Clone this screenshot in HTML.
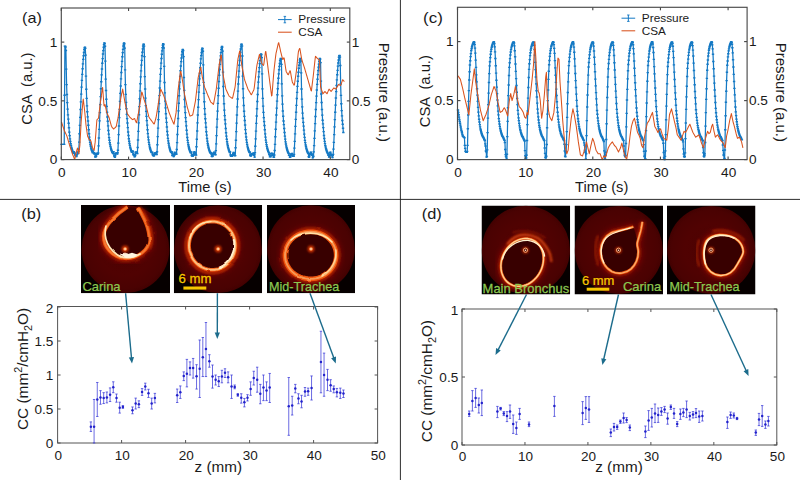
<!DOCTYPE html>
<html><head><meta charset="utf-8"><title>Figure</title>
<style>html,body{margin:0;padding:0;background:#fff;}body{width:800px;height:480px;overflow:hidden;font-family:"Liberation Sans",sans-serif;}svg{display:block;font-family:"Liberation Sans",sans-serif;}</style>
</head><body>
<svg width="800" height="480" viewBox="0 0 800 480">
<defs>
<radialGradient id="disc" cx="50%" cy="50%" r="50%"><stop offset="0" stop-color="#4c0101"/><stop offset="0.6" stop-color="#500202"/><stop offset="0.9" stop-color="#4a0202"/><stop offset="1" stop-color="#420101"/></radialGradient>
<filter id="b3" x="-40%" y="-40%" width="180%" height="180%"><feGaussianBlur stdDeviation="2.6"/></filter>
<filter id="b2" x="-30%" y="-30%" width="160%" height="160%"><feGaussianBlur stdDeviation="1.7"/></filter>
<filter id="b1" x="-30%" y="-30%" width="160%" height="160%"><feGaussianBlur stdDeviation="0.9"/></filter>
<filter id="rough" x="-10%" y="-10%" width="120%" height="120%"><feTurbulence type="fractalNoise" baseFrequency="0.07" numOctaves="2" seed="4" result="n"/><feDisplacementMap in="SourceGraphic" in2="n" scale="2.4" xChannelSelector="R" yChannelSelector="G" result="d"/><feGaussianBlur in="d" stdDeviation="0.55"/></filter>
<filter id="rough2" x="-10%" y="-10%" width="120%" height="120%"><feTurbulence type="fractalNoise" baseFrequency="0.06" numOctaves="2" seed="9" result="n"/><feDisplacementMap in="SourceGraphic" in2="n" scale="1.8" xChannelSelector="R" yChannelSelector="G" result="d"/><feGaussianBlur in="d" stdDeviation="0.35"/></filter>
<filter id="b07" x="-30%" y="-30%" width="160%" height="160%"><feGaussianBlur stdDeviation="0.65"/></filter>
<filter id="b05" x="-30%" y="-30%" width="160%" height="160%"><feGaussianBlur stdDeviation="0.35"/></filter>
<clipPath id="clipb1"><rect x="81" y="205" width="89" height="88.3"/></clipPath>
<clipPath id="clipb2"><rect x="173.8" y="205" width="88.3" height="88.3"/></clipPath>
<clipPath id="clipb3"><rect x="267" y="205" width="88" height="88.3"/></clipPath>
<clipPath id="clipd1"><rect x="481.5" y="205.5" width="88.7" height="89"/></clipPath>
<clipPath id="clipd2"><rect x="574.5" y="205.5" width="88.5" height="89"/></clipPath>
<clipPath id="clipd3"><rect x="667" y="205.5" width="88.5" height="89"/></clipPath>
</defs>
<rect x="0" y="0" width="800" height="480" fill="#ffffff"/>
<line x1="0.00" y1="199.40" x2="800.00" y2="199.40" stroke="#222" stroke-width="0.95" />
<line x1="400.40" y1="0.00" x2="400.40" y2="480.00" stroke="#222" stroke-width="0.95" />
<path d="M61.50 144.32 L61.84 144.32 L62.18 144.32 L62.52 144.32 L62.86 144.32 L63.20 144.32 L63.54 144.32 L63.88 144.32 L64.22 144.32 L64.56 95.21 L64.90 46.09 L65.24 46.19 L65.58 47.00 L65.92 50.49 L66.26 69.08 L66.60 84.61 L66.94 94.50 L67.28 102.60 L67.62 109.19 L67.96 114.87 L68.30 119.09 L68.64 123.25 L68.98 127.79 L69.32 132.19 L69.66 135.60 L70.00 138.89 L70.34 141.33 L70.68 143.69 L71.02 145.44 L71.36 147.20 L71.70 148.47 L72.04 149.70 L72.38 150.74 L72.72 151.62 L73.06 152.49 L73.40 153.20 L73.74 151.65 L74.08 152.51 L74.42 153.20 L74.76 153.24 L75.10 154.64 L75.44 155.93 L75.78 155.13 L76.12 155.57 L76.46 156.54 L76.80 154.90 L77.14 154.15 L77.48 152.35 L77.82 152.28 L78.16 153.49 L78.50 151.66 L78.84 149.09 L79.18 142.08 L79.52 133.73 L79.86 125.37 L80.20 117.43 L80.54 109.54 L80.88 101.83 L81.22 94.14 L81.56 87.10 L81.90 80.33 L82.24 74.37 L82.58 68.73 L82.92 63.89 L83.26 59.38 L83.60 55.76 L83.94 52.51 L84.28 49.42 L84.62 47.66 L84.96 47.21 L85.30 48.43 L85.64 55.12 L85.98 76.19 L86.32 89.21 L86.66 98.40 L87.00 105.92 L87.34 111.73 L87.68 116.88 L88.02 120.95 L88.36 125.25 L88.70 129.76 L89.04 133.70 L89.38 137.08 L89.72 139.97 L90.06 142.40 L90.40 144.47 L90.74 146.22 L91.08 147.80 L91.42 149.02 L91.76 150.24 L92.10 151.14 L92.44 152.01 L92.78 152.76 L93.12 150.94 L93.46 152.72 L93.80 152.79 L94.14 153.70 L94.48 153.25 L94.82 154.01 L95.16 156.93 L95.50 157.08 L95.84 156.66 L96.18 155.99 L96.52 154.40 L96.86 153.28 L97.20 153.66 L97.54 154.30 L97.88 153.53 L98.22 152.90 L98.56 145.92 L98.90 138.03 L99.24 129.37 L99.58 120.85 L99.92 112.67 L100.26 104.55 L100.60 96.58 L100.94 88.71 L101.28 81.70 L101.62 74.80 L101.96 68.96 L102.30 63.24 L102.64 58.56 L102.98 54.02 L103.32 50.65 L103.66 47.28 L104.00 44.69 L104.34 42.86 L104.68 43.44 L105.02 46.22 L105.36 61.10 L105.70 79.14 L106.04 90.48 L106.38 99.24 L106.72 106.44 L107.06 112.28 L107.40 116.98 L107.74 121.21 L108.08 125.84 L108.42 130.52 L108.76 134.13 L109.10 137.64 L109.44 140.25 L109.78 142.76 L110.12 144.64 L110.46 146.44 L110.80 147.87 L111.14 149.13 L111.48 150.29 L111.82 151.19 L112.16 152.09 L112.50 152.71 L112.84 152.55 L113.18 153.51 L113.52 151.63 L113.86 153.84 L114.20 156.00 L114.54 155.58 L114.88 157.32 L115.22 155.70 L115.56 153.80 L115.90 153.26 L116.24 152.88 L116.58 153.52 L116.92 153.08 L117.26 153.98 L117.60 152.78 L117.94 150.21 L118.28 143.12 L118.62 134.62 L118.96 125.96 L119.30 117.63 L119.64 109.44 L119.98 101.41 L120.32 93.44 L120.66 85.95 L121.00 78.93 L121.34 72.50 L121.68 66.65 L122.02 61.39 L122.36 56.72 L122.70 52.69 L123.04 49.32 L123.38 45.95 L123.72 43.97 L124.06 42.94 L124.40 43.77 L124.74 48.07 L125.08 69.93 L125.42 84.58 L125.76 94.32 L126.10 102.31 L126.44 108.74 L126.78 114.43 L127.12 118.65 L127.46 123.01 L127.80 127.68 L128.14 132.01 L128.48 135.52 L128.82 138.73 L129.16 141.24 L129.50 143.54 L129.84 145.35 L130.18 147.10 L130.52 148.37 L130.86 149.63 L131.20 150.64 L131.54 151.54 L131.88 152.40 L132.22 151.79 L132.56 150.98 L132.90 151.37 L133.24 153.99 L133.58 155.06 L133.92 154.38 L134.26 155.34 L134.60 156.76 L134.94 156.29 L135.28 155.37 L135.62 152.38 L135.96 152.03 L136.30 153.69 L136.64 152.06 L136.98 152.31 L137.32 153.64 L137.66 147.51 L138.00 140.02 L138.34 131.43 L138.68 122.88 L139.02 114.77 L139.36 106.67 L139.70 98.76 L140.04 90.85 L140.38 83.79 L140.72 76.84 L141.06 70.92 L141.40 65.12 L141.74 60.35 L142.08 55.72 L142.42 52.23 L142.76 48.89 L143.10 45.99 L143.44 44.18 L143.78 44.20 L144.12 46.15 L144.46 56.67 L144.80 76.59 L145.14 88.99 L145.48 98.09 L145.82 105.64 L146.16 111.44 L146.50 116.44 L146.84 120.63 L147.18 125.13 L147.52 129.77 L147.86 133.60 L148.20 137.08 L148.54 139.88 L148.88 142.37 L149.22 144.38 L149.56 146.17 L149.90 147.70 L150.24 148.95 L150.58 150.17 L150.92 151.07 L151.26 151.96 L151.60 152.66 L151.94 152.66 L152.28 152.29 L152.62 154.23 L152.96 155.24 L153.30 154.78 L153.64 155.98 L153.98 155.74 L154.32 154.64 L154.66 153.38 L155.00 153.82 L155.34 152.68 L155.68 152.72 L156.02 152.93 L156.36 153.07 L156.70 154.55 L157.04 151.77 L157.38 144.74 L157.72 136.64 L158.06 128.05 L158.40 119.68 L158.74 111.57 L159.08 103.55 L159.42 95.64 L159.76 88.01 L160.10 81.05 L160.44 74.43 L160.78 68.63 L161.12 63.17 L161.46 58.53 L161.80 54.26 L162.14 50.92 L162.48 47.57 L162.82 45.28 L163.16 43.70 L163.50 44.53 L163.84 47.98 L164.18 66.39 L164.52 82.53 L164.86 92.80 L165.20 101.14 L165.54 107.92 L165.88 113.72 L166.22 118.09 L166.56 122.32 L166.90 126.96 L167.24 131.49 L167.58 134.97 L167.92 138.37 L168.26 140.86 L168.60 143.29 L168.94 145.08 L169.28 146.87 L169.62 148.19 L169.96 149.45 L170.30 150.53 L170.64 151.42 L170.98 152.31 L171.32 151.70 L171.66 151.74 L172.00 153.27 L172.34 155.61 L172.68 153.99 L173.02 155.17 L173.36 154.62 L173.70 156.57 L174.04 155.31 L174.38 155.06 L174.72 152.27 L175.06 153.39 L175.40 153.96 L175.74 153.74 L176.08 153.21 L176.42 154.25 L176.76 149.51 L177.10 142.69 L177.44 134.51 L177.78 126.32 L178.12 118.54 L178.46 110.81 L178.80 103.25 L179.14 95.72 L179.48 88.81 L179.82 82.18 L180.16 76.31 L180.50 70.79 L180.84 66.02 L181.18 61.60 L181.52 58.02 L181.86 54.83 L182.20 51.77 L182.54 50.04 L182.88 49.53 L183.22 50.62 L183.56 56.61 L183.90 77.50 L184.24 90.41 L184.58 99.46 L184.92 106.82 L185.26 112.56 L185.60 117.65 L185.94 121.64 L186.28 125.83 L186.62 130.25 L186.96 134.14 L187.30 137.45 L187.64 140.31 L187.98 142.69 L188.32 144.74 L188.66 146.45 L189.00 148.01 L189.34 149.21 L189.68 150.40 L190.02 151.29 L190.36 152.14 L190.70 152.89 L191.04 152.11 L191.38 151.99 L191.72 155.54 L192.06 154.53 L192.40 156.29 L192.74 156.24 L193.08 154.84 L193.42 155.30 L193.76 154.09 L194.10 152.84 L194.44 151.64 L194.78 153.56 L195.12 152.74 L195.46 153.93 L195.80 155.01 L196.14 155.18 L196.48 146.73 L196.82 139.25 L197.16 130.98 L197.50 122.84 L197.84 115.02 L198.18 107.26 L198.52 99.65 L198.86 92.11 L199.20 85.42 L199.54 78.80 L199.88 73.22 L200.22 67.73 L200.56 63.26 L200.90 58.89 L201.24 55.67 L201.58 52.45 L201.92 49.93 L202.26 48.19 L202.60 48.67 L202.94 51.22 L203.28 64.86 L203.62 82.35 L203.96 93.34 L204.30 101.75 L204.64 108.68 L204.98 114.26 L205.32 118.79 L205.66 122.82 L206.00 127.24 L206.34 131.70 L206.68 135.19 L207.02 138.54 L207.36 141.05 L207.70 143.45 L208.04 145.26 L208.38 146.99 L208.72 148.36 L209.06 149.57 L209.40 150.68 L209.74 151.54 L210.08 152.40 L210.42 153.00 L210.76 152.32 L211.10 153.51 L211.44 154.10 L211.78 156.21 L212.12 156.66 L212.46 154.44 L212.80 156.04 L213.14 153.53 L213.48 152.99 L213.82 154.26 L214.16 152.08 L214.50 152.43 L214.84 154.00 L215.18 154.58 L215.52 154.77 L215.86 150.69 L216.20 143.81 L216.54 135.59 L216.88 127.18 L217.22 119.09 L217.56 111.14 L217.90 103.33 L218.24 95.59 L218.58 88.29 L218.92 81.48 L219.26 75.21 L219.60 69.53 L219.94 64.39 L220.28 59.85 L220.62 55.90 L220.96 52.63 L221.30 49.36 L221.64 47.39 L221.98 46.31 L222.32 47.13 L222.66 51.18 L223.00 72.11 L223.34 86.49 L223.68 95.95 L224.02 103.76 L224.36 110.06 L224.70 115.62 L225.04 119.72 L225.38 123.94 L225.72 128.48 L226.06 132.71 L226.40 136.12 L226.74 139.26 L227.08 141.70 L227.42 143.96 L227.76 145.71 L228.10 147.43 L228.44 148.66 L228.78 149.89 L229.12 150.88 L229.46 151.75 L229.80 152.60 L230.14 151.87 L230.48 154.81 L230.82 155.87 L231.16 156.35 L231.50 155.30 L231.84 156.34 L232.18 154.88 L232.52 155.56 L232.86 154.62 L233.20 153.56 L233.54 152.42 L233.88 152.83 L234.22 153.67 L234.56 155.64 L234.90 155.73 L235.24 155.63 L235.58 147.72 L235.92 140.28 L236.26 131.69 L236.60 123.12 L236.94 115.01 L237.28 106.90 L237.62 98.99 L237.96 91.09 L238.30 84.00 L238.64 77.04 L238.98 71.09 L239.32 65.29 L239.66 60.49 L240.00 55.85 L240.34 52.33 L240.68 48.99 L241.02 46.05 L241.36 44.24 L241.70 44.18 L242.04 46.02 L242.38 55.95 L242.72 76.15 L243.06 88.71 L243.40 97.86 L243.74 105.47 L244.08 111.27 L244.42 116.32 L244.76 120.50 L245.10 124.99 L245.44 129.63 L245.78 133.50 L246.12 136.98 L246.46 139.80 L246.80 142.30 L247.14 144.32 L247.48 146.12 L247.82 147.66 L248.16 148.92 L248.50 150.15 L248.84 151.04 L249.18 151.93 L249.52 152.64 L249.86 151.95 L250.20 155.04 L250.54 155.73 L250.88 156.07 L251.22 154.27 L251.56 154.81 L251.90 154.57 L252.24 153.56 L252.58 153.47 L252.92 154.04 L253.26 154.30 L253.60 153.00 L253.94 155.44 L254.28 154.37 L254.62 157.13 L254.96 152.65 L255.30 146.24 L255.64 138.89 L255.98 131.06 L256.32 123.42 L256.66 116.02 L257.00 108.70 L257.34 101.49 L257.68 94.51 L258.02 88.16 L258.36 82.09 L258.70 76.80 L259.04 71.79 L259.38 67.56 L259.72 63.64 L260.06 60.58 L260.40 57.53 L260.74 55.41 L261.08 53.89 L261.42 54.65 L261.76 57.69 L262.10 73.94 L262.44 88.92 L262.78 98.43 L263.12 106.08 L263.46 112.32 L263.80 117.61 L264.14 121.64 L264.48 125.48 L264.82 129.71 L265.16 133.88 L265.50 137.05 L265.84 140.17 L266.18 142.44 L266.52 144.68 L266.86 146.31 L267.20 147.95 L267.54 149.16 L267.88 150.31 L268.22 151.30 L268.56 152.12 L268.90 152.93 L269.24 154.42 L269.58 155.05 L269.92 156.86 L270.26 156.88 L270.60 156.78 L270.94 155.42 L271.28 153.65 L271.62 153.20 L271.96 153.58 L272.30 153.45 L272.64 153.50 L272.98 154.65 L273.32 155.65 L273.66 157.22 L274.00 157.06 L274.34 155.00 L274.68 150.52 L275.02 144.30 L275.36 136.78 L275.70 129.27 L276.04 122.11 L276.38 115.01 L276.72 108.07 L277.06 101.16 L277.40 94.79 L277.74 88.70 L278.08 83.28 L278.42 78.21 L278.76 73.80 L279.10 69.75 L279.44 66.43 L279.78 63.50 L280.12 60.65 L280.46 59.06 L280.80 58.53 L281.14 59.43 L281.48 64.41 L281.82 83.84 L282.16 95.83 L282.50 104.19 L282.84 110.95 L283.18 116.27 L283.52 120.98 L283.86 124.64 L284.20 128.48 L284.54 132.54 L284.88 136.13 L285.22 139.18 L285.56 141.83 L285.90 144.01 L286.24 145.91 L286.58 147.48 L286.92 148.93 L287.26 150.02 L287.60 151.12 L287.94 151.95 L288.28 152.73 L288.62 153.42 L288.96 155.17 L289.30 155.23 L289.64 155.69 L289.98 157.34 L290.32 157.03 L290.66 154.98 L291.00 153.95 L291.34 153.89 L291.68 154.18 L292.02 153.41 L292.36 155.78 L292.70 155.84 L293.04 156.21 L293.38 155.30 L293.72 156.23 L294.06 154.33 L294.40 148.09 L294.74 141.34 L295.08 133.82 L295.42 126.41 L295.76 119.31 L296.10 112.26 L296.44 105.35 L296.78 98.47 L297.12 92.39 L297.46 86.35 L297.80 81.28 L298.14 76.26 L298.48 72.20 L298.82 68.20 L299.16 65.28 L299.50 62.35 L299.84 60.02 L300.18 58.44 L300.52 58.81 L300.86 61.02 L301.20 72.90 L301.54 89.04 L301.88 99.16 L302.22 106.85 L302.56 113.19 L302.90 118.26 L303.24 122.42 L303.58 126.08 L303.92 130.08 L304.26 134.14 L304.60 137.33 L304.94 140.38 L305.28 142.69 L305.62 144.87 L305.96 146.53 L306.30 148.10 L306.64 149.36 L306.98 150.46 L307.32 151.48 L307.66 152.26 L308.00 153.04 L308.34 153.59 L308.68 156.55 L309.02 157.33 L309.36 156.49 L309.70 154.68 L310.04 154.05 L310.38 153.63 L310.72 152.23 L311.06 152.17 L311.40 154.12 L311.74 155.19 L312.08 153.95 L312.42 155.32 L312.76 157.88 L313.10 156.20 L313.44 156.47 L313.78 151.82 L314.12 145.67 L314.46 138.37 L314.80 130.86 L315.14 123.61 L315.48 116.52 L315.82 109.54 L316.16 102.62 L316.50 96.07 L316.84 89.99 L317.18 84.35 L317.52 79.28 L317.86 74.66 L318.20 70.60 L318.54 67.05 L318.88 64.12 L319.22 61.20 L319.56 59.40 L319.90 58.37 L320.24 59.10 L320.58 62.62 L320.92 81.05 L321.26 94.04 L321.60 102.49 L321.94 109.52 L322.28 115.19 L322.62 120.20 L322.96 123.87 L323.30 127.62 L323.64 131.68 L323.98 135.49 L324.32 138.53 L324.66 141.37 L325.00 143.55 L325.34 145.58 L325.68 147.15 L326.02 148.69 L326.36 149.79 L326.70 150.89 L327.04 151.79 L327.38 152.57 L327.72 153.33 L328.06 153.77 L328.40 155.43 L328.74 154.88 L329.08 157.13 L329.42 155.89 L329.76 154.45 L330.10 152.40 L330.44 152.11 L330.78 153.91 L331.12 154.91 L331.46 155.27 L331.80 155.94 L332.14 155.31 L332.48 157.57 L332.82 155.50 L333.16 154.41 L333.50 149.08 L333.84 142.40 L334.18 134.66 L334.52 126.92 L334.86 119.60 L335.20 112.29 L335.54 105.16 L335.88 98.03 L336.22 91.61 L336.56 85.34 L336.90 79.94 L337.24 74.71 L337.58 70.35 L337.92 66.17 L338.26 62.96 L338.60 59.95 L338.94 57.25 L339.28 55.62 L339.62 55.50 L339.96 57.05 L340.30 65.48 L340.64 83.95 L340.98 95.42 L341.32 103.72 L341.66 110.63 L342.00 115.86 L342.34 120.46 L342.68 124.24 L343.02 128.27 L343.36 132.45" fill="none" stroke="#1479c4" stroke-width="1.25" stroke-linejoin="round"/>
<path d="M60.30 144.32h2.4M60.64 144.32h2.4M60.98 144.32h2.4M61.32 144.32h2.4M61.66 144.32h2.4M62.00 144.32h2.4M62.34 144.32h2.4M62.68 144.32h2.4M63.02 144.32h2.4M63.36 95.21h2.4M63.70 46.09h2.4M64.04 46.19h2.4M64.38 47.00h2.4M64.72 50.49h2.4M65.06 69.08h2.4M65.40 84.61h2.4M65.74 94.50h2.4M66.08 102.60h2.4M66.42 109.19h2.4M66.76 114.87h2.4M67.10 119.09h2.4M67.44 123.25h2.4M67.78 127.79h2.4M68.12 132.19h2.4M68.46 135.60h2.4M68.80 138.89h2.4M69.14 141.33h2.4M69.48 143.69h2.4M69.82 145.44h2.4M70.16 147.20h2.4M70.50 148.47h2.4M70.84 149.70h2.4M71.18 150.74h2.4M71.52 151.62h2.4M71.86 152.49h2.4M72.20 153.20h2.4M72.54 151.65h2.4M72.88 152.51h2.4M73.22 153.20h2.4M73.56 153.24h2.4M73.90 154.64h2.4M74.24 155.93h2.4M74.58 155.13h2.4M74.92 155.57h2.4M75.26 156.54h2.4M75.60 154.90h2.4M75.94 154.15h2.4M76.28 152.35h2.4M76.62 152.28h2.4M76.96 153.49h2.4M77.30 151.66h2.4M77.64 149.09h2.4M77.98 142.08h2.4M78.32 133.73h2.4M78.66 125.37h2.4M79.00 117.43h2.4M79.34 109.54h2.4M79.68 101.83h2.4M80.02 94.14h2.4M80.36 87.10h2.4M80.70 80.33h2.4M81.04 74.37h2.4M81.38 68.73h2.4M81.72 63.89h2.4M82.06 59.38h2.4M82.40 55.76h2.4M82.74 52.51h2.4M83.08 49.42h2.4M83.42 47.66h2.4M83.76 47.21h2.4M84.10 48.43h2.4M84.44 55.12h2.4M84.78 76.19h2.4M85.12 89.21h2.4M85.46 98.40h2.4M85.80 105.92h2.4M86.14 111.73h2.4M86.48 116.88h2.4M86.82 120.95h2.4M87.16 125.25h2.4M87.50 129.76h2.4M87.84 133.70h2.4M88.18 137.08h2.4M88.52 139.97h2.4M88.86 142.40h2.4M89.20 144.47h2.4M89.54 146.22h2.4M89.88 147.80h2.4M90.22 149.02h2.4M90.56 150.24h2.4M90.90 151.14h2.4M91.24 152.01h2.4M91.58 152.76h2.4M91.92 150.94h2.4M92.26 152.72h2.4M92.60 152.79h2.4M92.94 153.70h2.4M93.28 153.25h2.4M93.62 154.01h2.4M93.96 156.93h2.4M94.30 157.08h2.4M94.64 156.66h2.4M94.98 155.99h2.4M95.32 154.40h2.4M95.66 153.28h2.4M96.00 153.66h2.4M96.34 154.30h2.4M96.68 153.53h2.4M97.02 152.90h2.4M97.36 145.92h2.4M97.70 138.03h2.4M98.04 129.37h2.4M98.38 120.85h2.4M98.72 112.67h2.4M99.06 104.55h2.4M99.40 96.58h2.4M99.74 88.71h2.4M100.08 81.70h2.4M100.42 74.80h2.4M100.76 68.96h2.4M101.10 63.24h2.4M101.44 58.56h2.4M101.78 54.02h2.4M102.12 50.65h2.4M102.46 47.28h2.4M102.80 44.69h2.4M103.14 42.86h2.4M103.48 43.44h2.4M103.82 46.22h2.4M104.16 61.10h2.4M104.50 79.14h2.4M104.84 90.48h2.4M105.18 99.24h2.4M105.52 106.44h2.4M105.86 112.28h2.4M106.20 116.98h2.4M106.54 121.21h2.4M106.88 125.84h2.4M107.22 130.52h2.4M107.56 134.13h2.4M107.90 137.64h2.4M108.24 140.25h2.4M108.58 142.76h2.4M108.92 144.64h2.4M109.26 146.44h2.4M109.60 147.87h2.4M109.94 149.13h2.4M110.28 150.29h2.4M110.62 151.19h2.4M110.96 152.09h2.4M111.30 152.71h2.4M111.64 152.55h2.4M111.98 153.51h2.4M112.32 151.63h2.4M112.66 153.84h2.4M113.00 156.00h2.4M113.34 155.58h2.4M113.68 157.32h2.4M114.02 155.70h2.4M114.36 153.80h2.4M114.70 153.26h2.4M115.04 152.88h2.4M115.38 153.52h2.4M115.72 153.08h2.4M116.06 153.98h2.4M116.40 152.78h2.4M116.74 150.21h2.4M117.08 143.12h2.4M117.42 134.62h2.4M117.76 125.96h2.4M118.10 117.63h2.4M118.44 109.44h2.4M118.78 101.41h2.4M119.12 93.44h2.4M119.46 85.95h2.4M119.80 78.93h2.4M120.14 72.50h2.4M120.48 66.65h2.4M120.82 61.39h2.4M121.16 56.72h2.4M121.50 52.69h2.4M121.84 49.32h2.4M122.18 45.95h2.4M122.52 43.97h2.4M122.86 42.94h2.4M123.20 43.77h2.4M123.54 48.07h2.4M123.88 69.93h2.4M124.22 84.58h2.4M124.56 94.32h2.4M124.90 102.31h2.4M125.24 108.74h2.4M125.58 114.43h2.4M125.92 118.65h2.4M126.26 123.01h2.4M126.60 127.68h2.4M126.94 132.01h2.4M127.28 135.52h2.4M127.62 138.73h2.4M127.96 141.24h2.4M128.30 143.54h2.4M128.64 145.35h2.4M128.98 147.10h2.4M129.32 148.37h2.4M129.66 149.63h2.4M130.00 150.64h2.4M130.34 151.54h2.4M130.68 152.40h2.4M131.02 151.79h2.4M131.36 150.98h2.4M131.70 151.37h2.4M132.04 153.99h2.4M132.38 155.06h2.4M132.72 154.38h2.4M133.06 155.34h2.4M133.40 156.76h2.4M133.74 156.29h2.4M134.08 155.37h2.4M134.42 152.38h2.4M134.76 152.03h2.4M135.10 153.69h2.4M135.44 152.06h2.4M135.78 152.31h2.4M136.12 153.64h2.4M136.46 147.51h2.4M136.80 140.02h2.4M137.14 131.43h2.4M137.48 122.88h2.4M137.82 114.77h2.4M138.16 106.67h2.4M138.50 98.76h2.4M138.84 90.85h2.4M139.18 83.79h2.4M139.52 76.84h2.4M139.86 70.92h2.4M140.20 65.12h2.4M140.54 60.35h2.4M140.88 55.72h2.4M141.22 52.23h2.4M141.56 48.89h2.4M141.90 45.99h2.4M142.24 44.18h2.4M142.58 44.20h2.4M142.92 46.15h2.4M143.26 56.67h2.4M143.60 76.59h2.4M143.94 88.99h2.4M144.28 98.09h2.4M144.62 105.64h2.4M144.96 111.44h2.4M145.30 116.44h2.4M145.64 120.63h2.4M145.98 125.13h2.4M146.32 129.77h2.4M146.66 133.60h2.4M147.00 137.08h2.4M147.34 139.88h2.4M147.68 142.37h2.4M148.02 144.38h2.4M148.36 146.17h2.4M148.70 147.70h2.4M149.04 148.95h2.4M149.38 150.17h2.4M149.72 151.07h2.4M150.06 151.96h2.4M150.40 152.66h2.4M150.74 152.66h2.4M151.08 152.29h2.4M151.42 154.23h2.4M151.76 155.24h2.4M152.10 154.78h2.4M152.44 155.98h2.4M152.78 155.74h2.4M153.12 154.64h2.4M153.46 153.38h2.4M153.80 153.82h2.4M154.14 152.68h2.4M154.48 152.72h2.4M154.82 152.93h2.4M155.16 153.07h2.4M155.50 154.55h2.4M155.84 151.77h2.4M156.18 144.74h2.4M156.52 136.64h2.4M156.86 128.05h2.4M157.20 119.68h2.4M157.54 111.57h2.4M157.88 103.55h2.4M158.22 95.64h2.4M158.56 88.01h2.4M158.90 81.05h2.4M159.24 74.43h2.4M159.58 68.63h2.4M159.92 63.17h2.4M160.26 58.53h2.4M160.60 54.26h2.4M160.94 50.92h2.4M161.28 47.57h2.4M161.62 45.28h2.4M161.96 43.70h2.4M162.30 44.53h2.4M162.64 47.98h2.4M162.98 66.39h2.4M163.32 82.53h2.4M163.66 92.80h2.4M164.00 101.14h2.4M164.34 107.92h2.4M164.68 113.72h2.4M165.02 118.09h2.4M165.36 122.32h2.4M165.70 126.96h2.4M166.04 131.49h2.4M166.38 134.97h2.4M166.72 138.37h2.4M167.06 140.86h2.4M167.40 143.29h2.4M167.74 145.08h2.4M168.08 146.87h2.4M168.42 148.19h2.4M168.76 149.45h2.4M169.10 150.53h2.4M169.44 151.42h2.4M169.78 152.31h2.4M170.12 151.70h2.4M170.46 151.74h2.4M170.80 153.27h2.4M171.14 155.61h2.4M171.48 153.99h2.4M171.82 155.17h2.4M172.16 154.62h2.4M172.50 156.57h2.4M172.84 155.31h2.4M173.18 155.06h2.4M173.52 152.27h2.4M173.86 153.39h2.4M174.20 153.96h2.4M174.54 153.74h2.4M174.88 153.21h2.4M175.22 154.25h2.4M175.56 149.51h2.4M175.90 142.69h2.4M176.24 134.51h2.4M176.58 126.32h2.4M176.92 118.54h2.4M177.26 110.81h2.4M177.60 103.25h2.4M177.94 95.72h2.4M178.28 88.81h2.4M178.62 82.18h2.4M178.96 76.31h2.4M179.30 70.79h2.4M179.64 66.02h2.4M179.98 61.60h2.4M180.32 58.02h2.4M180.66 54.83h2.4M181.00 51.77h2.4M181.34 50.04h2.4M181.68 49.53h2.4M182.02 50.62h2.4M182.36 56.61h2.4M182.70 77.50h2.4M183.04 90.41h2.4M183.38 99.46h2.4M183.72 106.82h2.4M184.06 112.56h2.4M184.40 117.65h2.4M184.74 121.64h2.4M185.08 125.83h2.4M185.42 130.25h2.4M185.76 134.14h2.4M186.10 137.45h2.4M186.44 140.31h2.4M186.78 142.69h2.4M187.12 144.74h2.4M187.46 146.45h2.4M187.80 148.01h2.4M188.14 149.21h2.4M188.48 150.40h2.4M188.82 151.29h2.4M189.16 152.14h2.4M189.50 152.89h2.4M189.84 152.11h2.4M190.18 151.99h2.4M190.52 155.54h2.4M190.86 154.53h2.4M191.20 156.29h2.4M191.54 156.24h2.4M191.88 154.84h2.4M192.22 155.30h2.4M192.56 154.09h2.4M192.90 152.84h2.4M193.24 151.64h2.4M193.58 153.56h2.4M193.92 152.74h2.4M194.26 153.93h2.4M194.60 155.01h2.4M194.94 155.18h2.4M195.28 146.73h2.4M195.62 139.25h2.4M195.96 130.98h2.4M196.30 122.84h2.4M196.64 115.02h2.4M196.98 107.26h2.4M197.32 99.65h2.4M197.66 92.11h2.4M198.00 85.42h2.4M198.34 78.80h2.4M198.68 73.22h2.4M199.02 67.73h2.4M199.36 63.26h2.4M199.70 58.89h2.4M200.04 55.67h2.4M200.38 52.45h2.4M200.72 49.93h2.4M201.06 48.19h2.4M201.40 48.67h2.4M201.74 51.22h2.4M202.08 64.86h2.4M202.42 82.35h2.4M202.76 93.34h2.4M203.10 101.75h2.4M203.44 108.68h2.4M203.78 114.26h2.4M204.12 118.79h2.4M204.46 122.82h2.4M204.80 127.24h2.4M205.14 131.70h2.4M205.48 135.19h2.4M205.82 138.54h2.4M206.16 141.05h2.4M206.50 143.45h2.4M206.84 145.26h2.4M207.18 146.99h2.4M207.52 148.36h2.4M207.86 149.57h2.4M208.20 150.68h2.4M208.54 151.54h2.4M208.88 152.40h2.4M209.22 153.00h2.4M209.56 152.32h2.4M209.90 153.51h2.4M210.24 154.10h2.4M210.58 156.21h2.4M210.92 156.66h2.4M211.26 154.44h2.4M211.60 156.04h2.4M211.94 153.53h2.4M212.28 152.99h2.4M212.62 154.26h2.4M212.96 152.08h2.4M213.30 152.43h2.4M213.64 154.00h2.4M213.98 154.58h2.4M214.32 154.77h2.4M214.66 150.69h2.4M215.00 143.81h2.4M215.34 135.59h2.4M215.68 127.18h2.4M216.02 119.09h2.4M216.36 111.14h2.4M216.70 103.33h2.4M217.04 95.59h2.4M217.38 88.29h2.4M217.72 81.48h2.4M218.06 75.21h2.4M218.40 69.53h2.4M218.74 64.39h2.4M219.08 59.85h2.4M219.42 55.90h2.4M219.76 52.63h2.4M220.10 49.36h2.4M220.44 47.39h2.4M220.78 46.31h2.4M221.12 47.13h2.4M221.46 51.18h2.4M221.80 72.11h2.4M222.14 86.49h2.4M222.48 95.95h2.4M222.82 103.76h2.4M223.16 110.06h2.4M223.50 115.62h2.4M223.84 119.72h2.4M224.18 123.94h2.4M224.52 128.48h2.4M224.86 132.71h2.4M225.20 136.12h2.4M225.54 139.26h2.4M225.88 141.70h2.4M226.22 143.96h2.4M226.56 145.71h2.4M226.90 147.43h2.4M227.24 148.66h2.4M227.58 149.89h2.4M227.92 150.88h2.4M228.26 151.75h2.4M228.60 152.60h2.4M228.94 151.87h2.4M229.28 154.81h2.4M229.62 155.87h2.4M229.96 156.35h2.4M230.30 155.30h2.4M230.64 156.34h2.4M230.98 154.88h2.4M231.32 155.56h2.4M231.66 154.62h2.4M232.00 153.56h2.4M232.34 152.42h2.4M232.68 152.83h2.4M233.02 153.67h2.4M233.36 155.64h2.4M233.70 155.73h2.4M234.04 155.63h2.4M234.38 147.72h2.4M234.72 140.28h2.4M235.06 131.69h2.4M235.40 123.12h2.4M235.74 115.01h2.4M236.08 106.90h2.4M236.42 98.99h2.4M236.76 91.09h2.4M237.10 84.00h2.4M237.44 77.04h2.4M237.78 71.09h2.4M238.12 65.29h2.4M238.46 60.49h2.4M238.80 55.85h2.4M239.14 52.33h2.4M239.48 48.99h2.4M239.82 46.05h2.4M240.16 44.24h2.4M240.50 44.18h2.4M240.84 46.02h2.4M241.18 55.95h2.4M241.52 76.15h2.4M241.86 88.71h2.4M242.20 97.86h2.4M242.54 105.47h2.4M242.88 111.27h2.4M243.22 116.32h2.4M243.56 120.50h2.4M243.90 124.99h2.4M244.24 129.63h2.4M244.58 133.50h2.4M244.92 136.98h2.4M245.26 139.80h2.4M245.60 142.30h2.4M245.94 144.32h2.4M246.28 146.12h2.4M246.62 147.66h2.4M246.96 148.92h2.4M247.30 150.15h2.4M247.64 151.04h2.4M247.98 151.93h2.4M248.32 152.64h2.4M248.66 151.95h2.4M249.00 155.04h2.4M249.34 155.73h2.4M249.68 156.07h2.4M250.02 154.27h2.4M250.36 154.81h2.4M250.70 154.57h2.4M251.04 153.56h2.4M251.38 153.47h2.4M251.72 154.04h2.4M252.06 154.30h2.4M252.40 153.00h2.4M252.74 155.44h2.4M253.08 154.37h2.4M253.42 157.13h2.4M253.76 152.65h2.4M254.10 146.24h2.4M254.44 138.89h2.4M254.78 131.06h2.4M255.12 123.42h2.4M255.46 116.02h2.4M255.80 108.70h2.4M256.14 101.49h2.4M256.48 94.51h2.4M256.82 88.16h2.4M257.16 82.09h2.4M257.50 76.80h2.4M257.84 71.79h2.4M258.18 67.56h2.4M258.52 63.64h2.4M258.86 60.58h2.4M259.20 57.53h2.4M259.54 55.41h2.4M259.88 53.89h2.4M260.22 54.65h2.4M260.56 57.69h2.4M260.90 73.94h2.4M261.24 88.92h2.4M261.58 98.43h2.4M261.92 106.08h2.4M262.26 112.32h2.4M262.60 117.61h2.4M262.94 121.64h2.4M263.28 125.48h2.4M263.62 129.71h2.4M263.96 133.88h2.4M264.30 137.05h2.4M264.64 140.17h2.4M264.98 142.44h2.4M265.32 144.68h2.4M265.66 146.31h2.4M266.00 147.95h2.4M266.34 149.16h2.4M266.68 150.31h2.4M267.02 151.30h2.4M267.36 152.12h2.4M267.70 152.93h2.4M268.04 154.42h2.4M268.38 155.05h2.4M268.72 156.86h2.4M269.06 156.88h2.4M269.40 156.78h2.4M269.74 155.42h2.4M270.08 153.65h2.4M270.42 153.20h2.4M270.76 153.58h2.4M271.10 153.45h2.4M271.44 153.50h2.4M271.78 154.65h2.4M272.12 155.65h2.4M272.46 157.22h2.4M272.80 157.06h2.4M273.14 155.00h2.4M273.48 150.52h2.4M273.82 144.30h2.4M274.16 136.78h2.4M274.50 129.27h2.4M274.84 122.11h2.4M275.18 115.01h2.4M275.52 108.07h2.4M275.86 101.16h2.4M276.20 94.79h2.4M276.54 88.70h2.4M276.88 83.28h2.4M277.22 78.21h2.4M277.56 73.80h2.4M277.90 69.75h2.4M278.24 66.43h2.4M278.58 63.50h2.4M278.92 60.65h2.4M279.26 59.06h2.4M279.60 58.53h2.4M279.94 59.43h2.4M280.28 64.41h2.4M280.62 83.84h2.4M280.96 95.83h2.4M281.30 104.19h2.4M281.64 110.95h2.4M281.98 116.27h2.4M282.32 120.98h2.4M282.66 124.64h2.4M283.00 128.48h2.4M283.34 132.54h2.4M283.68 136.13h2.4M284.02 139.18h2.4M284.36 141.83h2.4M284.70 144.01h2.4M285.04 145.91h2.4M285.38 147.48h2.4M285.72 148.93h2.4M286.06 150.02h2.4M286.40 151.12h2.4M286.74 151.95h2.4M287.08 152.73h2.4M287.42 153.42h2.4M287.76 155.17h2.4M288.10 155.23h2.4M288.44 155.69h2.4M288.78 157.34h2.4M289.12 157.03h2.4M289.46 154.98h2.4M289.80 153.95h2.4M290.14 153.89h2.4M290.48 154.18h2.4M290.82 153.41h2.4M291.16 155.78h2.4M291.50 155.84h2.4M291.84 156.21h2.4M292.18 155.30h2.4M292.52 156.23h2.4M292.86 154.33h2.4M293.20 148.09h2.4M293.54 141.34h2.4M293.88 133.82h2.4M294.22 126.41h2.4M294.56 119.31h2.4M294.90 112.26h2.4M295.24 105.35h2.4M295.58 98.47h2.4M295.92 92.39h2.4M296.26 86.35h2.4M296.60 81.28h2.4M296.94 76.26h2.4M297.28 72.20h2.4M297.62 68.20h2.4M297.96 65.28h2.4M298.30 62.35h2.4M298.64 60.02h2.4M298.98 58.44h2.4M299.32 58.81h2.4M299.66 61.02h2.4M300.00 72.90h2.4M300.34 89.04h2.4M300.68 99.16h2.4M301.02 106.85h2.4M301.36 113.19h2.4M301.70 118.26h2.4M302.04 122.42h2.4M302.38 126.08h2.4M302.72 130.08h2.4M303.06 134.14h2.4M303.40 137.33h2.4M303.74 140.38h2.4M304.08 142.69h2.4M304.42 144.87h2.4M304.76 146.53h2.4M305.10 148.10h2.4M305.44 149.36h2.4M305.78 150.46h2.4M306.12 151.48h2.4M306.46 152.26h2.4M306.80 153.04h2.4M307.14 153.59h2.4M307.48 156.55h2.4M307.82 157.33h2.4M308.16 156.49h2.4M308.50 154.68h2.4M308.84 154.05h2.4M309.18 153.63h2.4M309.52 152.23h2.4M309.86 152.17h2.4M310.20 154.12h2.4M310.54 155.19h2.4M310.88 153.95h2.4M311.22 155.32h2.4M311.56 157.88h2.4M311.90 156.20h2.4M312.24 156.47h2.4M312.58 151.82h2.4M312.92 145.67h2.4M313.26 138.37h2.4M313.60 130.86h2.4M313.94 123.61h2.4M314.28 116.52h2.4M314.62 109.54h2.4M314.96 102.62h2.4M315.30 96.07h2.4M315.64 89.99h2.4M315.98 84.35h2.4M316.32 79.28h2.4M316.66 74.66h2.4M317.00 70.60h2.4M317.34 67.05h2.4M317.68 64.12h2.4M318.02 61.20h2.4M318.36 59.40h2.4M318.70 58.37h2.4M319.04 59.10h2.4M319.38 62.62h2.4M319.72 81.05h2.4M320.06 94.04h2.4M320.40 102.49h2.4M320.74 109.52h2.4M321.08 115.19h2.4M321.42 120.20h2.4M321.76 123.87h2.4M322.10 127.62h2.4M322.44 131.68h2.4M322.78 135.49h2.4M323.12 138.53h2.4M323.46 141.37h2.4M323.80 143.55h2.4M324.14 145.58h2.4M324.48 147.15h2.4M324.82 148.69h2.4M325.16 149.79h2.4M325.50 150.89h2.4M325.84 151.79h2.4M326.18 152.57h2.4M326.52 153.33h2.4M326.86 153.77h2.4M327.20 155.43h2.4M327.54 154.88h2.4M327.88 157.13h2.4M328.22 155.89h2.4M328.56 154.45h2.4M328.90 152.40h2.4M329.24 152.11h2.4M329.58 153.91h2.4M329.92 154.91h2.4M330.26 155.27h2.4M330.60 155.94h2.4M330.94 155.31h2.4M331.28 157.57h2.4M331.62 155.50h2.4M331.96 154.41h2.4M332.30 149.08h2.4M332.64 142.40h2.4M332.98 134.66h2.4M333.32 126.92h2.4M333.66 119.60h2.4M334.00 112.29h2.4M334.34 105.16h2.4M334.68 98.03h2.4M335.02 91.61h2.4M335.36 85.34h2.4M335.70 79.94h2.4M336.04 74.71h2.4M336.38 70.35h2.4M336.72 66.17h2.4M337.06 62.96h2.4M337.40 59.95h2.4M337.74 57.25h2.4M338.08 55.62h2.4M338.42 55.50h2.4M338.76 57.05h2.4M339.10 65.48h2.4M339.44 83.95h2.4M339.78 95.42h2.4M340.12 103.72h2.4M340.46 110.63h2.4M340.80 115.86h2.4M341.14 120.46h2.4M341.48 124.24h2.4M341.82 128.27h2.4M342.16 132.45h2.4" fill="none" stroke="#1479c4" stroke-width="1.35"/>
<path d="M61.50 122.00 L61.84 123.03 L62.18 124.06 L62.52 125.08 L62.86 126.11 L63.20 127.14 L63.54 128.17 L63.88 129.20 L64.22 130.22 L64.56 130.96 L64.90 131.69 L65.24 132.43 L65.58 133.16 L65.92 133.90 L66.26 134.63 L66.60 135.37 L66.94 136.10 L67.28 137.28 L67.62 138.45 L67.96 139.62 L68.30 140.80 L68.64 141.97 L68.98 143.15 L69.32 144.32 L69.66 145.50 L70.00 146.53 L70.34 147.56 L70.68 148.58 L71.02 149.61 L71.36 150.64 L71.70 151.67 L72.04 152.70 L72.38 153.72 L72.72 154.59 L73.06 155.45 L73.40 156.32 L73.74 157.18 L74.08 158.04 L74.42 158.91 L74.76 159.26 L75.10 157.59 L75.44 155.91 L75.78 154.23 L76.12 152.55 L76.46 151.43 L76.80 150.31 L77.14 149.19 L77.48 148.07 L77.82 149.09 L78.16 150.63 L78.50 152.18 L78.84 153.72 L79.18 150.98 L79.52 148.24 L79.86 145.50 L80.20 139.33 L80.54 133.16 L80.88 126.99 L81.22 120.83 L81.56 116.98 L81.90 113.13 L82.24 109.28 L82.58 105.43 L82.92 101.58 L83.26 99.07 L83.60 101.90 L83.94 104.74 L84.28 107.57 L84.62 110.45 L84.96 114.07 L85.30 117.70 L85.64 121.32 L85.98 124.75 L86.32 127.17 L86.66 129.58 L87.00 132.00 L87.34 134.42 L87.68 136.32 L88.02 137.04 L88.36 137.77 L88.70 138.49 L89.04 139.22 L89.38 139.73 L89.72 139.97 L90.06 140.21 L90.40 140.46 L90.74 140.70 L91.08 141.64 L91.42 143.09 L91.76 144.54 L92.10 145.99 L92.44 147.44 L92.78 148.21 L93.12 148.71 L93.46 149.22 L93.80 149.72 L94.14 150.07 L94.48 147.43 L94.82 144.78 L95.16 142.14 L95.50 137.83 L95.84 133.42 L96.18 129.00 L96.52 124.59 L96.86 120.17 L97.20 119.43 L97.54 119.18 L97.88 118.92 L98.22 118.67 L98.56 117.83 L98.90 114.81 L99.24 111.79 L99.58 108.77 L99.92 105.93 L100.26 103.49 L100.60 101.04 L100.94 98.60 L101.28 96.15 L101.62 93.71 L101.96 91.26 L102.30 88.81 L102.64 87.45 L102.98 91.95 L103.32 96.46 L103.66 100.96 L104.00 105.46 L104.34 106.14 L104.68 105.32 L105.02 104.51 L105.36 105.81 L105.70 107.53 L106.04 109.24 L106.38 110.95 L106.72 112.63 L107.06 113.33 L107.40 114.03 L107.74 114.73 L108.08 115.43 L108.42 116.12 L108.76 116.82 L109.10 117.69 L109.44 118.92 L109.78 120.14 L110.12 121.36 L110.46 122.59 L110.80 123.81 L111.14 125.04 L111.48 126.26 L111.82 126.96 L112.16 127.37 L112.50 127.78 L112.84 128.19 L113.18 128.59 L113.52 129.00 L113.86 128.78 L114.20 128.47 L114.54 128.17 L114.88 127.86 L115.22 127.56 L115.56 127.25 L115.90 126.94 L116.24 126.37 L116.58 124.74 L116.92 123.11 L117.26 121.48 L117.60 119.85 L117.94 118.21 L118.28 116.22 L118.62 113.78 L118.96 111.33 L119.30 108.88 L119.64 106.43 L119.98 103.98 L120.32 101.54 L120.66 99.09 L121.00 97.26 L121.34 95.63 L121.68 94.00 L122.02 92.36 L122.36 90.73 L122.70 89.10 L123.04 91.12 L123.38 93.14 L123.72 95.16 L124.06 97.18 L124.40 99.21 L124.74 101.16 L125.08 102.83 L125.42 104.50 L125.76 106.16 L126.10 107.83 L126.44 109.50 L126.78 111.16 L127.12 112.83 L127.46 113.97 L127.80 114.43 L128.14 114.88 L128.48 115.34 L128.82 115.79 L129.16 116.25 L129.50 116.70 L129.84 117.16 L130.18 117.51 L130.52 117.81 L130.86 118.11 L131.20 118.42 L131.54 118.72 L131.88 119.02 L132.22 119.33 L132.56 119.63 L132.90 119.46 L133.24 119.26 L133.58 119.06 L133.92 118.86 L134.26 118.65 L134.60 118.57 L134.94 119.38 L135.28 120.19 L135.62 121.00 L135.96 121.80 L136.30 122.61 L136.64 122.62 L136.98 120.80 L137.32 118.99 L137.66 117.17 L138.00 115.35 L138.34 113.53 L138.68 111.61 L139.02 109.59 L139.36 107.57 L139.70 105.55 L140.04 103.53 L140.38 101.51 L140.72 99.21 L141.06 96.79 L141.40 94.36 L141.74 91.94 L142.08 92.43 L142.42 93.66 L142.76 94.88 L143.10 96.11 L143.44 97.33 L143.78 98.55 L144.12 99.62 L144.46 100.70 L144.80 101.77 L145.14 102.84 L145.48 103.91 L145.82 104.99 L146.16 106.06 L146.50 107.25 L146.84 108.63 L147.18 110.01 L147.52 111.38 L147.86 112.76 L148.20 114.14 L148.54 115.52 L148.88 116.90 L149.22 117.63 L149.56 118.09 L149.90 118.55 L150.24 119.01 L150.58 119.47 L150.92 119.92 L151.26 120.38 L151.60 120.84 L151.94 121.30 L152.28 121.76 L152.62 122.22 L152.96 122.68 L153.30 123.14 L153.64 123.60 L153.98 124.06 L154.32 123.89 L154.66 122.67 L155.00 121.44 L155.34 120.22 L155.68 118.99 L156.02 117.76 L156.36 115.97 L156.70 113.82 L157.04 111.68 L157.38 109.53 L157.72 107.39 L158.06 105.24 L158.40 103.10 L158.74 100.95 L159.08 98.91 L159.42 96.86 L159.76 94.82 L160.10 92.78 L160.44 90.73 L160.78 89.24 L161.12 89.96 L161.46 90.67 L161.80 91.39 L162.14 92.10 L162.48 92.81 L162.82 93.53 L163.16 94.24 L163.50 94.96 L163.84 95.95 L164.18 96.95 L164.52 97.95 L164.86 98.95 L165.20 99.95 L165.54 100.95 L165.88 101.95 L166.22 102.95 L166.56 104.06 L166.90 105.20 L167.24 106.34 L167.58 107.49 L167.92 108.63 L168.26 109.77 L168.60 110.92 L168.94 112.06 L169.28 113.05 L169.62 113.91 L169.96 114.77 L170.30 115.62 L170.64 116.48 L170.98 117.34 L171.32 118.19 L171.66 119.05 L172.00 119.88 L172.34 120.64 L172.68 121.40 L173.02 122.17 L173.36 122.93 L173.70 123.69 L174.04 124.10 L174.38 122.19 L174.72 120.29 L175.06 118.38 L175.40 116.48 L175.74 114.57 L176.08 112.67 L176.42 108.92 L176.76 105.11 L177.10 101.30 L177.44 97.49 L177.78 93.69 L178.12 89.88 L178.46 87.02 L178.80 84.41 L179.14 81.79 L179.48 79.18 L179.82 76.57 L180.16 73.96 L180.50 71.34 L180.84 71.41 L181.18 73.27 L181.52 75.12 L181.86 76.98 L182.20 78.83 L182.54 80.93 L182.88 83.25 L183.22 85.57 L183.56 87.89 L183.90 90.20 L184.24 92.52 L184.58 94.51 L184.92 96.11 L185.26 97.70 L185.60 99.30 L185.94 100.89 L186.28 102.48 L186.62 104.08 L186.96 105.67 L187.30 107.12 L187.64 108.28 L187.98 109.43 L188.32 110.59 L188.66 111.75 L189.00 112.91 L189.34 114.07 L189.68 115.23 L190.02 116.09 L190.36 115.95 L190.70 115.80 L191.04 115.66 L191.38 115.51 L191.72 115.37 L192.06 115.22 L192.40 115.08 L192.74 114.75 L193.08 113.01 L193.42 111.27 L193.76 109.53 L194.10 107.79 L194.44 106.05 L194.78 104.32 L195.12 102.58 L195.46 100.83 L195.80 97.93 L196.14 95.03 L196.48 92.14 L196.82 89.24 L197.16 86.34 L197.50 83.44 L197.84 80.55 L198.18 77.65 L198.52 76.01 L198.86 74.52 L199.20 73.03 L199.54 71.54 L199.88 70.05 L200.22 68.56 L200.56 67.07 L200.90 68.43 L201.24 70.49 L201.58 72.56 L201.92 74.63 L202.26 76.69 L202.60 78.39 L202.94 79.92 L203.28 81.45 L203.62 82.98 L203.96 84.51 L204.30 86.04 L204.64 87.21 L204.98 88.07 L205.32 88.94 L205.66 89.80 L206.00 90.66 L206.34 91.52 L206.68 92.38 L207.02 93.24 L207.36 94.08 L207.70 94.88 L208.04 95.69 L208.38 96.49 L208.72 97.29 L209.06 98.10 L209.40 98.90 L209.74 99.70 L210.08 100.51 L210.42 101.31 L210.76 102.06 L211.10 102.34 L211.44 102.63 L211.78 102.92 L212.12 103.20 L212.46 103.49 L212.80 103.78 L213.14 104.07 L213.48 104.35 L213.82 102.66 L214.16 100.79 L214.50 98.93 L214.84 97.06 L215.18 95.19 L215.52 93.33 L215.86 91.46 L216.20 89.60 L216.54 87.00 L216.88 84.13 L217.22 81.26 L217.56 78.39 L217.90 75.52 L218.24 72.65 L218.58 69.78 L218.92 66.91 L219.26 64.56 L219.60 62.65 L219.94 60.74 L220.28 58.82 L220.62 56.91 L220.96 55.00 L221.30 55.29 L221.64 58.89 L221.98 62.50 L222.32 66.10 L222.66 69.70 L223.00 73.30 L223.34 75.95 L223.68 77.75 L224.02 79.55 L224.36 81.36 L224.70 83.16 L225.04 84.96 L225.38 86.76 L225.72 88.56 L226.06 89.60 L226.40 90.32 L226.74 91.05 L227.08 91.77 L227.42 92.49 L227.76 93.21 L228.10 93.93 L228.44 94.65 L228.78 95.37 L229.12 96.09 L229.46 96.37 L229.80 96.61 L230.14 96.85 L230.48 97.09 L230.82 97.33 L231.16 97.57 L231.50 97.81 L231.84 98.05 L232.18 98.29 L232.52 98.31 L232.86 96.81 L233.20 95.31 L233.54 93.80 L233.88 92.30 L234.22 90.80 L234.56 89.30 L234.90 87.80 L235.24 85.71 L235.58 82.26 L235.92 78.81 L236.26 75.36 L236.60 71.91 L236.94 68.45 L237.28 65.00 L237.62 61.55 L237.96 58.97 L238.30 57.37 L238.64 55.77 L238.98 54.17 L239.32 52.57 L239.66 50.97 L240.00 51.85 L240.34 54.39 L240.68 56.93 L241.02 59.47 L241.36 62.02 L241.70 64.56 L242.04 66.64 L242.38 68.40 L242.72 70.16 L243.06 71.92 L243.40 73.67 L243.74 75.43 L244.08 77.19 L244.42 78.95 L244.76 80.24 L245.10 81.18 L245.44 82.12 L245.78 83.06 L246.12 83.99 L246.46 84.93 L246.80 85.87 L247.14 86.81 L247.48 87.75 L247.82 88.69 L248.16 89.43 L248.50 90.01 L248.84 90.60 L249.18 91.19 L249.52 91.77 L249.86 92.36 L250.20 92.95 L250.54 93.53 L250.88 94.12 L251.22 94.71 L251.56 94.58 L251.90 93.85 L252.24 93.11 L252.58 92.38 L252.92 91.65 L253.26 90.91 L253.60 90.18 L253.94 89.45 L254.28 87.56 L254.62 84.62 L254.96 81.69 L255.30 78.76 L255.64 75.83 L255.98 72.89 L256.32 69.96 L256.66 67.03 L257.00 64.85 L257.34 63.38 L257.68 61.92 L258.02 60.45 L258.36 58.98 L258.70 57.52 L259.04 56.05 L259.38 54.59 L259.72 54.63 L260.06 56.19 L260.40 57.76 L260.74 59.32 L261.08 60.88 L261.42 62.45 L261.76 63.44 L262.10 63.83 L262.44 64.22 L262.78 64.61 L263.12 65.00 L263.46 65.40 L263.80 64.39 L264.14 61.85 L264.48 59.30 L264.82 56.76 L265.16 54.22 L265.50 51.68 L265.84 51.51 L266.18 54.05 L266.52 56.59 L266.86 59.14 L267.20 61.68 L267.54 64.22 L267.88 66.85 L268.22 69.59 L268.56 72.32 L268.90 75.06 L269.24 77.80 L269.58 80.53 L269.92 83.18 L270.26 85.72 L270.60 88.27 L270.94 90.81 L271.28 93.35 L271.62 95.89 L271.96 95.45 L272.30 91.15 L272.64 86.85 L272.98 82.55 L273.32 78.25 L273.66 73.95 L274.00 70.23 L274.34 67.30 L274.68 64.37 L275.02 61.43 L275.36 58.50 L275.70 55.57 L276.04 53.24 L276.38 51.78 L276.72 50.31 L277.06 48.84 L277.40 47.38 L277.74 45.91 L278.08 44.45 L278.42 42.98 L278.76 42.73 L279.10 44.29 L279.44 45.85 L279.78 47.42 L280.12 48.98 L280.46 50.54 L280.80 52.03 L281.14 53.40 L281.48 54.77 L281.82 56.13 L282.16 57.50 L282.50 58.87 L282.84 59.50 L283.18 58.92 L283.52 58.33 L283.86 57.75 L284.20 58.24 L284.54 60.58 L284.88 62.93 L285.22 65.27 L285.56 67.62 L285.90 69.96 L286.24 71.68 L286.58 72.27 L286.92 72.86 L287.26 73.44 L287.60 74.03 L287.94 74.61 L288.28 74.73 L288.62 73.95 L288.96 73.17 L289.30 72.39 L289.64 71.61 L289.98 70.82 L290.32 70.95 L290.66 72.90 L291.00 74.85 L291.34 76.81 L291.68 78.76 L292.02 80.72 L292.36 82.24 L292.70 82.82 L293.04 83.41 L293.38 84.00 L293.72 84.58 L294.06 85.17 L294.40 84.86 L294.74 82.51 L295.08 80.17 L295.42 77.82 L295.76 75.48 L296.10 73.13 L296.44 70.50 L296.78 67.18 L297.12 63.85 L297.46 60.53 L297.80 57.21 L298.14 53.89 L298.48 51.25 L298.82 50.37 L299.16 49.49 L299.50 48.61 L299.84 48.51 L300.18 50.46 L300.52 52.42 L300.86 54.37 L301.20 56.33 L301.54 58.28 L301.88 59.99 L302.22 61.02 L302.56 62.05 L302.90 63.07 L303.24 64.10 L303.58 65.12 L303.92 66.15 L304.26 67.18 L304.60 68.24 L304.94 69.41 L305.28 70.58 L305.62 71.75 L305.96 72.93 L306.30 74.10 L306.64 75.27 L306.98 76.45 L307.32 77.62 L307.66 78.79 L308.00 79.96 L308.34 81.14 L308.68 82.31 L309.02 83.48 L309.36 84.65 L309.70 85.83 L310.04 87.00 L310.38 88.17 L310.72 89.34 L311.06 90.52 L311.40 90.89 L311.74 88.16 L312.08 85.42 L312.42 82.68 L312.76 79.95 L313.10 77.21 L313.44 74.40 L313.78 71.27 L314.12 68.15 L314.46 65.02 L314.80 61.89 L315.14 58.77 L315.48 56.27 L315.82 56.66 L316.16 57.05 L316.50 57.44 L316.84 57.83 L317.18 58.22 L317.52 58.58 L317.86 58.78 L318.20 58.97 L318.54 59.17 L318.88 59.36 L319.22 59.56 L319.56 61.12 L319.90 70.11 L320.24 79.10 L320.58 86.90 L320.92 87.90 L321.26 88.91 L321.60 89.92 L321.94 90.92 L322.28 91.93 L322.62 92.93 L322.96 93.75 L323.30 93.36 L323.64 92.97 L323.98 92.57 L324.32 92.18 L324.66 91.79 L325.00 91.50 L325.34 91.89 L325.68 92.28 L326.02 92.67 L326.36 93.06 L326.70 93.45 L327.04 93.71 L327.38 92.93 L327.72 92.15 L328.06 91.37 L328.40 90.59 L328.74 89.81 L329.08 89.14 L329.42 89.53 L329.76 89.92 L330.10 90.31 L330.44 90.70 L330.78 91.09 L331.12 91.41 L331.46 90.97 L331.80 90.53 L332.14 90.09 L332.48 89.65 L332.82 89.21 L333.16 88.77 L333.50 88.33 L333.84 87.94 L334.18 88.13 L334.52 88.33 L334.86 88.52 L335.20 88.72 L335.54 88.92 L335.88 89.07 L336.22 88.48 L336.56 87.89 L336.90 87.31 L337.24 86.72 L337.58 86.13 L337.92 85.55 L338.26 84.96 L338.60 84.41 L338.94 84.60 L339.28 84.80 L339.62 84.99 L339.96 85.19 L340.30 85.39 L340.64 85.55 L340.98 84.57 L341.32 83.59 L341.66 82.62 L342.00 81.64 L342.34 80.66 L342.68 79.71 L343.02 80.10 L343.36 80.49 L343.70 80.88 L344.04 81.27 L344.38 81.66" fill="none" stroke="#d9531e" stroke-width="1.05" stroke-linejoin="round"/>
<rect x="61.3" y="8.0" width="288.5" height="151.6" fill="none" stroke="#4a4a4a" stroke-width="1.15"/>
<line x1="61.30" y1="159.60" x2="61.30" y2="156.60" stroke="#4a4a4a" stroke-width="1.15" />
<line x1="61.30" y1="8.00" x2="61.30" y2="11.00" stroke="#4a4a4a" stroke-width="1.15" />
<line x1="128.55" y1="159.60" x2="128.55" y2="156.60" stroke="#4a4a4a" stroke-width="1.15" />
<line x1="128.55" y1="8.00" x2="128.55" y2="11.00" stroke="#4a4a4a" stroke-width="1.15" />
<line x1="195.80" y1="159.60" x2="195.80" y2="156.60" stroke="#4a4a4a" stroke-width="1.15" />
<line x1="195.80" y1="8.00" x2="195.80" y2="11.00" stroke="#4a4a4a" stroke-width="1.15" />
<line x1="263.05" y1="159.60" x2="263.05" y2="156.60" stroke="#4a4a4a" stroke-width="1.15" />
<line x1="263.05" y1="8.00" x2="263.05" y2="11.00" stroke="#4a4a4a" stroke-width="1.15" />
<line x1="330.30" y1="159.60" x2="330.30" y2="156.60" stroke="#4a4a4a" stroke-width="1.15" />
<line x1="330.30" y1="8.00" x2="330.30" y2="11.00" stroke="#4a4a4a" stroke-width="1.15" />
<line x1="61.30" y1="159.60" x2="64.30" y2="159.60" stroke="#4a4a4a" stroke-width="1.15" />
<line x1="349.80" y1="159.60" x2="346.80" y2="159.60" stroke="#4a4a4a" stroke-width="1.15" />
<line x1="61.30" y1="100.85" x2="64.30" y2="100.85" stroke="#4a4a4a" stroke-width="1.15" />
<line x1="349.80" y1="100.85" x2="346.80" y2="100.85" stroke="#4a4a4a" stroke-width="1.15" />
<line x1="61.30" y1="42.10" x2="64.30" y2="42.10" stroke="#4a4a4a" stroke-width="1.15" />
<line x1="349.80" y1="42.10" x2="346.80" y2="42.10" stroke="#4a4a4a" stroke-width="1.15" />
<text transform="translate(57.30,163.90) scale(1.0500,1)" font-size="13.0" text-anchor="end" fill="#1a1a1a" >0</text>
<text transform="translate(351.70,163.90) scale(1.0500,1)" font-size="13.0" text-anchor="start" fill="#1a1a1a" >0</text>
<text transform="translate(57.30,105.55) scale(1.0500,1)" font-size="13.0" text-anchor="end" fill="#1a1a1a" >0.5</text>
<text transform="translate(351.70,105.55) scale(1.0500,1)" font-size="13.0" text-anchor="start" fill="#1a1a1a" >0.5</text>
<text transform="translate(57.30,46.80) scale(1.0500,1)" font-size="13.0" text-anchor="end" fill="#1a1a1a" >1</text>
<text transform="translate(351.70,46.80) scale(1.0500,1)" font-size="13.0" text-anchor="start" fill="#1a1a1a" >1</text>
<text transform="translate(61.90,176.50) scale(1.0500,1)" font-size="13.0" text-anchor="middle" fill="#1a1a1a" >0</text>
<text transform="translate(129.15,176.50) scale(1.0500,1)" font-size="13.0" text-anchor="middle" fill="#1a1a1a" >10</text>
<text transform="translate(196.40,176.50) scale(1.0500,1)" font-size="13.0" text-anchor="middle" fill="#1a1a1a" >20</text>
<text transform="translate(263.65,176.50) scale(1.0500,1)" font-size="13.0" text-anchor="middle" fill="#1a1a1a" >30</text>
<text transform="translate(330.90,176.50) scale(1.0500,1)" font-size="13.0" text-anchor="middle" fill="#1a1a1a" >40</text>
<text transform="translate(204.95,192.40) scale(1.0324,1)" font-size="14.2" text-anchor="middle" fill="#1a1a1a" >Time (s)</text>
<text transform="translate(32.30,88.60) rotate(-90) scale(1.0400,1)" font-size="14.2" text-anchor="middle" fill="#1a1a1a" >CSA  (a.u.)</text>
<text transform="translate(378.50,92.30) rotate(90) scale(1.0511,1)" font-size="14.3" text-anchor="middle" fill="#1a1a1a" >Pressure (a.u.)</text>
<text transform="translate(22.10,22.90) scale(1.0802,1)" font-size="15.0" text-anchor="start" fill="#1a1a1a" >(a)</text>
<line x1="278.00" y1="19.60" x2="291.70" y2="19.60" stroke="#1479c4" stroke-width="1.0" />
<line x1="284.85" y1="16.40" x2="284.85" y2="22.80" stroke="#1479c4" stroke-width="1.0" />
<line x1="283.60" y1="16.40" x2="286.10" y2="16.40" stroke="#1479c4" stroke-width="0.9" />
<line x1="283.60" y1="22.80" x2="286.10" y2="22.80" stroke="#1479c4" stroke-width="0.9" />
<text transform="translate(298.30,23.10) scale(1.0039,1)" font-size="11.8" text-anchor="start" fill="#1a1a1a" >Pressure</text>
<line x1="278.00" y1="32.20" x2="291.70" y2="32.20" stroke="#d9531e" stroke-width="1.05" />
<text transform="translate(298.30,36.20) scale(0.9974,1)" font-size="11.8" text-anchor="start" fill="#1a1a1a" >CSA</text>
<path d="M458.00 110.04 L458.34 112.40 L458.68 114.76 L459.02 117.12 L459.36 119.48 L459.70 121.37 L460.04 123.26 L460.38 125.14 L460.72 127.03 L461.06 128.92 L461.40 130.34 L461.74 131.75 L462.08 133.17 L462.42 134.58 L462.76 136.00 L463.10 136.35 L463.44 136.71 L463.78 137.06 L464.12 137.42 L464.46 137.77 L464.80 145.44 L465.14 148.39 L465.48 151.34 L465.82 151.67 L466.16 152.00 L466.50 152.32 L466.84 152.23 L467.18 151.39 L467.52 145.44 L467.86 128.72 L468.20 114.97 L468.54 101.40 L468.88 90.60 L469.22 79.98 L469.56 71.72 L469.90 64.95 L470.24 60.77 L470.58 56.60 L470.92 53.57 L471.26 50.62 L471.60 48.78 L471.94 47.01 L472.28 45.80 L472.62 44.62 L472.96 43.72 L473.30 42.83 L473.64 42.22 L473.98 41.63 L474.32 42.39 L474.66 44.38 L475.00 48.05 L475.34 53.10 L475.68 60.19 L476.02 67.42 L476.36 74.80 L476.70 81.89 L477.04 88.75 L477.38 95.17 L477.72 101.43 L478.06 107.33 L478.40 112.07 L478.74 115.83 L479.08 119.23 L479.42 121.95 L479.76 124.68 L480.10 126.84 L480.44 128.80 L480.78 130.22 L481.12 131.59 L481.46 132.97 L481.80 133.98 L482.14 134.96 L482.48 135.94 L482.82 136.46 L483.16 136.95 L483.50 137.62 L483.84 138.43 L484.18 139.24 L484.52 139.95 L484.86 140.48 L485.20 143.91 L485.54 145.99 L485.88 151.04 L486.22 151.94 L486.56 157.15 L486.90 156.31 L487.24 149.81 L487.58 132.66 L487.92 118.16 L488.26 104.59 L488.60 93.10 L488.94 82.48 L489.28 73.63 L489.62 65.94 L489.96 61.76 L490.30 57.58 L490.64 54.27 L490.98 51.32 L491.32 49.20 L491.66 47.43 L492.00 46.08 L492.34 44.90 L492.68 43.93 L493.02 43.04 L493.36 42.36 L493.70 41.77 L494.04 42.19 L494.38 43.68 L494.72 46.86 L495.06 51.91 L495.40 58.49 L495.74 65.70 L496.08 73.06 L496.42 80.28 L496.76 87.14 L497.10 93.68 L497.44 100.01 L497.78 105.94 L498.12 111.19 L498.46 114.94 L498.80 118.59 L499.14 121.31 L499.48 124.03 L499.82 126.37 L500.16 128.34 L500.50 129.89 L500.84 131.27 L501.18 132.65 L501.52 133.74 L501.86 134.73 L502.20 135.71 L502.54 136.35 L502.88 136.84 L503.22 137.43 L503.56 138.24 L503.90 139.05 L504.24 139.83 L504.58 140.36 L504.92 142.52 L505.26 149.52 L505.60 154.57 L505.94 156.51 L506.28 157.16 L506.62 158.87 L506.96 154.26 L507.30 136.59 L507.64 121.35 L507.98 107.78 L508.32 95.60 L508.66 84.98 L509.00 75.54 L509.34 67.43 L509.68 62.74 L510.02 58.56 L510.36 54.96 L510.70 52.01 L511.04 49.62 L511.38 47.85 L511.72 46.35 L512.06 45.17 L512.40 44.13 L512.74 43.25 L513.08 42.50 L513.42 41.91 L513.76 42.00 L514.10 42.99 L514.44 45.94 L514.78 50.72 L515.12 56.79 L515.46 64.00 L515.80 71.33 L516.14 78.66 L516.48 85.52 L516.82 92.20 L517.16 98.52 L517.50 104.56 L517.84 110.31 L518.18 114.06 L518.52 117.81 L518.86 120.67 L519.20 123.39 L519.54 125.91 L519.88 127.88 L520.22 129.57 L520.56 130.94 L520.90 132.32 L521.24 133.51 L521.58 134.50 L521.92 135.48 L522.26 136.23 L522.60 136.72 L522.94 137.24 L523.28 138.05 L523.62 138.86 L523.96 139.67 L524.30 140.23 L524.64 141.14 L524.98 150.58 L525.32 155.74 L525.66 158.72 L526.00 159.37 L526.34 157.88 L526.68 155.16 L527.02 140.52 L527.36 124.55 L527.70 110.98 L528.04 98.10 L528.38 87.48 L528.72 77.45 L529.06 69.34 L529.40 63.73 L529.74 59.55 L530.08 55.66 L530.42 52.71 L530.76 50.03 L531.10 48.26 L531.44 46.63 L531.78 45.45 L532.12 44.34 L532.46 43.46 L532.80 42.64 L533.14 42.05 L533.48 41.80 L533.82 42.64 L534.16 45.24 L534.50 49.53 L534.84 55.10 L535.18 62.31 L535.52 69.59 L535.86 76.97 L536.20 83.91 L536.54 90.71 L536.88 97.03 L537.22 103.17 L537.56 109.07 L537.90 113.18 L538.24 116.93 L538.58 120.03 L538.92 122.75 L539.26 125.45 L539.60 127.42 L539.94 129.24 L540.28 130.62 L540.62 132.00 L540.96 133.28 L541.30 134.26 L541.64 135.25 L541.98 136.12 L542.32 136.61 L542.66 137.10 L543.00 137.86 L543.34 138.67 L543.68 139.48 L544.02 140.11 L544.36 140.63 L544.70 148.01 L545.04 153.37 L545.38 157.39 L545.72 158.03 L546.06 156.90 L546.40 156.06 L546.74 144.46 L547.08 127.74 L547.42 114.17 L547.76 100.60 L548.10 89.98 L548.44 79.36 L548.78 71.25 L549.12 64.71 L549.46 60.53 L549.80 56.35 L550.14 53.40 L550.48 50.45 L550.82 48.68 L551.16 46.91 L551.50 45.73 L551.84 44.55 L552.18 43.67 L552.52 42.78 L552.86 42.19 L553.20 41.60 L553.54 42.44 L553.88 44.55 L554.22 48.34 L554.56 53.40 L554.90 60.61 L555.24 67.85 L555.58 75.23 L555.92 82.30 L556.26 89.16 L556.60 95.54 L556.94 101.78 L557.28 107.68 L557.62 112.29 L557.96 116.05 L558.30 119.39 L558.64 122.11 L558.98 124.84 L559.32 126.95 L559.66 128.92 L560.00 130.30 L560.34 131.67 L560.68 133.05 L561.02 134.03 L561.36 135.02 L561.70 136.00 L562.04 136.49 L562.38 136.98 L562.72 137.67 L563.06 138.48 L563.40 139.29 L563.74 139.99 L564.08 140.51 L564.42 144.26 L564.76 151.00 L565.10 156.06 L565.44 156.70 L565.78 152.38 L566.12 151.54 L566.46 144.57 L566.80 131.67 L567.14 117.36 L567.48 103.79 L567.82 92.48 L568.16 81.86 L568.50 73.16 L568.84 65.69 L569.18 61.51 L569.52 57.33 L569.86 54.09 L570.20 51.14 L570.54 49.10 L570.88 47.33 L571.22 46.01 L571.56 44.83 L571.90 43.87 L572.24 42.99 L572.58 42.33 L572.92 41.74 L573.26 42.24 L573.60 43.86 L573.94 47.15 L574.28 52.21 L574.62 58.91 L574.96 66.13 L575.30 73.49 L575.64 80.68 L575.98 87.54 L576.32 94.06 L576.66 100.38 L577.00 106.29 L577.34 111.41 L577.68 115.16 L578.02 118.75 L578.36 121.47 L578.70 124.19 L579.04 126.49 L579.38 128.46 L579.72 129.97 L580.06 131.35 L580.40 132.73 L580.74 133.80 L581.08 134.79 L581.42 135.77 L581.76 136.38 L582.10 136.87 L582.44 137.48 L582.78 138.29 L583.12 139.10 L583.46 139.86 L583.80 140.39 L584.14 142.87 L584.48 145.09 L584.82 150.15 L585.16 151.83 L585.50 152.47 L585.84 158.82 L586.18 153.73 L586.52 135.61 L586.86 120.56 L587.20 106.99 L587.54 94.98 L587.88 84.36 L588.22 75.07 L588.56 66.95 L588.90 62.50 L589.24 58.32 L589.58 54.79 L589.92 51.84 L590.26 49.51 L590.60 47.74 L590.94 46.29 L591.28 45.11 L591.62 44.08 L591.96 43.20 L592.30 42.47 L592.64 41.88 L592.98 42.05 L593.32 43.16 L593.66 46.11 L594.00 51.02 L594.34 57.22 L594.68 64.43 L595.02 71.76 L595.36 79.07 L595.70 85.93 L596.04 92.57 L596.38 98.89 L596.72 104.90 L597.06 110.53 L597.40 114.28 L597.74 118.03 L598.08 120.83 L598.42 123.55 L598.76 126.03 L599.10 127.99 L599.44 129.65 L599.78 131.03 L600.12 132.40 L600.46 133.57 L600.80 134.55 L601.14 135.54 L601.48 136.26 L601.82 136.75 L602.16 137.28 L602.50 138.10 L602.84 138.91 L603.18 139.72 L603.52 140.26 L603.86 141.48 L604.20 150.92 L604.54 156.04 L604.88 158.76 L605.22 159.40 L605.56 155.47 L605.90 152.28 L606.24 139.54 L606.58 123.75 L606.92 110.18 L607.26 97.48 L607.60 86.86 L607.94 76.97 L608.28 68.86 L608.62 63.48 L608.96 59.30 L609.30 55.48 L609.64 52.53 L609.98 49.93 L610.32 48.16 L610.66 46.56 L611.00 45.38 L611.34 44.29 L611.68 43.40 L612.02 42.61 L612.36 42.02 L612.70 41.85 L613.04 42.69 L613.38 45.42 L613.72 49.83 L614.06 55.52 L614.40 62.73 L614.74 70.02 L615.08 77.40 L615.42 84.31 L615.76 91.08 L616.10 97.40 L616.44 103.52 L616.78 109.42 L617.12 113.40 L617.46 117.15 L617.80 120.19 L618.14 122.91 L618.48 125.57 L618.82 127.53 L619.16 129.32 L619.50 130.70 L619.84 132.08 L620.18 133.34 L620.52 134.32 L620.86 135.31 L621.20 136.14 L621.54 136.64 L621.88 137.13 L622.22 137.91 L622.56 138.72 L622.90 139.53 L623.24 140.14 L623.58 140.66 L623.92 146.00 L624.26 151.31 L624.60 155.07 L624.94 155.71 L625.28 156.85 L625.62 155.54 L625.96 143.47 L626.30 126.94 L626.64 113.37 L626.98 99.98 L627.32 89.36 L627.66 78.88 L628.00 70.77 L628.34 64.46 L628.68 60.28 L629.02 56.18 L629.36 53.23 L629.70 50.35 L630.04 48.58 L630.38 46.84 L630.72 45.66 L631.06 44.50 L631.40 43.61 L631.74 42.75 L632.08 42.16 L632.42 41.65 L632.76 42.49 L633.10 44.72 L633.44 48.64 L633.78 53.82 L634.12 61.04 L634.46 68.29 L634.80 75.66 L635.14 82.70 L635.48 89.56 L635.82 95.91 L636.16 102.13 L636.50 108.03 L636.84 112.51 L637.18 116.27 L637.52 119.55 L637.86 122.27 L638.20 125.00 L638.54 127.07 L638.88 129.00 L639.22 130.38 L639.56 131.75 L639.90 133.11 L640.24 134.09 L640.58 135.07 L640.92 136.03 L641.26 136.52 L641.60 137.01 L641.94 137.71 L642.28 138.53 L642.62 139.34 L642.96 140.02 L643.30 140.54 L643.64 144.61 L643.98 151.30 L644.32 156.10 L644.66 156.74 L645.00 159.41 L645.34 158.57 L645.68 150.95 L646.02 130.69 L646.36 116.56 L646.70 102.99 L647.04 91.85 L647.38 81.23 L647.72 72.68 L648.06 65.45 L648.40 61.27 L648.74 57.09 L649.08 53.92 L649.42 50.97 L649.76 48.99 L650.10 47.22 L650.44 45.94 L650.78 44.76 L651.12 43.82 L651.46 42.94 L651.80 42.29 L652.14 41.70 L652.48 42.29 L652.82 44.03 L653.16 47.45 L653.50 52.51 L653.84 59.34 L654.18 66.55 L654.52 73.93 L654.86 81.09 L655.20 87.95 L655.54 94.43 L655.88 100.74 L656.22 106.64 L656.56 111.63 L656.90 115.38 L657.24 118.91 L657.58 121.63 L657.92 124.35 L658.26 126.61 L658.60 128.57 L658.94 130.05 L659.28 131.43 L659.62 132.81 L659.96 133.86 L660.30 134.84 L660.64 135.83 L660.98 136.40 L661.32 136.90 L661.66 137.52 L662.00 138.33 L662.34 139.15 L662.68 139.89 L663.02 140.42 L663.36 143.22 L663.70 152.47 L664.04 157.53 L664.38 158.95 L664.72 159.59 L665.06 156.41 L665.40 150.85 L665.74 134.62 L666.08 119.76 L666.42 106.19 L666.76 94.35 L667.10 83.73 L667.44 74.59 L667.78 66.48 L668.12 62.25 L668.46 58.07 L668.80 54.61 L669.14 51.66 L669.48 49.41 L669.82 47.64 L670.16 46.22 L670.50 45.04 L670.84 44.03 L671.18 43.14 L671.52 42.43 L671.86 41.84 L672.20 42.10 L672.54 43.34 L672.88 46.29 L673.22 51.32 L673.56 57.64 L673.90 64.85 L674.24 72.19 L674.58 79.47 L674.92 86.33 L675.26 92.94 L675.60 99.26 L675.94 105.25 L676.28 110.75 L676.62 114.50 L676.96 118.26 L677.30 120.99 L677.64 123.71 L677.98 126.14 L678.32 128.11 L678.66 129.73 L679.00 131.11 L679.34 132.48 L679.68 133.63 L680.02 134.61 L680.36 135.60 L680.70 136.29 L681.04 136.78 L681.38 137.33 L681.72 138.14 L682.06 138.96 L682.40 139.77 L682.74 140.29 L683.08 141.83 L683.42 148.91 L683.76 153.98 L684.10 156.44 L684.44 157.08 L684.78 156.61 L685.12 152.94 L685.46 138.56 L685.80 122.95 L686.14 109.38 L686.48 96.85 L686.82 86.23 L687.16 76.50 L687.50 68.38 L687.84 63.23 L688.18 59.05 L688.52 55.31 L688.86 52.36 L689.20 49.83 L689.54 48.06 L689.88 46.49 L690.22 45.31 L690.56 44.24 L690.90 43.35 L691.24 42.57 L691.58 41.98 L691.92 41.90 L692.26 42.74 L692.60 45.59 L692.94 50.13 L693.28 55.95 L693.62 63.16 L693.96 70.46 L694.30 77.83 L694.64 84.72 L694.98 91.45 L695.32 97.77 L695.66 103.86 L696.00 109.76 L696.34 113.62 L696.68 117.37 L697.02 120.35 L697.36 123.07 L697.70 125.68 L698.04 127.65 L698.38 129.41 L698.72 130.78 L699.06 132.16 L699.40 133.40 L699.74 134.38 L700.08 135.36 L700.42 136.17 L700.76 136.67 L701.10 137.16 L701.44 137.95 L701.78 138.76 L702.12 139.58 L702.46 140.17 L702.80 140.70 L703.14 147.52 L703.48 152.79 L703.82 156.29 L704.16 156.93 L704.50 155.62 L704.84 153.84 L705.18 142.49 L705.52 126.14 L705.86 112.57 L706.20 99.35 L706.54 88.73 L706.88 78.41 L707.22 70.29 L707.56 64.22 L707.90 60.04 L708.24 56.00 L708.58 53.05 L708.92 50.24 L709.26 48.47 L709.60 46.77 L709.94 45.59 L710.28 44.45 L710.62 43.56 L710.96 42.71 L711.30 42.12 L711.64 41.70 L711.98 42.54 L712.32 44.90 L712.66 48.94 L713.00 54.25 L713.34 61.46 L713.68 68.72 L714.02 76.10 L714.36 83.10 L714.70 89.96 L715.04 96.29 L715.38 102.47 L715.72 108.37 L716.06 112.73 L716.40 116.49 L716.74 119.71 L717.08 122.43 L717.42 125.16 L717.76 127.18 L718.10 129.08 L718.44 130.46 L718.78 131.84 L719.12 133.17 L719.46 134.15 L719.80 135.13 L720.14 136.06 L720.48 136.55 L720.82 137.04 L721.16 137.76 L721.50 138.57 L721.84 139.38 L722.18 140.05 L722.52 140.57 L722.86 144.95 L723.20 150.42 L723.54 154.96 L723.88 155.60 L724.22 159.36 L724.56 158.52 L724.90 149.96 L725.24 129.71 L725.58 115.77 L725.92 102.20 L726.26 91.23 L726.60 80.61 L726.94 72.20 L727.28 65.20 L727.62 61.02 L727.96 56.84 L728.30 53.75 L728.64 50.80 L728.98 48.89 L729.32 47.12 L729.66 45.87 L730.00 44.69 L730.34 43.77 L730.68 42.88 L731.02 42.26 L731.36 41.67 L731.70 42.34 L732.04 44.20 L732.38 47.75 L732.72 52.81 L733.06 59.76 L733.40 66.99 L733.74 74.36 L734.08 81.49 L734.42 88.35 L734.76 94.80 L735.10 101.09 L735.44 106.99 L735.78 111.85 L736.12 115.61 L736.46 119.07 L736.80 121.79 L737.14 124.52 L737.48 126.72 L737.82 128.69 L738.16 130.13 L738.50 131.51 L738.84 132.89 L739.18 133.92 L739.52 134.90 L739.86 135.88 L740.20 136.43 L740.54 136.93 L740.88 137.57 L741.22 138.38 L741.56 139.19 L741.90 139.92" fill="none" stroke="#1479c4" stroke-width="1.25" stroke-linejoin="round"/>
<path d="M456.80 110.04h2.4M457.14 112.40h2.4M457.48 114.76h2.4M457.82 117.12h2.4M458.16 119.48h2.4M458.50 121.37h2.4M458.84 123.26h2.4M459.18 125.14h2.4M459.52 127.03h2.4M459.86 128.92h2.4M460.20 130.34h2.4M460.54 131.75h2.4M460.88 133.17h2.4M461.22 134.58h2.4M461.56 136.00h2.4M461.90 136.35h2.4M462.24 136.71h2.4M462.58 137.06h2.4M462.92 137.42h2.4M463.26 137.77h2.4M463.60 145.44h2.4M463.94 148.39h2.4M464.28 151.34h2.4M464.62 151.67h2.4M464.96 152.00h2.4M465.30 152.32h2.4M465.64 152.23h2.4M465.98 151.39h2.4M466.32 145.44h2.4M466.66 128.72h2.4M467.00 114.97h2.4M467.34 101.40h2.4M467.68 90.60h2.4M468.02 79.98h2.4M468.36 71.72h2.4M468.70 64.95h2.4M469.04 60.77h2.4M469.38 56.60h2.4M469.72 53.57h2.4M470.06 50.62h2.4M470.40 48.78h2.4M470.74 47.01h2.4M471.08 45.80h2.4M471.42 44.62h2.4M471.76 43.72h2.4M472.10 42.83h2.4M472.44 42.22h2.4M472.78 41.63h2.4M473.12 42.39h2.4M473.46 44.38h2.4M473.80 48.05h2.4M474.14 53.10h2.4M474.48 60.19h2.4M474.82 67.42h2.4M475.16 74.80h2.4M475.50 81.89h2.4M475.84 88.75h2.4M476.18 95.17h2.4M476.52 101.43h2.4M476.86 107.33h2.4M477.20 112.07h2.4M477.54 115.83h2.4M477.88 119.23h2.4M478.22 121.95h2.4M478.56 124.68h2.4M478.90 126.84h2.4M479.24 128.80h2.4M479.58 130.22h2.4M479.92 131.59h2.4M480.26 132.97h2.4M480.60 133.98h2.4M480.94 134.96h2.4M481.28 135.94h2.4M481.62 136.46h2.4M481.96 136.95h2.4M482.30 137.62h2.4M482.64 138.43h2.4M482.98 139.24h2.4M483.32 139.95h2.4M483.66 140.48h2.4M484.00 143.91h2.4M484.34 145.99h2.4M484.68 151.04h2.4M485.02 151.94h2.4M485.36 157.15h2.4M485.70 156.31h2.4M486.04 149.81h2.4M486.38 132.66h2.4M486.72 118.16h2.4M487.06 104.59h2.4M487.40 93.10h2.4M487.74 82.48h2.4M488.08 73.63h2.4M488.42 65.94h2.4M488.76 61.76h2.4M489.10 57.58h2.4M489.44 54.27h2.4M489.78 51.32h2.4M490.12 49.20h2.4M490.46 47.43h2.4M490.80 46.08h2.4M491.14 44.90h2.4M491.48 43.93h2.4M491.82 43.04h2.4M492.16 42.36h2.4M492.50 41.77h2.4M492.84 42.19h2.4M493.18 43.68h2.4M493.52 46.86h2.4M493.86 51.91h2.4M494.20 58.49h2.4M494.54 65.70h2.4M494.88 73.06h2.4M495.22 80.28h2.4M495.56 87.14h2.4M495.90 93.68h2.4M496.24 100.01h2.4M496.58 105.94h2.4M496.92 111.19h2.4M497.26 114.94h2.4M497.60 118.59h2.4M497.94 121.31h2.4M498.28 124.03h2.4M498.62 126.37h2.4M498.96 128.34h2.4M499.30 129.89h2.4M499.64 131.27h2.4M499.98 132.65h2.4M500.32 133.74h2.4M500.66 134.73h2.4M501.00 135.71h2.4M501.34 136.35h2.4M501.68 136.84h2.4M502.02 137.43h2.4M502.36 138.24h2.4M502.70 139.05h2.4M503.04 139.83h2.4M503.38 140.36h2.4M503.72 142.52h2.4M504.06 149.52h2.4M504.40 154.57h2.4M504.74 156.51h2.4M505.08 157.16h2.4M505.42 158.87h2.4M505.76 154.26h2.4M506.10 136.59h2.4M506.44 121.35h2.4M506.78 107.78h2.4M507.12 95.60h2.4M507.46 84.98h2.4M507.80 75.54h2.4M508.14 67.43h2.4M508.48 62.74h2.4M508.82 58.56h2.4M509.16 54.96h2.4M509.50 52.01h2.4M509.84 49.62h2.4M510.18 47.85h2.4M510.52 46.35h2.4M510.86 45.17h2.4M511.20 44.13h2.4M511.54 43.25h2.4M511.88 42.50h2.4M512.22 41.91h2.4M512.56 42.00h2.4M512.90 42.99h2.4M513.24 45.94h2.4M513.58 50.72h2.4M513.92 56.79h2.4M514.26 64.00h2.4M514.60 71.33h2.4M514.94 78.66h2.4M515.28 85.52h2.4M515.62 92.20h2.4M515.96 98.52h2.4M516.30 104.56h2.4M516.64 110.31h2.4M516.98 114.06h2.4M517.32 117.81h2.4M517.66 120.67h2.4M518.00 123.39h2.4M518.34 125.91h2.4M518.68 127.88h2.4M519.02 129.57h2.4M519.36 130.94h2.4M519.70 132.32h2.4M520.04 133.51h2.4M520.38 134.50h2.4M520.72 135.48h2.4M521.06 136.23h2.4M521.40 136.72h2.4M521.74 137.24h2.4M522.08 138.05h2.4M522.42 138.86h2.4M522.76 139.67h2.4M523.10 140.23h2.4M523.44 141.14h2.4M523.78 150.58h2.4M524.12 155.74h2.4M524.46 158.72h2.4M524.80 159.37h2.4M525.14 157.88h2.4M525.48 155.16h2.4M525.82 140.52h2.4M526.16 124.55h2.4M526.50 110.98h2.4M526.84 98.10h2.4M527.18 87.48h2.4M527.52 77.45h2.4M527.86 69.34h2.4M528.20 63.73h2.4M528.54 59.55h2.4M528.88 55.66h2.4M529.22 52.71h2.4M529.56 50.03h2.4M529.90 48.26h2.4M530.24 46.63h2.4M530.58 45.45h2.4M530.92 44.34h2.4M531.26 43.46h2.4M531.60 42.64h2.4M531.94 42.05h2.4M532.28 41.80h2.4M532.62 42.64h2.4M532.96 45.24h2.4M533.30 49.53h2.4M533.64 55.10h2.4M533.98 62.31h2.4M534.32 69.59h2.4M534.66 76.97h2.4M535.00 83.91h2.4M535.34 90.71h2.4M535.68 97.03h2.4M536.02 103.17h2.4M536.36 109.07h2.4M536.70 113.18h2.4M537.04 116.93h2.4M537.38 120.03h2.4M537.72 122.75h2.4M538.06 125.45h2.4M538.40 127.42h2.4M538.74 129.24h2.4M539.08 130.62h2.4M539.42 132.00h2.4M539.76 133.28h2.4M540.10 134.26h2.4M540.44 135.25h2.4M540.78 136.12h2.4M541.12 136.61h2.4M541.46 137.10h2.4M541.80 137.86h2.4M542.14 138.67h2.4M542.48 139.48h2.4M542.82 140.11h2.4M543.16 140.63h2.4M543.50 148.01h2.4M543.84 153.37h2.4M544.18 157.39h2.4M544.52 158.03h2.4M544.86 156.90h2.4M545.20 156.06h2.4M545.54 144.46h2.4M545.88 127.74h2.4M546.22 114.17h2.4M546.56 100.60h2.4M546.90 89.98h2.4M547.24 79.36h2.4M547.58 71.25h2.4M547.92 64.71h2.4M548.26 60.53h2.4M548.60 56.35h2.4M548.94 53.40h2.4M549.28 50.45h2.4M549.62 48.68h2.4M549.96 46.91h2.4M550.30 45.73h2.4M550.64 44.55h2.4M550.98 43.67h2.4M551.32 42.78h2.4M551.66 42.19h2.4M552.00 41.60h2.4M552.34 42.44h2.4M552.68 44.55h2.4M553.02 48.34h2.4M553.36 53.40h2.4M553.70 60.61h2.4M554.04 67.85h2.4M554.38 75.23h2.4M554.72 82.30h2.4M555.06 89.16h2.4M555.40 95.54h2.4M555.74 101.78h2.4M556.08 107.68h2.4M556.42 112.29h2.4M556.76 116.05h2.4M557.10 119.39h2.4M557.44 122.11h2.4M557.78 124.84h2.4M558.12 126.95h2.4M558.46 128.92h2.4M558.80 130.30h2.4M559.14 131.67h2.4M559.48 133.05h2.4M559.82 134.03h2.4M560.16 135.02h2.4M560.50 136.00h2.4M560.84 136.49h2.4M561.18 136.98h2.4M561.52 137.67h2.4M561.86 138.48h2.4M562.20 139.29h2.4M562.54 139.99h2.4M562.88 140.51h2.4M563.22 144.26h2.4M563.56 151.00h2.4M563.90 156.06h2.4M564.24 156.70h2.4M564.58 152.38h2.4M564.92 151.54h2.4M565.26 144.57h2.4M565.60 131.67h2.4M565.94 117.36h2.4M566.28 103.79h2.4M566.62 92.48h2.4M566.96 81.86h2.4M567.30 73.16h2.4M567.64 65.69h2.4M567.98 61.51h2.4M568.32 57.33h2.4M568.66 54.09h2.4M569.00 51.14h2.4M569.34 49.10h2.4M569.68 47.33h2.4M570.02 46.01h2.4M570.36 44.83h2.4M570.70 43.87h2.4M571.04 42.99h2.4M571.38 42.33h2.4M571.72 41.74h2.4M572.06 42.24h2.4M572.40 43.86h2.4M572.74 47.15h2.4M573.08 52.21h2.4M573.42 58.91h2.4M573.76 66.13h2.4M574.10 73.49h2.4M574.44 80.68h2.4M574.78 87.54h2.4M575.12 94.06h2.4M575.46 100.38h2.4M575.80 106.29h2.4M576.14 111.41h2.4M576.48 115.16h2.4M576.82 118.75h2.4M577.16 121.47h2.4M577.50 124.19h2.4M577.84 126.49h2.4M578.18 128.46h2.4M578.52 129.97h2.4M578.86 131.35h2.4M579.20 132.73h2.4M579.54 133.80h2.4M579.88 134.79h2.4M580.22 135.77h2.4M580.56 136.38h2.4M580.90 136.87h2.4M581.24 137.48h2.4M581.58 138.29h2.4M581.92 139.10h2.4M582.26 139.86h2.4M582.60 140.39h2.4M582.94 142.87h2.4M583.28 145.09h2.4M583.62 150.15h2.4M583.96 151.83h2.4M584.30 152.47h2.4M584.64 158.82h2.4M584.98 153.73h2.4M585.32 135.61h2.4M585.66 120.56h2.4M586.00 106.99h2.4M586.34 94.98h2.4M586.68 84.36h2.4M587.02 75.07h2.4M587.36 66.95h2.4M587.70 62.50h2.4M588.04 58.32h2.4M588.38 54.79h2.4M588.72 51.84h2.4M589.06 49.51h2.4M589.40 47.74h2.4M589.74 46.29h2.4M590.08 45.11h2.4M590.42 44.08h2.4M590.76 43.20h2.4M591.10 42.47h2.4M591.44 41.88h2.4M591.78 42.05h2.4M592.12 43.16h2.4M592.46 46.11h2.4M592.80 51.02h2.4M593.14 57.22h2.4M593.48 64.43h2.4M593.82 71.76h2.4M594.16 79.07h2.4M594.50 85.93h2.4M594.84 92.57h2.4M595.18 98.89h2.4M595.52 104.90h2.4M595.86 110.53h2.4M596.20 114.28h2.4M596.54 118.03h2.4M596.88 120.83h2.4M597.22 123.55h2.4M597.56 126.03h2.4M597.90 127.99h2.4M598.24 129.65h2.4M598.58 131.03h2.4M598.92 132.40h2.4M599.26 133.57h2.4M599.60 134.55h2.4M599.94 135.54h2.4M600.28 136.26h2.4M600.62 136.75h2.4M600.96 137.28h2.4M601.30 138.10h2.4M601.64 138.91h2.4M601.98 139.72h2.4M602.32 140.26h2.4M602.66 141.48h2.4M603.00 150.92h2.4M603.34 156.04h2.4M603.68 158.76h2.4M604.02 159.40h2.4M604.36 155.47h2.4M604.70 152.28h2.4M605.04 139.54h2.4M605.38 123.75h2.4M605.72 110.18h2.4M606.06 97.48h2.4M606.40 86.86h2.4M606.74 76.97h2.4M607.08 68.86h2.4M607.42 63.48h2.4M607.76 59.30h2.4M608.10 55.48h2.4M608.44 52.53h2.4M608.78 49.93h2.4M609.12 48.16h2.4M609.46 46.56h2.4M609.80 45.38h2.4M610.14 44.29h2.4M610.48 43.40h2.4M610.82 42.61h2.4M611.16 42.02h2.4M611.50 41.85h2.4M611.84 42.69h2.4M612.18 45.42h2.4M612.52 49.83h2.4M612.86 55.52h2.4M613.20 62.73h2.4M613.54 70.02h2.4M613.88 77.40h2.4M614.22 84.31h2.4M614.56 91.08h2.4M614.90 97.40h2.4M615.24 103.52h2.4M615.58 109.42h2.4M615.92 113.40h2.4M616.26 117.15h2.4M616.60 120.19h2.4M616.94 122.91h2.4M617.28 125.57h2.4M617.62 127.53h2.4M617.96 129.32h2.4M618.30 130.70h2.4M618.64 132.08h2.4M618.98 133.34h2.4M619.32 134.32h2.4M619.66 135.31h2.4M620.00 136.14h2.4M620.34 136.64h2.4M620.68 137.13h2.4M621.02 137.91h2.4M621.36 138.72h2.4M621.70 139.53h2.4M622.04 140.14h2.4M622.38 140.66h2.4M622.72 146.00h2.4M623.06 151.31h2.4M623.40 155.07h2.4M623.74 155.71h2.4M624.08 156.85h2.4M624.42 155.54h2.4M624.76 143.47h2.4M625.10 126.94h2.4M625.44 113.37h2.4M625.78 99.98h2.4M626.12 89.36h2.4M626.46 78.88h2.4M626.80 70.77h2.4M627.14 64.46h2.4M627.48 60.28h2.4M627.82 56.18h2.4M628.16 53.23h2.4M628.50 50.35h2.4M628.84 48.58h2.4M629.18 46.84h2.4M629.52 45.66h2.4M629.86 44.50h2.4M630.20 43.61h2.4M630.54 42.75h2.4M630.88 42.16h2.4M631.22 41.65h2.4M631.56 42.49h2.4M631.90 44.72h2.4M632.24 48.64h2.4M632.58 53.82h2.4M632.92 61.04h2.4M633.26 68.29h2.4M633.60 75.66h2.4M633.94 82.70h2.4M634.28 89.56h2.4M634.62 95.91h2.4M634.96 102.13h2.4M635.30 108.03h2.4M635.64 112.51h2.4M635.98 116.27h2.4M636.32 119.55h2.4M636.66 122.27h2.4M637.00 125.00h2.4M637.34 127.07h2.4M637.68 129.00h2.4M638.02 130.38h2.4M638.36 131.75h2.4M638.70 133.11h2.4M639.04 134.09h2.4M639.38 135.07h2.4M639.72 136.03h2.4M640.06 136.52h2.4M640.40 137.01h2.4M640.74 137.71h2.4M641.08 138.53h2.4M641.42 139.34h2.4M641.76 140.02h2.4M642.10 140.54h2.4M642.44 144.61h2.4M642.78 151.30h2.4M643.12 156.10h2.4M643.46 156.74h2.4M643.80 159.41h2.4M644.14 158.57h2.4M644.48 150.95h2.4M644.82 130.69h2.4M645.16 116.56h2.4M645.50 102.99h2.4M645.84 91.85h2.4M646.18 81.23h2.4M646.52 72.68h2.4M646.86 65.45h2.4M647.20 61.27h2.4M647.54 57.09h2.4M647.88 53.92h2.4M648.22 50.97h2.4M648.56 48.99h2.4M648.90 47.22h2.4M649.24 45.94h2.4M649.58 44.76h2.4M649.92 43.82h2.4M650.26 42.94h2.4M650.60 42.29h2.4M650.94 41.70h2.4M651.28 42.29h2.4M651.62 44.03h2.4M651.96 47.45h2.4M652.30 52.51h2.4M652.64 59.34h2.4M652.98 66.55h2.4M653.32 73.93h2.4M653.66 81.09h2.4M654.00 87.95h2.4M654.34 94.43h2.4M654.68 100.74h2.4M655.02 106.64h2.4M655.36 111.63h2.4M655.70 115.38h2.4M656.04 118.91h2.4M656.38 121.63h2.4M656.72 124.35h2.4M657.06 126.61h2.4M657.40 128.57h2.4M657.74 130.05h2.4M658.08 131.43h2.4M658.42 132.81h2.4M658.76 133.86h2.4M659.10 134.84h2.4M659.44 135.83h2.4M659.78 136.40h2.4M660.12 136.90h2.4M660.46 137.52h2.4M660.80 138.33h2.4M661.14 139.15h2.4M661.48 139.89h2.4M661.82 140.42h2.4M662.16 143.22h2.4M662.50 152.47h2.4M662.84 157.53h2.4M663.18 158.95h2.4M663.52 159.59h2.4M663.86 156.41h2.4M664.20 150.85h2.4M664.54 134.62h2.4M664.88 119.76h2.4M665.22 106.19h2.4M665.56 94.35h2.4M665.90 83.73h2.4M666.24 74.59h2.4M666.58 66.48h2.4M666.92 62.25h2.4M667.26 58.07h2.4M667.60 54.61h2.4M667.94 51.66h2.4M668.28 49.41h2.4M668.62 47.64h2.4M668.96 46.22h2.4M669.30 45.04h2.4M669.64 44.03h2.4M669.98 43.14h2.4M670.32 42.43h2.4M670.66 41.84h2.4M671.00 42.10h2.4M671.34 43.34h2.4M671.68 46.29h2.4M672.02 51.32h2.4M672.36 57.64h2.4M672.70 64.85h2.4M673.04 72.19h2.4M673.38 79.47h2.4M673.72 86.33h2.4M674.06 92.94h2.4M674.40 99.26h2.4M674.74 105.25h2.4M675.08 110.75h2.4M675.42 114.50h2.4M675.76 118.26h2.4M676.10 120.99h2.4M676.44 123.71h2.4M676.78 126.14h2.4M677.12 128.11h2.4M677.46 129.73h2.4M677.80 131.11h2.4M678.14 132.48h2.4M678.48 133.63h2.4M678.82 134.61h2.4M679.16 135.60h2.4M679.50 136.29h2.4M679.84 136.78h2.4M680.18 137.33h2.4M680.52 138.14h2.4M680.86 138.96h2.4M681.20 139.77h2.4M681.54 140.29h2.4M681.88 141.83h2.4M682.22 148.91h2.4M682.56 153.98h2.4M682.90 156.44h2.4M683.24 157.08h2.4M683.58 156.61h2.4M683.92 152.94h2.4M684.26 138.56h2.4M684.60 122.95h2.4M684.94 109.38h2.4M685.28 96.85h2.4M685.62 86.23h2.4M685.96 76.50h2.4M686.30 68.38h2.4M686.64 63.23h2.4M686.98 59.05h2.4M687.32 55.31h2.4M687.66 52.36h2.4M688.00 49.83h2.4M688.34 48.06h2.4M688.68 46.49h2.4M689.02 45.31h2.4M689.36 44.24h2.4M689.70 43.35h2.4M690.04 42.57h2.4M690.38 41.98h2.4M690.72 41.90h2.4M691.06 42.74h2.4M691.40 45.59h2.4M691.74 50.13h2.4M692.08 55.95h2.4M692.42 63.16h2.4M692.76 70.46h2.4M693.10 77.83h2.4M693.44 84.72h2.4M693.78 91.45h2.4M694.12 97.77h2.4M694.46 103.86h2.4M694.80 109.76h2.4M695.14 113.62h2.4M695.48 117.37h2.4M695.82 120.35h2.4M696.16 123.07h2.4M696.50 125.68h2.4M696.84 127.65h2.4M697.18 129.41h2.4M697.52 130.78h2.4M697.86 132.16h2.4M698.20 133.40h2.4M698.54 134.38h2.4M698.88 135.36h2.4M699.22 136.17h2.4M699.56 136.67h2.4M699.90 137.16h2.4M700.24 137.95h2.4M700.58 138.76h2.4M700.92 139.58h2.4M701.26 140.17h2.4M701.60 140.70h2.4M701.94 147.52h2.4M702.28 152.79h2.4M702.62 156.29h2.4M702.96 156.93h2.4M703.30 155.62h2.4M703.64 153.84h2.4M703.98 142.49h2.4M704.32 126.14h2.4M704.66 112.57h2.4M705.00 99.35h2.4M705.34 88.73h2.4M705.68 78.41h2.4M706.02 70.29h2.4M706.36 64.22h2.4M706.70 60.04h2.4M707.04 56.00h2.4M707.38 53.05h2.4M707.72 50.24h2.4M708.06 48.47h2.4M708.40 46.77h2.4M708.74 45.59h2.4M709.08 44.45h2.4M709.42 43.56h2.4M709.76 42.71h2.4M710.10 42.12h2.4M710.44 41.70h2.4M710.78 42.54h2.4M711.12 44.90h2.4M711.46 48.94h2.4M711.80 54.25h2.4M712.14 61.46h2.4M712.48 68.72h2.4M712.82 76.10h2.4M713.16 83.10h2.4M713.50 89.96h2.4M713.84 96.29h2.4M714.18 102.47h2.4M714.52 108.37h2.4M714.86 112.73h2.4M715.20 116.49h2.4M715.54 119.71h2.4M715.88 122.43h2.4M716.22 125.16h2.4M716.56 127.18h2.4M716.90 129.08h2.4M717.24 130.46h2.4M717.58 131.84h2.4M717.92 133.17h2.4M718.26 134.15h2.4M718.60 135.13h2.4M718.94 136.06h2.4M719.28 136.55h2.4M719.62 137.04h2.4M719.96 137.76h2.4M720.30 138.57h2.4M720.64 139.38h2.4M720.98 140.05h2.4M721.32 140.57h2.4M721.66 144.95h2.4M722.00 150.42h2.4M722.34 154.96h2.4M722.68 155.60h2.4M723.02 159.36h2.4M723.36 158.52h2.4M723.70 149.96h2.4M724.04 129.71h2.4M724.38 115.77h2.4M724.72 102.20h2.4M725.06 91.23h2.4M725.40 80.61h2.4M725.74 72.20h2.4M726.08 65.20h2.4M726.42 61.02h2.4M726.76 56.84h2.4M727.10 53.75h2.4M727.44 50.80h2.4M727.78 48.89h2.4M728.12 47.12h2.4M728.46 45.87h2.4M728.80 44.69h2.4M729.14 43.77h2.4M729.48 42.88h2.4M729.82 42.26h2.4M730.16 41.67h2.4M730.50 42.34h2.4M730.84 44.20h2.4M731.18 47.75h2.4M731.52 52.81h2.4M731.86 59.76h2.4M732.20 66.99h2.4M732.54 74.36h2.4M732.88 81.49h2.4M733.22 88.35h2.4M733.56 94.80h2.4M733.90 101.09h2.4M734.24 106.99h2.4M734.58 111.85h2.4M734.92 115.61h2.4M735.26 119.07h2.4M735.60 121.79h2.4M735.94 124.52h2.4M736.28 126.72h2.4M736.62 128.69h2.4M736.96 130.13h2.4M737.30 131.51h2.4M737.64 132.89h2.4M737.98 133.92h2.4M738.32 134.90h2.4M738.66 135.88h2.4M739.00 136.43h2.4M739.34 136.93h2.4M739.68 137.57h2.4M740.02 138.38h2.4M740.36 139.19h2.4M740.70 139.92h2.4" fill="none" stroke="#1479c4" stroke-width="1.35"/>
<path d="M458.00 75.82 L458.34 76.33 L458.68 76.83 L459.02 77.34 L459.36 77.84 L459.70 78.35 L460.04 78.85 L460.38 79.36 L460.72 80.71 L461.06 82.06 L461.40 83.41 L461.74 84.75 L462.08 86.10 L462.42 87.45 L462.76 88.80 L463.10 90.37 L463.44 91.95 L463.78 93.52 L464.12 95.09 L464.46 96.67 L464.80 98.24 L465.14 99.62 L465.48 100.99 L465.82 102.37 L466.16 103.75 L466.50 105.12 L466.84 106.50 L467.18 107.88 L467.52 109.25 L467.86 110.63 L468.20 112.01 L468.54 113.38 L468.88 114.76 L469.22 111.42 L469.56 108.07 L469.90 104.73 L470.24 101.39 L470.58 98.04 L470.92 94.70 L471.26 92.14 L471.60 89.59 L471.94 87.03 L472.28 84.47 L472.62 81.92 L472.96 79.36 L473.30 76.70 L473.64 74.05 L473.98 71.40 L474.32 68.74 L474.66 71.98 L475.00 75.23 L475.34 78.47 L475.68 81.72 L476.02 83.88 L476.36 86.05 L476.70 88.21 L477.04 90.37 L477.38 92.54 L477.72 94.70 L478.06 96.62 L478.40 98.53 L478.74 100.45 L479.08 102.37 L479.42 104.29 L479.76 106.20 L480.10 108.12 L480.44 110.04 L480.78 111.37 L481.12 112.69 L481.46 114.02 L481.80 115.35 L482.14 116.68 L482.48 118.00 L482.82 119.33 L483.16 120.66 L483.50 119.92 L483.84 119.19 L484.18 118.45 L484.52 117.71 L484.86 116.97 L485.20 116.24 L485.54 115.50 L485.88 114.76 L486.22 113.73 L486.56 112.70 L486.90 111.66 L487.24 110.63 L487.58 109.60 L487.92 108.57 L488.26 107.53 L488.60 106.50 L488.94 105.03 L489.28 103.55 L489.62 102.08 L489.96 100.60 L490.30 99.13 L490.64 97.65 L490.98 96.18 L491.32 94.70 L491.66 93.67 L492.00 92.64 L492.34 91.60 L492.68 90.57 L493.02 89.54 L493.36 88.51 L493.70 87.47 L494.04 86.44 L494.38 87.23 L494.72 88.01 L495.06 88.80 L495.40 89.59 L495.74 90.37 L496.08 91.16 L496.42 93.13 L496.76 95.09 L497.10 97.06 L497.44 99.03 L497.78 100.99 L498.12 102.96 L498.46 104.53 L498.80 106.11 L499.14 107.68 L499.48 109.25 L499.82 110.83 L500.16 112.40 L500.50 112.20 L500.84 112.01 L501.18 111.81 L501.52 111.61 L501.86 111.42 L502.20 111.22 L502.54 110.63 L502.88 110.04 L503.22 109.45 L503.56 108.86 L503.90 108.27 L504.24 107.68 L504.58 108.27 L504.92 108.86 L505.26 109.45 L505.60 110.04 L505.94 111.02 L506.28 112.01 L506.62 112.99 L506.96 113.97 L507.30 114.96 L507.64 115.94 L507.98 112.87 L508.32 109.80 L508.66 106.74 L509.00 103.67 L509.34 100.60 L509.68 98.83 L510.02 97.06 L510.36 95.29 L510.70 93.52 L511.04 95.29 L511.38 97.06 L511.72 98.83 L512.06 100.60 L512.40 99.42 L512.74 98.24 L513.08 97.06 L513.42 95.88 L513.76 94.70 L514.10 93.05 L514.44 91.40 L514.78 89.74 L515.12 88.09 L515.46 86.44 L515.80 88.80 L516.14 91.16 L516.48 93.52 L516.82 95.88 L517.16 98.24 L517.50 99.62 L517.84 100.99 L518.18 102.37 L518.52 103.75 L518.86 105.12 L519.20 106.50 L519.54 106.89 L519.88 107.29 L520.22 107.68 L520.56 108.07 L520.90 108.47 L521.24 108.86 L521.58 109.45 L521.92 110.04 L522.26 110.63 L522.60 111.22 L522.94 111.81 L523.28 112.40 L523.62 113.58 L523.96 114.76 L524.30 115.94 L524.64 117.12 L524.98 117.42 L525.32 117.71 L525.66 118.01 L526.00 118.30 L526.34 116.33 L526.68 114.37 L527.02 112.40 L527.36 113.19 L527.70 113.97 L528.04 114.76 L528.38 111.81 L528.72 108.86 L529.06 105.91 L529.40 102.96 L529.74 100.01 L530.08 97.06 L530.42 94.11 L530.76 91.16 L531.10 88.21 L531.44 85.26 L531.78 82.31 L532.12 79.36 L532.46 75.82 L532.80 72.28 L533.14 68.74 L533.48 65.20 L533.82 59.30 L534.16 53.40 L534.50 47.50 L534.84 41.60 L535.18 47.11 L535.52 52.61 L535.86 58.12 L536.20 65.20 L536.54 72.28 L536.88 79.36 L537.22 82.31 L537.56 85.26 L537.90 88.21 L538.24 91.16 L538.58 91.95 L538.92 92.73 L539.26 93.52 L539.60 95.88 L539.94 98.24 L540.28 100.60 L540.62 105.03 L540.96 109.45 L541.30 113.88 L541.64 118.30 L541.98 116.23 L542.32 114.17 L542.66 112.10 L543.00 110.04 L543.34 106.20 L543.68 102.37 L544.02 98.53 L544.36 94.70 L544.70 90.27 L545.04 85.85 L545.38 81.42 L545.72 77.00 L546.06 74.64 L546.40 72.28 L546.74 83.49 L547.08 94.70 L547.42 98.54 L547.76 102.37 L548.10 106.21 L548.44 110.04 L548.78 111.81 L549.12 113.58 L549.46 115.35 L549.80 117.12 L550.14 117.71 L550.48 118.30 L550.82 118.89 L551.16 119.48 L551.50 120.07 L551.84 120.66 L552.18 119.28 L552.52 117.91 L552.86 116.53 L553.20 115.15 L553.54 113.78 L553.88 112.40 L554.22 108.86 L554.56 105.32 L554.90 101.78 L555.24 98.24 L555.58 94.70 L555.92 88.80 L556.26 82.90 L556.60 77.00 L556.94 71.10 L557.28 66.77 L557.62 62.45 L557.96 58.12 L558.30 58.51 L558.64 58.91 L558.98 59.30 L559.32 66.77 L559.66 74.25 L560.00 81.72 L560.34 86.44 L560.68 91.16 L561.02 95.88 L561.36 100.60 L561.70 105.62 L562.04 110.63 L562.38 115.65 L562.72 120.66 L563.06 124.50 L563.40 128.33 L563.74 132.17 L564.08 136.00 L564.42 138.95 L564.76 141.90 L565.10 144.85 L565.44 147.80 L565.78 149.28 L566.12 150.75 L566.46 152.23 L566.80 153.70 L567.14 152.81 L567.48 151.93 L567.82 151.04 L568.16 150.16 L568.50 146.03 L568.84 141.90 L569.18 137.77 L569.52 133.64 L569.86 130.57 L570.20 127.50 L570.54 124.44 L570.88 121.37 L571.22 118.30 L571.56 116.41 L571.90 114.52 L572.24 112.64 L572.58 110.75 L572.92 108.86 L573.26 110.34 L573.60 111.81 L573.94 113.29 L574.28 114.76 L574.62 116.73 L574.96 118.69 L575.30 120.66 L575.64 122.63 L575.98 124.59 L576.32 126.56 L576.66 129.12 L577.00 131.67 L577.34 134.23 L577.68 136.79 L578.02 139.34 L578.36 141.90 L578.70 144.06 L579.04 146.23 L579.38 148.39 L579.72 150.55 L580.06 152.72 L580.40 154.88 L580.74 155.08 L581.08 155.27 L581.42 155.47 L581.76 155.67 L582.10 155.86 L582.44 156.06 L582.78 155.08 L583.12 154.09 L583.46 153.11 L583.80 152.13 L584.14 151.14 L584.48 150.16 L584.82 148.78 L585.16 147.41 L585.50 146.03 L585.84 144.65 L586.18 143.28 L586.52 141.90 L586.86 143.38 L587.20 144.85 L587.54 146.33 L587.88 147.80 L588.22 149.28 L588.56 150.75 L588.90 152.23 L589.24 153.70 L589.58 152.05 L589.92 150.40 L590.26 148.74 L590.60 147.09 L590.94 145.44 L591.28 144.02 L591.62 142.61 L591.96 141.19 L592.30 139.78 L592.64 138.36 L592.98 139.25 L593.32 140.13 L593.66 141.02 L594.00 141.90 L594.34 143.28 L594.68 144.65 L595.02 146.03 L595.36 147.41 L595.70 148.78 L596.04 150.16 L596.38 150.75 L596.72 151.34 L597.06 151.93 L597.40 152.52 L597.74 153.11 L598.08 153.70 L598.42 153.70 L598.76 153.70 L599.10 153.70 L599.44 153.70 L599.78 153.70 L600.12 153.70 L600.46 154.68 L600.80 155.67 L601.14 156.65 L601.48 157.63 L601.82 158.62 L602.16 159.60 L602.50 158.89 L602.84 158.18 L603.18 157.48 L603.52 156.77 L603.86 156.06 L604.20 156.30 L604.54 156.53 L604.88 156.77 L605.22 157.00 L605.56 157.24 L605.90 156.06 L606.24 154.88 L606.58 153.70 L606.92 152.52 L607.26 151.34 L607.60 150.16 L607.94 148.98 L608.28 147.80 L608.62 147.21 L608.96 146.62 L609.30 146.03 L609.64 145.44 L609.98 144.85 L610.32 144.26 L610.66 143.87 L611.00 143.47 L611.34 143.08 L611.68 142.69 L612.02 142.29 L612.36 141.90 L612.70 142.49 L613.04 143.08 L613.38 143.67 L613.72 144.26 L614.06 144.85 L614.40 145.44 L614.74 145.74 L615.08 146.03 L615.42 146.33 L615.76 146.62 L616.10 147.28 L616.44 147.95 L616.78 148.61 L617.12 149.28 L617.46 149.94 L617.80 150.60 L618.14 151.27 L618.48 151.93 L618.82 151.24 L619.16 150.55 L619.50 149.86 L619.84 149.18 L620.18 148.49 L620.52 147.80 L620.86 146.62 L621.20 145.44 L621.54 144.26 L621.88 143.08 L622.22 144.60 L622.56 146.11 L622.90 147.63 L623.24 149.15 L623.58 150.67 L623.92 152.18 L624.26 153.70 L624.60 154.54 L624.94 155.39 L625.28 156.23 L625.62 157.07 L625.96 157.91 L626.30 158.76 L626.64 159.60 L626.98 157.63 L627.32 155.67 L627.66 153.70 L628.00 151.73 L628.34 149.77 L628.68 147.80 L629.02 144.85 L629.36 141.90 L629.70 138.95 L630.04 136.00 L630.38 133.64 L630.72 131.28 L631.06 128.92 L631.40 126.56 L631.74 125.38 L632.08 124.20 L632.42 123.02 L632.76 121.84 L633.10 120.66 L633.44 120.07 L633.78 119.48 L634.12 118.89 L634.46 118.30 L634.80 119.78 L635.14 121.25 L635.48 122.73 L635.82 124.20 L636.16 125.85 L636.50 127.50 L636.84 129.16 L637.18 130.81 L637.52 132.46 L637.86 133.05 L638.20 133.64 L638.54 134.23 L638.88 134.82 L639.22 135.71 L639.56 136.59 L639.90 137.48 L640.24 138.36 L640.58 140.13 L640.92 141.90 L641.26 143.67 L641.60 145.44 L641.94 146.03 L642.28 146.62 L642.62 147.21 L642.96 147.80 L643.30 145.44 L643.64 143.08 L643.98 140.72 L644.32 138.36 L644.66 136.00 L645.00 134.23 L645.34 132.46 L645.68 130.69 L646.02 128.92 L646.36 127.44 L646.70 125.97 L647.04 124.49 L647.38 123.02 L647.72 122.55 L648.06 122.08 L648.40 121.60 L648.74 121.13 L649.08 120.66 L649.42 119.77 L649.76 118.89 L650.10 118.00 L650.44 117.12 L650.78 116.33 L651.12 115.55 L651.46 114.76 L651.80 113.97 L652.14 113.19 L652.48 112.40 L652.82 114.47 L653.16 116.53 L653.50 118.60 L653.84 120.66 L654.18 122.63 L654.52 124.59 L654.86 126.56 L655.20 127.15 L655.54 127.74 L655.88 128.33 L656.22 128.92 L656.56 129.63 L656.90 130.34 L657.24 131.04 L657.58 131.75 L657.92 132.46 L658.26 131.87 L658.60 131.28 L658.94 130.69 L659.28 130.10 L659.62 129.80 L659.96 129.51 L660.30 129.21 L660.64 128.92 L660.98 130.10 L661.32 131.28 L661.66 132.46 L662.00 133.64 L662.34 134.58 L662.68 135.53 L663.02 136.47 L663.36 137.42 L663.70 138.36 L664.04 138.56 L664.38 138.75 L664.72 138.95 L665.06 139.15 L665.40 139.34 L665.74 139.54 L666.08 139.74 L666.42 139.93 L666.76 140.13 L667.10 137.62 L667.44 135.11 L667.78 132.61 L668.12 130.10 L668.46 126.26 L668.80 122.43 L669.14 118.59 L669.48 114.76 L669.82 113.78 L670.16 112.79 L670.50 111.81 L670.84 110.83 L671.18 109.84 L671.52 108.86 L671.86 110.34 L672.20 111.81 L672.54 113.29 L672.88 114.76 L673.22 116.24 L673.56 117.71 L673.90 119.19 L674.24 120.66 L674.58 122.08 L674.92 123.49 L675.26 124.91 L675.60 126.32 L675.94 127.74 L676.28 129.51 L676.62 131.28 L676.96 133.05 L677.30 134.82 L677.64 135.29 L677.98 135.76 L678.32 136.24 L678.66 136.71 L679.00 137.18 L679.34 137.67 L679.68 138.16 L680.02 138.66 L680.36 139.15 L680.70 139.64 L681.04 140.13 L681.38 139.10 L681.72 138.06 L682.06 137.03 L682.40 136.00 L682.74 135.06 L683.08 134.11 L683.42 133.17 L683.76 132.22 L684.10 131.28 L684.44 131.58 L684.78 131.87 L685.12 132.17 L685.46 132.46 L685.80 131.87 L686.14 131.28 L686.48 130.69 L686.82 130.10 L687.16 129.39 L687.50 128.68 L687.84 127.98 L688.18 127.27 L688.52 126.56 L688.86 125.97 L689.20 125.38 L689.54 124.79 L689.88 124.20 L690.22 125.14 L690.56 126.09 L690.90 127.03 L691.24 127.98 L691.58 128.92 L691.92 129.81 L692.26 130.69 L692.60 131.58 L692.94 132.46 L693.28 133.05 L693.62 133.64 L693.96 134.23 L694.30 134.82 L694.64 135.41 L694.98 136.00 L695.32 136.59 L695.66 137.18 L696.00 136.94 L696.34 136.71 L696.68 136.47 L697.02 136.24 L697.36 136.00 L697.70 135.70 L698.04 135.41 L698.38 135.11 L698.72 134.82 L699.06 135.71 L699.40 136.59 L699.74 137.48 L700.08 138.36 L700.42 139.54 L700.76 140.72 L701.10 141.90 L701.44 143.08 L701.78 143.87 L702.12 144.65 L702.46 145.44 L702.80 146.23 L703.14 147.01 L703.48 147.80 L703.82 146.23 L704.16 144.65 L704.50 143.08 L704.84 141.51 L705.18 139.93 L705.52 138.36 L705.86 137.18 L706.20 136.00 L706.54 134.82 L706.88 133.64 L707.22 132.46 L707.56 131.28 L707.90 131.87 L708.24 132.46 L708.58 133.05 L708.92 133.64 L709.26 133.34 L709.60 133.05 L709.94 132.75 L710.28 132.46 L710.62 130.98 L710.96 129.51 L711.30 128.03 L711.64 126.56 L711.98 125.77 L712.32 124.99 L712.66 124.20 L713.00 125.97 L713.34 127.74 L713.68 129.51 L714.02 131.28 L714.36 132.75 L714.70 134.23 L715.04 135.70 L715.38 137.18 L715.72 136.79 L716.06 136.39 L716.40 136.00 L716.74 135.71 L717.08 135.41 L717.42 135.12 L717.76 134.82 L718.10 135.48 L718.44 136.15 L718.78 136.81 L719.12 137.47 L719.46 138.14 L719.80 138.80 L720.14 139.47 L720.48 140.13 L720.82 140.50 L721.16 140.87 L721.50 141.24 L721.84 141.60 L722.18 141.97 L722.52 142.34 L722.86 142.71 L723.20 143.08 L723.54 143.87 L723.88 144.65 L724.22 145.44 L724.56 146.23 L724.90 147.01 L725.24 147.80 L725.58 144.85 L725.92 141.90 L726.26 138.95 L726.60 136.00 L726.94 134.53 L727.28 133.05 L727.62 131.58 L727.96 130.10 L728.30 128.21 L728.64 126.32 L728.98 124.44 L729.32 122.55 L729.66 120.66 L730.00 119.24 L730.34 117.83 L730.68 116.41 L731.02 115.00 L731.36 113.58 L731.70 115.23 L732.04 116.88 L732.38 118.54 L732.72 120.19 L733.06 121.84 L733.40 123.02 L733.74 124.20 L734.08 125.38 L734.42 126.56 L734.76 127.98 L735.10 129.39 L735.44 130.81 L735.78 132.22 L736.12 133.64 L736.46 134.82 L736.80 136.00 L737.14 137.18 L737.48 138.36 L737.82 138.16 L738.16 137.97 L738.50 137.77 L738.84 137.57 L739.18 137.38 L739.52 137.18 L739.86 137.97 L740.20 138.75 L740.54 139.54 L740.88 140.33 L741.22 141.11 L741.56 141.90 L741.90 143.37 L742.24 144.85 L742.58 146.32 L742.92 147.80" fill="none" stroke="#d9531e" stroke-width="1.05" stroke-linejoin="round"/>
<rect x="457.5" y="7.3" width="289.6" height="152.29999999999998" fill="none" stroke="#4a4a4a" stroke-width="1.15"/>
<line x1="457.50" y1="159.60" x2="457.50" y2="156.60" stroke="#4a4a4a" stroke-width="1.15" />
<line x1="457.50" y1="7.30" x2="457.50" y2="10.30" stroke="#4a4a4a" stroke-width="1.15" />
<line x1="525.15" y1="159.60" x2="525.15" y2="156.60" stroke="#4a4a4a" stroke-width="1.15" />
<line x1="525.15" y1="7.30" x2="525.15" y2="10.30" stroke="#4a4a4a" stroke-width="1.15" />
<line x1="592.80" y1="159.60" x2="592.80" y2="156.60" stroke="#4a4a4a" stroke-width="1.15" />
<line x1="592.80" y1="7.30" x2="592.80" y2="10.30" stroke="#4a4a4a" stroke-width="1.15" />
<line x1="660.45" y1="159.60" x2="660.45" y2="156.60" stroke="#4a4a4a" stroke-width="1.15" />
<line x1="660.45" y1="7.30" x2="660.45" y2="10.30" stroke="#4a4a4a" stroke-width="1.15" />
<line x1="728.10" y1="159.60" x2="728.10" y2="156.60" stroke="#4a4a4a" stroke-width="1.15" />
<line x1="728.10" y1="7.30" x2="728.10" y2="10.30" stroke="#4a4a4a" stroke-width="1.15" />
<line x1="457.50" y1="159.60" x2="460.50" y2="159.60" stroke="#4a4a4a" stroke-width="1.15" />
<line x1="747.10" y1="159.60" x2="744.10" y2="159.60" stroke="#4a4a4a" stroke-width="1.15" />
<line x1="457.50" y1="100.60" x2="460.50" y2="100.60" stroke="#4a4a4a" stroke-width="1.15" />
<line x1="747.10" y1="100.60" x2="744.10" y2="100.60" stroke="#4a4a4a" stroke-width="1.15" />
<line x1="457.50" y1="41.60" x2="460.50" y2="41.60" stroke="#4a4a4a" stroke-width="1.15" />
<line x1="747.10" y1="41.60" x2="744.10" y2="41.60" stroke="#4a4a4a" stroke-width="1.15" />
<text transform="translate(453.50,163.90) scale(1.0500,1)" font-size="13.0" text-anchor="end" fill="#1a1a1a" >0</text>
<text transform="translate(749.00,163.90) scale(1.0500,1)" font-size="13.0" text-anchor="start" fill="#1a1a1a" >0</text>
<text transform="translate(453.50,105.30) scale(1.0500,1)" font-size="13.0" text-anchor="end" fill="#1a1a1a" >0.5</text>
<text transform="translate(749.00,105.30) scale(1.0500,1)" font-size="13.0" text-anchor="start" fill="#1a1a1a" >0.5</text>
<text transform="translate(453.50,46.30) scale(1.0500,1)" font-size="13.0" text-anchor="end" fill="#1a1a1a" >1</text>
<text transform="translate(749.00,46.30) scale(1.0500,1)" font-size="13.0" text-anchor="start" fill="#1a1a1a" >1</text>
<text transform="translate(458.10,176.50) scale(1.0500,1)" font-size="13.0" text-anchor="middle" fill="#1a1a1a" >0</text>
<text transform="translate(525.75,176.50) scale(1.0500,1)" font-size="13.0" text-anchor="middle" fill="#1a1a1a" >10</text>
<text transform="translate(593.40,176.50) scale(1.0500,1)" font-size="13.0" text-anchor="middle" fill="#1a1a1a" >20</text>
<text transform="translate(661.05,176.50) scale(1.0500,1)" font-size="13.0" text-anchor="middle" fill="#1a1a1a" >30</text>
<text transform="translate(728.70,176.50) scale(1.0500,1)" font-size="13.0" text-anchor="middle" fill="#1a1a1a" >40</text>
<text transform="translate(601.70,192.40) scale(1.0324,1)" font-size="14.2" text-anchor="middle" fill="#1a1a1a" >Time (s)</text>
<text transform="translate(429.50,91.20) rotate(-90) scale(1.0400,1)" font-size="14.2" text-anchor="middle" fill="#1a1a1a" >CSA  (a.u.)</text>
<text transform="translate(775.50,92.30) rotate(90) scale(1.0511,1)" font-size="14.3" text-anchor="middle" fill="#1a1a1a" >Pressure (a.u.)</text>
<text transform="translate(423.10,22.90) scale(1.1321,1)" font-size="15.0" text-anchor="start" fill="#1a1a1a" >(c)</text>
<line x1="621.50" y1="18.20" x2="635.20" y2="18.20" stroke="#1479c4" stroke-width="1.0" />
<line x1="628.35" y1="15.00" x2="628.35" y2="21.40" stroke="#1479c4" stroke-width="1.0" />
<line x1="627.10" y1="15.00" x2="629.60" y2="15.00" stroke="#1479c4" stroke-width="0.9" />
<line x1="627.10" y1="21.40" x2="629.60" y2="21.40" stroke="#1479c4" stroke-width="0.9" />
<text transform="translate(641.80,21.70) scale(1.0039,1)" font-size="11.8" text-anchor="start" fill="#1a1a1a" >Pressure</text>
<line x1="621.50" y1="30.80" x2="635.20" y2="30.80" stroke="#d9531e" stroke-width="1.05" />
<text transform="translate(641.80,34.80) scale(0.9974,1)" font-size="11.8" text-anchor="start" fill="#1a1a1a" >CSA</text>
<text transform="translate(21.20,218.80) scale(1.0911,1)" font-size="15.0" text-anchor="start" fill="#1a1a1a" >(b)</text>
<rect x="57.6" y="306.5" width="320.0" height="136.5" fill="none" stroke="#555" stroke-width="1.0"/>
<line x1="57.60" y1="443.00" x2="57.60" y2="440.00" stroke="#555" stroke-width="1.0" />
<line x1="57.60" y1="306.50" x2="57.60" y2="309.50" stroke="#555" stroke-width="1.0" />
<line x1="121.60" y1="443.00" x2="121.60" y2="440.00" stroke="#555" stroke-width="1.0" />
<line x1="121.60" y1="306.50" x2="121.60" y2="309.50" stroke="#555" stroke-width="1.0" />
<line x1="185.60" y1="443.00" x2="185.60" y2="440.00" stroke="#555" stroke-width="1.0" />
<line x1="185.60" y1="306.50" x2="185.60" y2="309.50" stroke="#555" stroke-width="1.0" />
<line x1="249.60" y1="443.00" x2="249.60" y2="440.00" stroke="#555" stroke-width="1.0" />
<line x1="249.60" y1="306.50" x2="249.60" y2="309.50" stroke="#555" stroke-width="1.0" />
<line x1="313.60" y1="443.00" x2="313.60" y2="440.00" stroke="#555" stroke-width="1.0" />
<line x1="313.60" y1="306.50" x2="313.60" y2="309.50" stroke="#555" stroke-width="1.0" />
<line x1="377.60" y1="443.00" x2="377.60" y2="440.00" stroke="#555" stroke-width="1.0" />
<line x1="377.60" y1="306.50" x2="377.60" y2="309.50" stroke="#555" stroke-width="1.0" />
<line x1="57.60" y1="443.00" x2="60.60" y2="443.00" stroke="#555" stroke-width="1.0" />
<line x1="377.60" y1="443.00" x2="374.60" y2="443.00" stroke="#555" stroke-width="1.0" />
<line x1="57.60" y1="409.00" x2="60.60" y2="409.00" stroke="#555" stroke-width="1.0" />
<line x1="377.60" y1="409.00" x2="374.60" y2="409.00" stroke="#555" stroke-width="1.0" />
<line x1="57.60" y1="375.00" x2="60.60" y2="375.00" stroke="#555" stroke-width="1.0" />
<line x1="377.60" y1="375.00" x2="374.60" y2="375.00" stroke="#555" stroke-width="1.0" />
<line x1="57.60" y1="341.00" x2="60.60" y2="341.00" stroke="#555" stroke-width="1.0" />
<line x1="377.60" y1="341.00" x2="374.60" y2="341.00" stroke="#555" stroke-width="1.0" />
<line x1="57.60" y1="307.00" x2="60.60" y2="307.00" stroke="#555" stroke-width="1.0" />
<line x1="377.60" y1="307.00" x2="374.60" y2="307.00" stroke="#555" stroke-width="1.0" />
<text transform="translate(53.30,447.50) scale(1.0600,1)" font-size="12.8" text-anchor="end" fill="#1a1a1a" >0</text>
<text transform="translate(53.30,413.70) scale(1.0600,1)" font-size="12.8" text-anchor="end" fill="#1a1a1a" >0.5</text>
<text transform="translate(53.30,379.70) scale(1.0600,1)" font-size="12.8" text-anchor="end" fill="#1a1a1a" >1</text>
<text transform="translate(53.30,345.70) scale(1.0600,1)" font-size="12.8" text-anchor="end" fill="#1a1a1a" >1.5</text>
<text transform="translate(53.30,312.70) scale(1.0600,1)" font-size="12.8" text-anchor="end" fill="#1a1a1a" >2</text>
<text transform="translate(58.20,459.70) scale(1.0600,1)" font-size="12.8" text-anchor="middle" fill="#1a1a1a" >0</text>
<text transform="translate(122.20,459.70) scale(1.0600,1)" font-size="12.8" text-anchor="middle" fill="#1a1a1a" >10</text>
<text transform="translate(186.20,459.70) scale(1.0600,1)" font-size="12.8" text-anchor="middle" fill="#1a1a1a" >20</text>
<text transform="translate(250.20,459.70) scale(1.0600,1)" font-size="12.8" text-anchor="middle" fill="#1a1a1a" >30</text>
<text transform="translate(314.20,459.70) scale(1.0600,1)" font-size="12.8" text-anchor="middle" fill="#1a1a1a" >40</text>
<text transform="translate(378.20,459.70) scale(1.0600,1)" font-size="12.8" text-anchor="middle" fill="#1a1a1a" >50</text>
<text transform="translate(218.30,471.60) scale(1.0630,1)" font-size="14.4" text-anchor="middle" fill="#1a1a1a" >z (mm)</text>
<text transform="translate(28.00,368.90) rotate(-90) scale(1.0692,1)" font-size="14.4" text-anchor="middle" fill="#1a1a1a">CC (mm<tspan font-size="10.08" dy="-5.6">2</tspan><tspan dy="5.6">/cmH</tspan><tspan font-size="10.08" dy="3.8">2</tspan><tspan dy="-3.8">O)</tspan></text>
<path d="M90.88 421.92V431.44M89.68 421.92h2.4M89.68 431.44h2.4M94.08 399.48V443.00M92.88 399.48h2.4M92.88 443.00h2.4M97.28 382.48V416.48M96.08 382.48h2.4M96.08 416.48h2.4M100.48 390.64V404.24M99.28 390.64h2.4M99.28 404.24h2.4M103.68 392.68V403.56M102.48 392.68h2.4M102.48 403.56h2.4M106.88 392.00V402.88M105.68 392.00h2.4M105.68 402.88h2.4M110.08 387.92V401.52M108.88 387.92h2.4M108.88 401.52h2.4M113.28 381.80V392.68M112.08 381.80h2.4M112.08 392.68h2.4M116.48 394.04V402.20M115.28 394.04h2.4M115.28 402.20h2.4M119.68 402.20V413.08M118.48 402.20h2.4M118.48 413.08h2.4M122.88 405.60V408.32M121.68 405.60h2.4M121.68 408.32h2.4M132.48 406.96V413.76M131.28 406.96h2.4M131.28 413.76h2.4M135.68 398.12V409.00M134.48 398.12h2.4M134.48 409.00h2.4M138.88 400.84V407.64M137.68 400.84h2.4M137.68 407.64h2.4M142.08 388.60V395.40M140.88 388.60h2.4M140.88 395.40h2.4M145.28 383.16V389.96M144.08 383.16h2.4M144.08 389.96h2.4M148.48 389.28V397.44M147.28 389.28h2.4M147.28 397.44h2.4M151.68 398.12V409.00M150.48 398.12h2.4M150.48 409.00h2.4M154.88 393.36V402.88M153.68 393.36h2.4M153.68 402.88h2.4M177.19 389.06V402.50M175.99 389.06h2.4M175.99 402.50h2.4M180.31 385.94V398.44M179.11 385.94h2.4M179.11 398.44h2.4M183.75 371.88V380.62M182.55 371.88h2.4M182.55 380.62h2.4M186.88 359.38V386.88M185.68 359.38h2.4M185.68 386.88h2.4M190.00 361.88V375.00M188.80 361.88h2.4M188.80 375.00h2.4M193.12 358.44V378.12M191.93 358.44h2.4M191.93 378.12h2.4M196.56 364.69V389.06M195.36 364.69h2.4M195.36 389.06h2.4M199.69 340.00V397.50M198.49 340.00h2.4M198.49 397.50h2.4M202.81 337.50V376.56M201.61 337.50h2.4M201.61 376.56h2.4M205.94 322.50V376.56M204.74 322.50h2.4M204.74 376.56h2.4M209.38 354.69V367.19M208.18 354.69h2.4M208.18 367.19h2.4M212.50 365.00V388.12M211.30 365.00h2.4M211.30 388.12h2.4M215.62 375.00V385.00M214.43 375.00h2.4M214.43 385.00h2.4M218.75 376.56V386.56M217.55 376.56h2.4M217.55 386.56h2.4M221.88 370.31V382.81M220.68 370.31h2.4M220.68 382.81h2.4M225.00 368.75V377.50M223.80 368.75h2.4M223.80 377.50h2.4M228.12 371.88V382.81M226.93 371.88h2.4M226.93 382.81h2.4M231.56 375.00V398.44M230.36 375.00h2.4M230.36 398.44h2.4M234.69 385.00V388.75M233.49 385.00h2.4M233.49 388.75h2.4M237.81 393.75V396.25M236.61 393.75h2.4M236.61 396.25h2.4M241.25 393.75V403.12M240.05 393.75h2.4M240.05 403.12h2.4M244.38 398.44V406.88M243.18 398.44h2.4M243.18 406.88h2.4M247.50 394.69V400.94M246.30 394.69h2.4M246.30 400.94h2.4M250.62 381.88V395.31M249.43 381.88h2.4M249.43 395.31h2.4M253.75 371.25V385.00M252.55 371.25h2.4M252.55 385.00h2.4M257.19 367.19V392.19M255.99 367.19h2.4M255.99 392.19h2.4M260.31 384.38V403.75M259.11 384.38h2.4M259.11 403.75h2.4M263.44 375.00V400.62M262.24 375.00h2.4M262.24 400.62h2.4M266.56 381.88V400.62M265.36 381.88h2.4M265.36 400.62h2.4M269.69 373.44V402.50M268.49 373.44h2.4M268.49 402.50h2.4M288.75 377.50V435.31M287.55 377.50h2.4M287.55 435.31h2.4M292.19 396.25V415.00M290.99 396.25h2.4M290.99 415.00h2.4M295.31 384.38V392.81M294.11 384.38h2.4M294.11 392.81h2.4M298.44 393.75V403.75M297.24 393.75h2.4M297.24 403.75h2.4M301.56 395.31V407.81M300.36 395.31h2.4M300.36 407.81h2.4M305.00 387.50V396.25M303.80 387.50h2.4M303.80 396.25h2.4M308.12 388.12V395.31M306.93 388.12h2.4M306.93 395.31h2.4M311.56 375.94V400.00M310.36 375.94h2.4M310.36 400.00h2.4M320.94 331.25V392.81M319.74 331.25h2.4M319.74 392.81h2.4M324.06 353.12V396.25M322.86 353.12h2.4M322.86 396.25h2.4M327.50 369.38V390.62M326.30 369.38h2.4M326.30 390.62h2.4M330.62 379.69V391.25M329.43 379.69h2.4M329.43 391.25h2.4M333.75 385.94V392.81M332.55 385.94h2.4M332.55 392.81h2.4M336.88 388.44V396.88M335.68 388.44h2.4M335.68 396.88h2.4M340.31 388.12V398.44M339.11 388.12h2.4M339.11 398.44h2.4M343.44 390.00V397.50M342.24 390.00h2.4M342.24 397.50h2.4" fill="none" stroke="#3a3ad8" stroke-width="0.75"/>
<circle cx="90.88" cy="426.68" r="1.25" fill="#2222cc"/>
<circle cx="94.08" cy="426.68" r="1.25" fill="#2222cc"/>
<circle cx="97.28" cy="399.48" r="1.25" fill="#2222cc"/>
<circle cx="100.48" cy="397.44" r="1.25" fill="#2222cc"/>
<circle cx="103.68" cy="398.12" r="1.25" fill="#2222cc"/>
<circle cx="106.88" cy="397.44" r="1.25" fill="#2222cc"/>
<circle cx="110.08" cy="394.72" r="1.25" fill="#2222cc"/>
<circle cx="113.28" cy="387.24" r="1.25" fill="#2222cc"/>
<circle cx="116.48" cy="398.12" r="1.25" fill="#2222cc"/>
<circle cx="119.68" cy="407.64" r="1.25" fill="#2222cc"/>
<circle cx="122.88" cy="406.96" r="1.25" fill="#2222cc"/>
<circle cx="132.48" cy="410.36" r="1.25" fill="#2222cc"/>
<circle cx="135.68" cy="403.56" r="1.25" fill="#2222cc"/>
<circle cx="138.88" cy="404.24" r="1.25" fill="#2222cc"/>
<circle cx="142.08" cy="392.00" r="1.25" fill="#2222cc"/>
<circle cx="145.28" cy="386.56" r="1.25" fill="#2222cc"/>
<circle cx="148.48" cy="393.36" r="1.25" fill="#2222cc"/>
<circle cx="151.68" cy="403.56" r="1.25" fill="#2222cc"/>
<circle cx="154.88" cy="398.12" r="1.25" fill="#2222cc"/>
<circle cx="177.19" cy="395.31" r="1.25" fill="#2222cc"/>
<circle cx="180.31" cy="392.19" r="1.25" fill="#2222cc"/>
<circle cx="183.75" cy="375.94" r="1.25" fill="#2222cc"/>
<circle cx="186.88" cy="373.75" r="1.25" fill="#2222cc"/>
<circle cx="190.00" cy="368.12" r="1.25" fill="#2222cc"/>
<circle cx="193.12" cy="368.12" r="1.25" fill="#2222cc"/>
<circle cx="196.56" cy="376.25" r="1.25" fill="#2222cc"/>
<circle cx="199.69" cy="368.75" r="1.25" fill="#2222cc"/>
<circle cx="202.81" cy="357.19" r="1.25" fill="#2222cc"/>
<circle cx="205.94" cy="349.06" r="1.25" fill="#2222cc"/>
<circle cx="209.38" cy="361.25" r="1.25" fill="#2222cc"/>
<circle cx="212.50" cy="376.56" r="1.25" fill="#2222cc"/>
<circle cx="215.62" cy="379.69" r="1.25" fill="#2222cc"/>
<circle cx="218.75" cy="381.25" r="1.25" fill="#2222cc"/>
<circle cx="221.88" cy="376.56" r="1.25" fill="#2222cc"/>
<circle cx="225.00" cy="372.81" r="1.25" fill="#2222cc"/>
<circle cx="228.12" cy="377.19" r="1.25" fill="#2222cc"/>
<circle cx="231.56" cy="386.56" r="1.25" fill="#2222cc"/>
<circle cx="234.69" cy="386.88" r="1.25" fill="#2222cc"/>
<circle cx="237.81" cy="394.69" r="1.25" fill="#2222cc"/>
<circle cx="241.25" cy="397.81" r="1.25" fill="#2222cc"/>
<circle cx="244.38" cy="402.19" r="1.25" fill="#2222cc"/>
<circle cx="247.50" cy="397.81" r="1.25" fill="#2222cc"/>
<circle cx="250.62" cy="389.06" r="1.25" fill="#2222cc"/>
<circle cx="253.75" cy="378.12" r="1.25" fill="#2222cc"/>
<circle cx="257.19" cy="379.69" r="1.25" fill="#2222cc"/>
<circle cx="260.31" cy="393.75" r="1.25" fill="#2222cc"/>
<circle cx="263.44" cy="387.50" r="1.25" fill="#2222cc"/>
<circle cx="266.56" cy="390.62" r="1.25" fill="#2222cc"/>
<circle cx="269.69" cy="387.50" r="1.25" fill="#2222cc"/>
<circle cx="288.75" cy="406.25" r="1.25" fill="#2222cc"/>
<circle cx="292.19" cy="405.62" r="1.25" fill="#2222cc"/>
<circle cx="295.31" cy="388.44" r="1.25" fill="#2222cc"/>
<circle cx="298.44" cy="398.44" r="1.25" fill="#2222cc"/>
<circle cx="301.56" cy="401.56" r="1.25" fill="#2222cc"/>
<circle cx="305.00" cy="391.56" r="1.25" fill="#2222cc"/>
<circle cx="308.12" cy="391.25" r="1.25" fill="#2222cc"/>
<circle cx="311.56" cy="388.12" r="1.25" fill="#2222cc"/>
<circle cx="320.94" cy="361.88" r="1.25" fill="#2222cc"/>
<circle cx="324.06" cy="375.00" r="1.25" fill="#2222cc"/>
<circle cx="327.50" cy="379.69" r="1.25" fill="#2222cc"/>
<circle cx="330.62" cy="385.31" r="1.25" fill="#2222cc"/>
<circle cx="333.75" cy="389.06" r="1.25" fill="#2222cc"/>
<circle cx="336.88" cy="392.19" r="1.25" fill="#2222cc"/>
<circle cx="340.31" cy="392.81" r="1.25" fill="#2222cc"/>
<circle cx="343.44" cy="393.44" r="1.25" fill="#2222cc"/>
<text transform="translate(421.80,218.80) scale(1.0911,1)" font-size="15.0" text-anchor="start" fill="#1a1a1a" >(d)</text>
<rect x="462.0" y="309.0" width="314.79999999999995" height="136.0" fill="none" stroke="#555" stroke-width="1.0"/>
<line x1="462.00" y1="445.00" x2="462.00" y2="442.00" stroke="#555" stroke-width="1.0" />
<line x1="462.00" y1="309.00" x2="462.00" y2="312.00" stroke="#555" stroke-width="1.0" />
<line x1="524.96" y1="445.00" x2="524.96" y2="442.00" stroke="#555" stroke-width="1.0" />
<line x1="524.96" y1="309.00" x2="524.96" y2="312.00" stroke="#555" stroke-width="1.0" />
<line x1="587.92" y1="445.00" x2="587.92" y2="442.00" stroke="#555" stroke-width="1.0" />
<line x1="587.92" y1="309.00" x2="587.92" y2="312.00" stroke="#555" stroke-width="1.0" />
<line x1="650.88" y1="445.00" x2="650.88" y2="442.00" stroke="#555" stroke-width="1.0" />
<line x1="650.88" y1="309.00" x2="650.88" y2="312.00" stroke="#555" stroke-width="1.0" />
<line x1="713.84" y1="445.00" x2="713.84" y2="442.00" stroke="#555" stroke-width="1.0" />
<line x1="713.84" y1="309.00" x2="713.84" y2="312.00" stroke="#555" stroke-width="1.0" />
<line x1="776.80" y1="445.00" x2="776.80" y2="442.00" stroke="#555" stroke-width="1.0" />
<line x1="776.80" y1="309.00" x2="776.80" y2="312.00" stroke="#555" stroke-width="1.0" />
<line x1="462.00" y1="445.00" x2="465.00" y2="445.00" stroke="#555" stroke-width="1.0" />
<line x1="776.80" y1="445.00" x2="773.80" y2="445.00" stroke="#555" stroke-width="1.0" />
<line x1="462.00" y1="377.00" x2="465.00" y2="377.00" stroke="#555" stroke-width="1.0" />
<line x1="776.80" y1="377.00" x2="773.80" y2="377.00" stroke="#555" stroke-width="1.0" />
<line x1="462.00" y1="309.00" x2="465.00" y2="309.00" stroke="#555" stroke-width="1.0" />
<line x1="776.80" y1="309.00" x2="773.80" y2="309.00" stroke="#555" stroke-width="1.0" />
<text transform="translate(458.20,449.50) scale(1.0600,1)" font-size="12.8" text-anchor="end" fill="#1a1a1a" >0</text>
<text transform="translate(458.20,381.70) scale(1.0600,1)" font-size="12.8" text-anchor="end" fill="#1a1a1a" >0.5</text>
<text transform="translate(458.20,314.70) scale(1.0600,1)" font-size="12.8" text-anchor="end" fill="#1a1a1a" >1</text>
<text transform="translate(462.60,460.80) scale(1.0600,1)" font-size="12.8" text-anchor="middle" fill="#1a1a1a" >0</text>
<text transform="translate(525.56,460.80) scale(1.0600,1)" font-size="12.8" text-anchor="middle" fill="#1a1a1a" >10</text>
<text transform="translate(588.52,460.80) scale(1.0600,1)" font-size="12.8" text-anchor="middle" fill="#1a1a1a" >20</text>
<text transform="translate(651.48,460.80) scale(1.0600,1)" font-size="12.8" text-anchor="middle" fill="#1a1a1a" >30</text>
<text transform="translate(714.44,460.80) scale(1.0600,1)" font-size="12.8" text-anchor="middle" fill="#1a1a1a" >40</text>
<text transform="translate(777.40,460.80) scale(1.0600,1)" font-size="12.8" text-anchor="middle" fill="#1a1a1a" >50</text>
<text transform="translate(619.00,472.20) scale(1.0630,1)" font-size="14.4" text-anchor="middle" fill="#1a1a1a" >z (mm)</text>
<text transform="translate(432.00,381.10) rotate(-90) scale(1.0692,1)" font-size="14.4" text-anchor="middle" fill="#1a1a1a">CC (mm<tspan font-size="10.08" dy="-5.6">2</tspan><tspan dy="5.6">/cmH</tspan><tspan font-size="10.08" dy="3.8">2</tspan><tspan dy="-3.8">O)</tspan></text>
<path d="M469.20 411.00V416.40M468.00 411.00h2.4M468.00 416.40h2.4M472.40 390.60V411.00M471.20 390.60h2.4M471.20 411.00h2.4M475.60 388.40V407.40M474.40 388.40h2.4M474.40 407.40h2.4M478.80 398.00V413.00M477.60 398.00h2.4M477.60 413.00h2.4M481.80 390.00V415.60M480.60 390.00h2.4M480.60 415.60h2.4M497.40 406.40V417.60M496.20 406.40h2.4M496.20 417.60h2.4M500.60 407.40V410.00M499.40 407.40h2.4M499.40 410.00h2.4M503.80 411.60V415.60M502.60 411.60h2.4M502.60 415.60h2.4M507.00 411.60V421.60M505.80 411.60h2.4M505.80 421.60h2.4M510.00 405.00V418.40M508.80 405.00h2.4M508.80 418.40h2.4M513.20 415.00V433.40M512.00 415.00h2.4M512.00 433.40h2.4M516.40 422.00V434.40M515.20 422.00h2.4M515.20 434.40h2.4M519.60 408.40V419.40M518.40 408.40h2.4M518.40 419.40h2.4M529.00 422.00V426.60M527.80 422.00h2.4M527.80 426.60h2.4M554.40 396.40V416.40M553.20 396.40h2.4M553.20 416.40h2.4M582.60 401.60V424.60M581.40 401.60h2.4M581.40 424.60h2.4M585.80 396.60V419.40M584.60 396.60h2.4M584.60 419.40h2.4M589.00 396.60V422.40M587.80 396.60h2.4M587.80 422.40h2.4M610.80 429.00V436.60M609.60 429.00h2.4M609.60 436.60h2.4M614.00 423.40V431.00M612.80 423.40h2.4M612.80 431.00h2.4M617.20 425.00V429.40M616.00 425.00h2.4M616.00 429.40h2.4M620.40 420.00V423.40M619.20 420.00h2.4M619.20 423.40h2.4M623.60 413.00V423.00M622.40 413.00h2.4M622.40 423.00h2.4M626.60 417.60V422.60M625.40 417.60h2.4M625.40 422.60h2.4M629.80 425.00V430.60M628.60 425.00h2.4M628.60 430.60h2.4M645.40 426.00V437.60M644.20 426.00h2.4M644.20 437.60h2.4M648.60 410.60V430.40M647.40 410.60h2.4M647.40 430.40h2.4M651.80 408.40V427.00M650.60 408.40h2.4M650.60 427.00h2.4M655.00 404.00V422.60M653.80 404.00h2.4M653.80 422.60h2.4M658.20 408.00V422.40M657.00 408.00h2.4M657.00 422.40h2.4M661.40 407.60V415.40M660.20 407.60h2.4M660.20 415.40h2.4M664.60 406.40V412.60M663.40 406.40h2.4M663.40 412.60h2.4M667.60 413.00V424.20M666.40 413.00h2.4M666.40 424.20h2.4M670.80 405.00V409.40M669.60 405.00h2.4M669.60 409.40h2.4M674.00 408.40V418.40M672.80 408.40h2.4M672.80 418.40h2.4M677.20 421.60V426.60M676.00 421.60h2.4M676.00 426.60h2.4M680.40 409.00V419.40M679.20 409.00h2.4M679.20 419.40h2.4M683.40 408.40V416.60M682.20 408.40h2.4M682.20 416.60h2.4M686.60 401.00V417.60M685.40 401.00h2.4M685.40 417.60h2.4M689.80 412.40V420.00M688.60 412.40h2.4M688.60 420.00h2.4M693.00 411.60V418.00M691.80 411.60h2.4M691.80 418.00h2.4M696.00 408.60V417.60M694.80 408.60h2.4M694.80 417.60h2.4M699.20 411.00V422.40M698.00 411.00h2.4M698.00 422.40h2.4M702.40 411.00V421.00M701.20 411.00h2.4M701.20 421.00h2.4M727.40 417.00V428.40M726.20 417.00h2.4M726.20 428.40h2.4M730.60 412.00V418.40M729.40 412.00h2.4M729.40 418.40h2.4M733.80 413.00V418.00M732.60 413.00h2.4M732.60 418.00h2.4M737.00 417.40V419.60M735.80 417.40h2.4M735.80 419.60h2.4M755.80 430.00V435.40M754.60 430.00h2.4M754.60 435.40h2.4M759.00 413.40V425.60M757.80 413.40h2.4M757.80 425.60h2.4M762.20 405.60V426.40M761.00 405.60h2.4M761.00 426.40h2.4M765.40 421.00V428.40M764.20 421.00h2.4M764.20 428.40h2.4M768.40 416.40V426.00M767.20 416.40h2.4M767.20 426.00h2.4" fill="none" stroke="#3a3ad8" stroke-width="0.75"/>
<circle cx="469.20" cy="414.00" r="1.25" fill="#2222cc"/>
<circle cx="472.40" cy="401.00" r="1.25" fill="#2222cc"/>
<circle cx="475.60" cy="398.00" r="1.25" fill="#2222cc"/>
<circle cx="478.80" cy="405.00" r="1.25" fill="#2222cc"/>
<circle cx="481.80" cy="403.00" r="1.25" fill="#2222cc"/>
<circle cx="497.40" cy="411.60" r="1.25" fill="#2222cc"/>
<circle cx="500.60" cy="408.60" r="1.25" fill="#2222cc"/>
<circle cx="503.80" cy="413.60" r="1.25" fill="#2222cc"/>
<circle cx="507.00" cy="416.00" r="1.25" fill="#2222cc"/>
<circle cx="510.00" cy="411.60" r="1.25" fill="#2222cc"/>
<circle cx="513.20" cy="424.00" r="1.25" fill="#2222cc"/>
<circle cx="516.40" cy="428.00" r="1.25" fill="#2222cc"/>
<circle cx="519.60" cy="414.00" r="1.25" fill="#2222cc"/>
<circle cx="529.00" cy="424.40" r="1.25" fill="#2222cc"/>
<circle cx="554.40" cy="406.00" r="1.25" fill="#2222cc"/>
<circle cx="582.60" cy="413.00" r="1.25" fill="#2222cc"/>
<circle cx="585.80" cy="408.00" r="1.25" fill="#2222cc"/>
<circle cx="589.00" cy="409.60" r="1.25" fill="#2222cc"/>
<circle cx="610.80" cy="432.60" r="1.25" fill="#2222cc"/>
<circle cx="614.00" cy="427.00" r="1.25" fill="#2222cc"/>
<circle cx="617.20" cy="427.00" r="1.25" fill="#2222cc"/>
<circle cx="620.40" cy="421.60" r="1.25" fill="#2222cc"/>
<circle cx="623.60" cy="418.00" r="1.25" fill="#2222cc"/>
<circle cx="626.60" cy="420.00" r="1.25" fill="#2222cc"/>
<circle cx="629.80" cy="427.60" r="1.25" fill="#2222cc"/>
<circle cx="645.40" cy="431.60" r="1.25" fill="#2222cc"/>
<circle cx="648.60" cy="420.60" r="1.25" fill="#2222cc"/>
<circle cx="651.80" cy="417.40" r="1.25" fill="#2222cc"/>
<circle cx="655.00" cy="413.40" r="1.25" fill="#2222cc"/>
<circle cx="658.20" cy="415.00" r="1.25" fill="#2222cc"/>
<circle cx="661.40" cy="411.40" r="1.25" fill="#2222cc"/>
<circle cx="664.60" cy="409.40" r="1.25" fill="#2222cc"/>
<circle cx="667.60" cy="418.60" r="1.25" fill="#2222cc"/>
<circle cx="670.80" cy="407.00" r="1.25" fill="#2222cc"/>
<circle cx="674.00" cy="413.40" r="1.25" fill="#2222cc"/>
<circle cx="677.20" cy="424.00" r="1.25" fill="#2222cc"/>
<circle cx="680.40" cy="414.00" r="1.25" fill="#2222cc"/>
<circle cx="683.40" cy="412.60" r="1.25" fill="#2222cc"/>
<circle cx="686.60" cy="409.40" r="1.25" fill="#2222cc"/>
<circle cx="689.80" cy="416.00" r="1.25" fill="#2222cc"/>
<circle cx="693.00" cy="414.60" r="1.25" fill="#2222cc"/>
<circle cx="696.00" cy="413.00" r="1.25" fill="#2222cc"/>
<circle cx="699.20" cy="416.60" r="1.25" fill="#2222cc"/>
<circle cx="702.40" cy="416.00" r="1.25" fill="#2222cc"/>
<circle cx="727.40" cy="422.00" r="1.25" fill="#2222cc"/>
<circle cx="730.60" cy="415.00" r="1.25" fill="#2222cc"/>
<circle cx="733.80" cy="415.40" r="1.25" fill="#2222cc"/>
<circle cx="737.00" cy="418.40" r="1.25" fill="#2222cc"/>
<circle cx="755.80" cy="432.60" r="1.25" fill="#2222cc"/>
<circle cx="759.00" cy="419.60" r="1.25" fill="#2222cc"/>
<circle cx="762.20" cy="416.00" r="1.25" fill="#2222cc"/>
<circle cx="765.40" cy="424.60" r="1.25" fill="#2222cc"/>
<circle cx="768.40" cy="421.00" r="1.25" fill="#2222cc"/>
<g clip-path="url(#clipb1)">
<rect x="81" y="205" width="89" height="88.3" fill="#060000"/>
<circle cx="125.5" cy="249.15" r="43.949999999999996" fill="url(#disc)"/>
<g filter="url(#rough)"><path d="M127.5 207 C118 213 104 225 103.7 236 C103.5 247 112 257 125 258.3 C137 259 149 250 149.3 240 C149.5 228 144 218 138.4 208" fill="none" stroke="#8e1000" stroke-width="11" filter="url(#b3)" opacity="0.55"/><path d="M127.5 207 C118 213 104 225 103.7 236 C103.5 247 112 257 125 258.3 C137 259 149 250 149.3 240 C149.5 228 144 218 138.4 208" fill="none" stroke="#c22300" stroke-width="6" filter="url(#b2)" opacity="0.8"/><path d="M127.5 207 C118 213 104 225 103.7 236 C103.5 247 112 257 125 258.3 C137 259 149 250 149.3 240 C149.5 228 144 218 138.4 208" fill="#380000" stroke="#380000" stroke-width="0.5" filter="url(#b07)"/><path d="M127.5 207 C118 213 104 225 103.7 236 C103.5 247 112 257 125 258.3 C137 259 149 250 149.3 240 C149.5 228 144 218 138.4 208" fill="none" stroke="#ee540e" stroke-width="3.6" filter="url(#b07)"/><path d="M127.5 207 C118 213 104 225 103.7 236 C103.5 247 112 257 125 258.3 C137 259 149 250 149.3 240 C149.5 228 144 218 138.4 208" fill="none" stroke="#ffd090" stroke-width="1.7999999999999998" filter="url(#b05)" opacity="0.3"/><path d="M106 226 C103 238 108 250 121 257" fill="none" stroke="#ffe8b8" stroke-width="1.7" stroke-linecap="round" filter="url(#b05)"/><path d="M120 256 C126 259 134 258 140 254" fill="none" stroke="#ffe8b8" stroke-width="1.7" stroke-linecap="round" filter="url(#b05)"/><path d="M119.5 254 L124 252.5 L128 254 L132 252.8 L137.5 254.5 L134 257.5 L126 258 Z" fill="#fff6e0" filter="url(#b05)"/><path d="M143 213 C150 224 154 238 150 248" fill="none" stroke="#d03a00" stroke-width="1.6" stroke-linecap="round" filter="url(#b1)" opacity="0.7"/></g>
<circle cx="125.1" cy="249.0" r="3.4" fill="#c83000" filter="url(#b1)"/>
<circle cx="125.1" cy="249.0" r="1.8" fill="#ff9a55"/>
<circle cx="125.1" cy="249.0" r="0.8" fill="#fff0d8"/>
</g>
<g clip-path="url(#clipb2)">
<rect x="173.8" y="205" width="88.3" height="88.3" fill="#060000"/>
<circle cx="217.95000000000002" cy="249.15" r="43.949999999999996" fill="url(#disc)"/>
<g filter="url(#rough)"><path d="M235.40 245.60 L235.27 248.13 L234.89 250.63 L234.26 253.08 L233.39 255.44 L232.29 257.70 L230.97 259.82 L229.44 261.79 L227.72 263.58 L225.84 265.18 L223.80 266.56 L221.64 267.71 L219.37 268.62 L217.02 269.27 L214.63 269.67 L212.20 269.80 L209.77 269.67 L207.38 269.27 L205.03 268.62 L202.76 267.71 L200.60 266.56 L198.56 265.18 L196.68 263.58 L194.96 261.79 L193.43 259.82 L192.11 257.70 L191.01 255.44 L190.14 253.08 L189.51 250.63 L189.13 248.13 L189.00 245.60 L189.13 243.07 L189.51 240.57 L190.14 238.12 L191.01 235.76 L192.11 233.50 L193.43 231.38 L194.96 229.41 L196.68 227.62 L198.56 226.02 L200.60 224.64 L202.76 223.49 L205.03 222.58 L207.38 221.93 L209.77 221.53 L212.20 221.40 L214.63 221.53 L217.02 221.93 L219.37 222.58 L221.64 223.49 L223.80 224.64 L225.84 226.02 L227.72 227.62 L229.44 229.41 L230.97 231.38 L232.29 233.50 L233.39 235.76 L234.26 238.12 L234.89 240.57 L235.27 243.07 L235.40 245.60Z" fill="none" stroke="#8e1000" stroke-width="11" filter="url(#b3)" opacity="0.55"/><path d="M235.40 245.60 L235.27 248.13 L234.89 250.63 L234.26 253.08 L233.39 255.44 L232.29 257.70 L230.97 259.82 L229.44 261.79 L227.72 263.58 L225.84 265.18 L223.80 266.56 L221.64 267.71 L219.37 268.62 L217.02 269.27 L214.63 269.67 L212.20 269.80 L209.77 269.67 L207.38 269.27 L205.03 268.62 L202.76 267.71 L200.60 266.56 L198.56 265.18 L196.68 263.58 L194.96 261.79 L193.43 259.82 L192.11 257.70 L191.01 255.44 L190.14 253.08 L189.51 250.63 L189.13 248.13 L189.00 245.60 L189.13 243.07 L189.51 240.57 L190.14 238.12 L191.01 235.76 L192.11 233.50 L193.43 231.38 L194.96 229.41 L196.68 227.62 L198.56 226.02 L200.60 224.64 L202.76 223.49 L205.03 222.58 L207.38 221.93 L209.77 221.53 L212.20 221.40 L214.63 221.53 L217.02 221.93 L219.37 222.58 L221.64 223.49 L223.80 224.64 L225.84 226.02 L227.72 227.62 L229.44 229.41 L230.97 231.38 L232.29 233.50 L233.39 235.76 L234.26 238.12 L234.89 240.57 L235.27 243.07 L235.40 245.60Z" fill="none" stroke="#c22300" stroke-width="6" filter="url(#b2)" opacity="0.8"/><path d="M235.40 245.60 L235.27 248.13 L234.89 250.63 L234.26 253.08 L233.39 255.44 L232.29 257.70 L230.97 259.82 L229.44 261.79 L227.72 263.58 L225.84 265.18 L223.80 266.56 L221.64 267.71 L219.37 268.62 L217.02 269.27 L214.63 269.67 L212.20 269.80 L209.77 269.67 L207.38 269.27 L205.03 268.62 L202.76 267.71 L200.60 266.56 L198.56 265.18 L196.68 263.58 L194.96 261.79 L193.43 259.82 L192.11 257.70 L191.01 255.44 L190.14 253.08 L189.51 250.63 L189.13 248.13 L189.00 245.60 L189.13 243.07 L189.51 240.57 L190.14 238.12 L191.01 235.76 L192.11 233.50 L193.43 231.38 L194.96 229.41 L196.68 227.62 L198.56 226.02 L200.60 224.64 L202.76 223.49 L205.03 222.58 L207.38 221.93 L209.77 221.53 L212.20 221.40 L214.63 221.53 L217.02 221.93 L219.37 222.58 L221.64 223.49 L223.80 224.64 L225.84 226.02 L227.72 227.62 L229.44 229.41 L230.97 231.38 L232.29 233.50 L233.39 235.76 L234.26 238.12 L234.89 240.57 L235.27 243.07 L235.40 245.60Z" fill="#380000" stroke="#380000" stroke-width="0.5" filter="url(#b07)"/><path d="M238.80 245.60 L238.65 248.48 L238.22 251.34 L237.50 254.13 L236.50 256.83 L235.24 259.40 L233.72 261.82 L231.97 264.07 L230.00 266.11 L227.84 267.93 L225.50 269.50 L223.02 270.81 L220.42 271.85 L217.73 272.60 L214.98 273.05 L212.20 273.20 L209.42 273.05 L206.67 272.60 L203.98 271.85 L201.38 270.81 L198.90 269.50 L196.56 267.93 L194.40 266.11 L192.43 264.07 L190.68 261.82 L189.16 259.40 L187.90 256.83 L186.90 254.13 L186.18 251.34 L185.75 248.48 L185.60 245.60 L185.75 242.72 L186.18 239.86 L186.90 237.07 L187.90 234.37 L189.16 231.80 L190.68 229.38 L192.43 227.13 L194.40 225.09 L196.56 223.27 L198.90 221.70 L201.38 220.39 L203.98 219.35 L206.67 218.60 L209.42 218.15 L212.20 218.00 L214.98 218.15 L217.73 218.60 L220.42 219.35 L223.02 220.39 L225.50 221.70 L227.84 223.27 L230.00 225.09 L231.97 227.13 L233.72 229.38 L235.24 231.80 L236.50 234.37 L237.50 237.07 L238.22 239.86 L238.65 242.72 L238.80 245.60Z" fill="none" stroke="#c83000" stroke-width="2.0" stroke-linecap="round" filter="url(#b1)" opacity="0.75"/><path d="M235.40 245.60 L235.27 248.13 L234.89 250.63 L234.26 253.08 L233.39 255.44 L232.29 257.70 L230.97 259.82 L229.44 261.79 L227.72 263.58 L225.84 265.18 L223.80 266.56 L221.64 267.71 L219.37 268.62 L217.02 269.27 L214.63 269.67 L212.20 269.80 L209.77 269.67 L207.38 269.27 L205.03 268.62 L202.76 267.71 L200.60 266.56 L198.56 265.18 L196.68 263.58 L194.96 261.79 L193.43 259.82 L192.11 257.70 L191.01 255.44 L190.14 253.08 L189.51 250.63 L189.13 248.13 L189.00 245.60 L189.13 243.07 L189.51 240.57 L190.14 238.12 L191.01 235.76 L192.11 233.50 L193.43 231.38 L194.96 229.41 L196.68 227.62 L198.56 226.02 L200.60 224.64 L202.76 223.49 L205.03 222.58 L207.38 221.93 L209.77 221.53 L212.20 221.40 L214.63 221.53 L217.02 221.93 L219.37 222.58 L221.64 223.49 L223.80 224.64 L225.84 226.02 L227.72 227.62 L229.44 229.41 L230.97 231.38 L232.29 233.50 L233.39 235.76 L234.26 238.12 L234.89 240.57 L235.27 243.07 L235.40 245.60Z" fill="none" stroke="#ee540e" stroke-width="3.8" filter="url(#b07)"/><path d="M235.40 245.60 L235.27 248.13 L234.89 250.63 L234.26 253.08 L233.39 255.44 L232.29 257.70 L230.97 259.82 L229.44 261.79 L227.72 263.58 L225.84 265.18 L223.80 266.56 L221.64 267.71 L219.37 268.62 L217.02 269.27 L214.63 269.67 L212.20 269.80 L209.77 269.67 L207.38 269.27 L205.03 268.62 L202.76 267.71 L200.60 266.56 L198.56 265.18 L196.68 263.58 L194.96 261.79 L193.43 259.82 L192.11 257.70 L191.01 255.44 L190.14 253.08 L189.51 250.63 L189.13 248.13 L189.00 245.60 L189.13 243.07 L189.51 240.57 L190.14 238.12 L191.01 235.76 L192.11 233.50 L193.43 231.38 L194.96 229.41 L196.68 227.62 L198.56 226.02 L200.60 224.64 L202.76 223.49 L205.03 222.58 L207.38 221.93 L209.77 221.53 L212.20 221.40 L214.63 221.53 L217.02 221.93 L219.37 222.58 L221.64 223.49 L223.80 224.64 L225.84 226.02 L227.72 227.62 L229.44 229.41 L230.97 231.38 L232.29 233.50 L233.39 235.76 L234.26 238.12 L234.89 240.57 L235.27 243.07 L235.40 245.60Z" fill="none" stroke="#ffd090" stroke-width="2.0" filter="url(#b05)" opacity="0.85"/><path d="M233.8 240 C236 252 230 263 219 268" fill="none" stroke="#fff2d0" stroke-width="2.0" stroke-linecap="round" filter="url(#b05)"/><path d="M190 238 C192 228 200 222 211 221.6" fill="none" stroke="#ffe0a8" stroke-width="1.4" stroke-linecap="round" filter="url(#b05)"/></g>
<circle cx="218.1" cy="249.0" r="3.4" fill="#c83000" filter="url(#b1)"/>
<circle cx="218.1" cy="249.0" r="1.8" fill="#ff9a55"/>
<circle cx="218.1" cy="249.0" r="0.8" fill="#fff0d8"/>
</g>
<g clip-path="url(#clipb3)">
<rect x="267" y="205" width="88" height="88.3" fill="#060000"/>
<circle cx="311.0" cy="249.15" r="43.8" fill="url(#disc)"/>
<g filter="url(#rough)"><path d="M336.20 255.30 L336.06 257.77 L335.64 260.21 L334.95 262.59 L333.99 264.90 L332.77 267.10 L331.31 269.17 L329.62 271.09 L327.73 272.84 L325.65 274.39 L323.40 275.74 L321.01 276.86 L318.51 277.74 L315.92 278.38 L313.28 278.77 L310.60 278.90 L307.92 278.77 L305.28 278.38 L302.69 277.74 L300.19 276.86 L297.80 275.74 L295.55 274.39 L293.47 272.84 L291.58 271.09 L289.89 269.17 L288.43 267.10 L287.21 264.90 L286.25 262.59 L285.56 260.21 L285.14 257.77 L285.00 255.30 L285.14 252.83 L285.56 250.39 L286.25 248.01 L287.21 245.70 L288.43 243.50 L289.89 241.43 L291.58 239.51 L293.47 237.76 L295.55 236.21 L297.80 234.86 L300.19 233.74 L302.69 232.86 L305.28 232.22 L307.92 231.83 L310.60 231.70 L313.28 231.83 L315.92 232.22 L318.51 232.86 L321.01 233.74 L323.40 234.86 L325.65 236.21 L327.73 237.76 L329.62 239.51 L331.31 241.43 L332.77 243.50 L333.99 245.70 L334.95 248.01 L335.64 250.39 L336.06 252.83 L336.20 255.30Z" fill="none" stroke="#8e1000" stroke-width="11" filter="url(#b3)" opacity="0.55"/><path d="M336.20 255.30 L336.06 257.77 L335.64 260.21 L334.95 262.59 L333.99 264.90 L332.77 267.10 L331.31 269.17 L329.62 271.09 L327.73 272.84 L325.65 274.39 L323.40 275.74 L321.01 276.86 L318.51 277.74 L315.92 278.38 L313.28 278.77 L310.60 278.90 L307.92 278.77 L305.28 278.38 L302.69 277.74 L300.19 276.86 L297.80 275.74 L295.55 274.39 L293.47 272.84 L291.58 271.09 L289.89 269.17 L288.43 267.10 L287.21 264.90 L286.25 262.59 L285.56 260.21 L285.14 257.77 L285.00 255.30 L285.14 252.83 L285.56 250.39 L286.25 248.01 L287.21 245.70 L288.43 243.50 L289.89 241.43 L291.58 239.51 L293.47 237.76 L295.55 236.21 L297.80 234.86 L300.19 233.74 L302.69 232.86 L305.28 232.22 L307.92 231.83 L310.60 231.70 L313.28 231.83 L315.92 232.22 L318.51 232.86 L321.01 233.74 L323.40 234.86 L325.65 236.21 L327.73 237.76 L329.62 239.51 L331.31 241.43 L332.77 243.50 L333.99 245.70 L334.95 248.01 L335.64 250.39 L336.06 252.83 L336.20 255.30Z" fill="none" stroke="#c22300" stroke-width="6" filter="url(#b2)" opacity="0.8"/><path d="M336.20 255.30 L336.06 257.77 L335.64 260.21 L334.95 262.59 L333.99 264.90 L332.77 267.10 L331.31 269.17 L329.62 271.09 L327.73 272.84 L325.65 274.39 L323.40 275.74 L321.01 276.86 L318.51 277.74 L315.92 278.38 L313.28 278.77 L310.60 278.90 L307.92 278.77 L305.28 278.38 L302.69 277.74 L300.19 276.86 L297.80 275.74 L295.55 274.39 L293.47 272.84 L291.58 271.09 L289.89 269.17 L288.43 267.10 L287.21 264.90 L286.25 262.59 L285.56 260.21 L285.14 257.77 L285.00 255.30 L285.14 252.83 L285.56 250.39 L286.25 248.01 L287.21 245.70 L288.43 243.50 L289.89 241.43 L291.58 239.51 L293.47 237.76 L295.55 236.21 L297.80 234.86 L300.19 233.74 L302.69 232.86 L305.28 232.22 L307.92 231.83 L310.60 231.70 L313.28 231.83 L315.92 232.22 L318.51 232.86 L321.01 233.74 L323.40 234.86 L325.65 236.21 L327.73 237.76 L329.62 239.51 L331.31 241.43 L332.77 243.50 L333.99 245.70 L334.95 248.01 L335.64 250.39 L336.06 252.83 L336.20 255.30Z" fill="#380000" stroke="#380000" stroke-width="0.5" filter="url(#b07)"/><path d="M339.20 255.00 L339.04 257.78 L338.58 260.53 L337.80 263.22 L336.73 265.82 L335.37 268.30 L333.74 270.64 L331.85 272.80 L329.74 274.77 L327.41 276.52 L324.90 278.04 L322.23 279.30 L319.44 280.30 L316.55 281.02 L313.59 281.45 L310.60 281.60 L307.61 281.45 L304.65 281.02 L301.76 280.30 L298.97 279.30 L296.30 278.04 L293.79 276.52 L291.46 274.77 L289.35 272.80 L287.46 270.64 L285.83 268.30 L284.47 265.82 L283.40 263.22 L282.62 260.53 L282.16 257.78 L282.00 255.00 L282.16 252.22 L282.62 249.47 L283.40 246.78 L284.47 244.18 L285.83 241.70 L287.46 239.36 L289.35 237.20 L291.46 235.23 L293.79 233.48 L296.30 231.96 L298.97 230.70 L301.76 229.70 L304.65 228.98 L307.61 228.55 L310.60 228.40 L313.59 228.55 L316.55 228.98 L319.44 229.70 L322.23 230.70 L324.90 231.96 L327.41 233.48 L329.74 235.23 L331.85 237.20 L333.74 239.36 L335.37 241.70 L336.73 244.18 L337.80 246.78 L338.58 249.47 L339.04 252.22 L339.20 255.00Z" fill="none" stroke="#b82800" stroke-width="2.0" stroke-linecap="round" filter="url(#b1)" opacity="0.6"/><path d="M336.20 255.30 L336.06 257.77 L335.64 260.21 L334.95 262.59 L333.99 264.90 L332.77 267.10 L331.31 269.17 L329.62 271.09 L327.73 272.84 L325.65 274.39 L323.40 275.74 L321.01 276.86 L318.51 277.74 L315.92 278.38 L313.28 278.77 L310.60 278.90 L307.92 278.77 L305.28 278.38 L302.69 277.74 L300.19 276.86 L297.80 275.74 L295.55 274.39 L293.47 272.84 L291.58 271.09 L289.89 269.17 L288.43 267.10 L287.21 264.90 L286.25 262.59 L285.56 260.21 L285.14 257.77 L285.00 255.30 L285.14 252.83 L285.56 250.39 L286.25 248.01 L287.21 245.70 L288.43 243.50 L289.89 241.43 L291.58 239.51 L293.47 237.76 L295.55 236.21 L297.80 234.86 L300.19 233.74 L302.69 232.86 L305.28 232.22 L307.92 231.83 L310.60 231.70 L313.28 231.83 L315.92 232.22 L318.51 232.86 L321.01 233.74 L323.40 234.86 L325.65 236.21 L327.73 237.76 L329.62 239.51 L331.31 241.43 L332.77 243.50 L333.99 245.70 L334.95 248.01 L335.64 250.39 L336.06 252.83 L336.20 255.30Z" fill="none" stroke="#ee540e" stroke-width="4.6" filter="url(#b07)"/><path d="M336.20 255.30 L336.06 257.77 L335.64 260.21 L334.95 262.59 L333.99 264.90 L332.77 267.10 L331.31 269.17 L329.62 271.09 L327.73 272.84 L325.65 274.39 L323.40 275.74 L321.01 276.86 L318.51 277.74 L315.92 278.38 L313.28 278.77 L310.60 278.90 L307.92 278.77 L305.28 278.38 L302.69 277.74 L300.19 276.86 L297.80 275.74 L295.55 274.39 L293.47 272.84 L291.58 271.09 L289.89 269.17 L288.43 267.10 L287.21 264.90 L286.25 262.59 L285.56 260.21 L285.14 257.77 L285.00 255.30 L285.14 252.83 L285.56 250.39 L286.25 248.01 L287.21 245.70 L288.43 243.50 L289.89 241.43 L291.58 239.51 L293.47 237.76 L295.55 236.21 L297.80 234.86 L300.19 233.74 L302.69 232.86 L305.28 232.22 L307.92 231.83 L310.60 231.70 L313.28 231.83 L315.92 232.22 L318.51 232.86 L321.01 233.74 L323.40 234.86 L325.65 236.21 L327.73 237.76 L329.62 239.51 L331.31 241.43 L332.77 243.50 L333.99 245.70 L334.95 248.01 L335.64 250.39 L336.06 252.83 L336.20 255.30Z" fill="none" stroke="#ffd090" stroke-width="1.9" filter="url(#b05)" opacity="0.55"/><path d="M291 240 C300 231 321 230 332 242" fill="none" stroke="#ffe2a8" stroke-width="1.6" stroke-linecap="round" filter="url(#b05)"/><path d="M335.8 250 C337 260 332 270 322 276" fill="none" stroke="#ffd898" stroke-width="1.5" stroke-linecap="round" filter="url(#b05)"/></g>
<circle cx="311.0" cy="249.0" r="3.4" fill="#c83000" filter="url(#b1)"/>
<circle cx="311.0" cy="249.0" r="1.8" fill="#ff9a55"/>
<circle cx="311.0" cy="249.0" r="0.8" fill="#fff0d8"/>
</g>
<g clip-path="url(#clipd1)">
<rect x="481.5" y="205.5" width="88.7" height="89" fill="#060000"/>
<circle cx="525.85" cy="250.0" r="44.15" fill="url(#disc)"/>
<g filter="url(#rough2)"><path d="M540.29 271.62 L539.01 273.88 L537.55 276.01 L535.92 277.99 L534.14 279.81 L532.23 281.43 L530.22 282.84 L528.11 284.03 L525.94 284.99 L523.72 285.69 L521.49 286.14 L519.27 286.34 L517.08 286.26 L514.95 285.93 L512.89 285.34 L510.94 284.50 L509.11 283.41 L507.43 282.10 L505.90 280.57 L504.56 278.84 L503.41 276.93 L502.46 274.86 L501.73 272.65 L501.22 270.34 L500.95 267.93 L500.91 265.47 L501.10 262.97 L501.52 260.46 L502.17 257.98 L503.03 255.54 L504.11 253.18 L505.39 250.92 L506.85 248.79 L508.48 246.81 L510.26 244.99 L512.17 243.37 L514.18 241.96 L516.29 240.77 L518.46 239.81 L520.68 239.11 L522.91 238.66 L525.13 238.46 L527.32 238.54 L529.45 238.87 L531.51 239.46 L533.46 240.30 L535.29 241.39 L536.97 242.70 L538.50 244.23 L539.84 245.96 L540.99 247.87 L541.94 249.94 L542.67 252.15 L543.18 254.46 L543.45 256.87 L543.49 259.33 L543.30 261.83 L542.88 264.34 L542.23 266.82 L541.37 269.26 L540.29 271.62Z" fill="none" stroke="#8e1000" stroke-width="8.5" filter="url(#b3)" opacity="0.55"/><path d="M540.29 271.62 L539.01 273.88 L537.55 276.01 L535.92 277.99 L534.14 279.81 L532.23 281.43 L530.22 282.84 L528.11 284.03 L525.94 284.99 L523.72 285.69 L521.49 286.14 L519.27 286.34 L517.08 286.26 L514.95 285.93 L512.89 285.34 L510.94 284.50 L509.11 283.41 L507.43 282.10 L505.90 280.57 L504.56 278.84 L503.41 276.93 L502.46 274.86 L501.73 272.65 L501.22 270.34 L500.95 267.93 L500.91 265.47 L501.10 262.97 L501.52 260.46 L502.17 257.98 L503.03 255.54 L504.11 253.18 L505.39 250.92 L506.85 248.79 L508.48 246.81 L510.26 244.99 L512.17 243.37 L514.18 241.96 L516.29 240.77 L518.46 239.81 L520.68 239.11 L522.91 238.66 L525.13 238.46 L527.32 238.54 L529.45 238.87 L531.51 239.46 L533.46 240.30 L535.29 241.39 L536.97 242.70 L538.50 244.23 L539.84 245.96 L540.99 247.87 L541.94 249.94 L542.67 252.15 L543.18 254.46 L543.45 256.87 L543.49 259.33 L543.30 261.83 L542.88 264.34 L542.23 266.82 L541.37 269.26 L540.29 271.62Z" fill="none" stroke="#c22300" stroke-width="3.5" filter="url(#b2)" opacity="0.8"/><path d="M540.29 271.62 L539.01 273.88 L537.55 276.01 L535.92 277.99 L534.14 279.81 L532.23 281.43 L530.22 282.84 L528.11 284.03 L525.94 284.99 L523.72 285.69 L521.49 286.14 L519.27 286.34 L517.08 286.26 L514.95 285.93 L512.89 285.34 L510.94 284.50 L509.11 283.41 L507.43 282.10 L505.90 280.57 L504.56 278.84 L503.41 276.93 L502.46 274.86 L501.73 272.65 L501.22 270.34 L500.95 267.93 L500.91 265.47 L501.10 262.97 L501.52 260.46 L502.17 257.98 L503.03 255.54 L504.11 253.18 L505.39 250.92 L506.85 248.79 L508.48 246.81 L510.26 244.99 L512.17 243.37 L514.18 241.96 L516.29 240.77 L518.46 239.81 L520.68 239.11 L522.91 238.66 L525.13 238.46 L527.32 238.54 L529.45 238.87 L531.51 239.46 L533.46 240.30 L535.29 241.39 L536.97 242.70 L538.50 244.23 L539.84 245.96 L540.99 247.87 L541.94 249.94 L542.67 252.15 L543.18 254.46 L543.45 256.87 L543.49 259.33 L543.30 261.83 L542.88 264.34 L542.23 266.82 L541.37 269.26 L540.29 271.62Z" fill="#380000" stroke="#380000" stroke-width="0.5" filter="url(#b07)"/><path d="M507.7 243.6 C513 237 519 234.5 525.5 234.7 C534 235 541 239 545.3 245.6 C548.5 250 551 255 551.3 261" fill="none" stroke="#e24c0c" stroke-width="2.3" stroke-linecap="round" filter="url(#b1)" opacity="0.9"/><path d="M513 232.5 C522 229.5 536 231 545 238" fill="none" stroke="#b02800" stroke-width="1.6" stroke-linecap="round" filter="url(#b1)" opacity="0.6"/><path d="M540.29 271.62 L539.01 273.88 L537.55 276.01 L535.92 277.99 L534.14 279.81 L532.23 281.43 L530.22 282.84 L528.11 284.03 L525.94 284.99 L523.72 285.69 L521.49 286.14 L519.27 286.34 L517.08 286.26 L514.95 285.93 L512.89 285.34 L510.94 284.50 L509.11 283.41 L507.43 282.10 L505.90 280.57 L504.56 278.84 L503.41 276.93 L502.46 274.86 L501.73 272.65 L501.22 270.34 L500.95 267.93 L500.91 265.47 L501.10 262.97 L501.52 260.46 L502.17 257.98 L503.03 255.54 L504.11 253.18 L505.39 250.92 L506.85 248.79 L508.48 246.81 L510.26 244.99 L512.17 243.37 L514.18 241.96 L516.29 240.77 L518.46 239.81 L520.68 239.11 L522.91 238.66 L525.13 238.46 L527.32 238.54 L529.45 238.87 L531.51 239.46 L533.46 240.30 L535.29 241.39 L536.97 242.70 L538.50 244.23 L539.84 245.96 L540.99 247.87 L541.94 249.94 L542.67 252.15 L543.18 254.46 L543.45 256.87 L543.49 259.33 L543.30 261.83 L542.88 264.34 L542.23 266.82 L541.37 269.26 L540.29 271.62Z" fill="none" stroke="#ee540e" stroke-width="2.5" filter="url(#b07)"/><path d="M540.29 271.62 L539.01 273.88 L537.55 276.01 L535.92 277.99 L534.14 279.81 L532.23 281.43 L530.22 282.84 L528.11 284.03 L525.94 284.99 L523.72 285.69 L521.49 286.14 L519.27 286.34 L517.08 286.26 L514.95 285.93 L512.89 285.34 L510.94 284.50 L509.11 283.41 L507.43 282.10 L505.90 280.57 L504.56 278.84 L503.41 276.93 L502.46 274.86 L501.73 272.65 L501.22 270.34 L500.95 267.93 L500.91 265.47 L501.10 262.97 L501.52 260.46 L502.17 257.98 L503.03 255.54 L504.11 253.18 L505.39 250.92 L506.85 248.79 L508.48 246.81 L510.26 244.99 L512.17 243.37 L514.18 241.96 L516.29 240.77 L518.46 239.81 L520.68 239.11 L522.91 238.66 L525.13 238.46 L527.32 238.54 L529.45 238.87 L531.51 239.46 L533.46 240.30 L535.29 241.39 L536.97 242.70 L538.50 244.23 L539.84 245.96 L540.99 247.87 L541.94 249.94 L542.67 252.15 L543.18 254.46 L543.45 256.87 L543.49 259.33 L543.30 261.83 L542.88 264.34 L542.23 266.82 L541.37 269.26 L540.29 271.62Z" fill="none" stroke="#ffd090" stroke-width="1.4" filter="url(#b05)" opacity="1.0"/><path d="M502.5 259 C505 248 516 240 528 240.3 C537 241.5 543.5 248 544.6 256" fill="none" stroke="#fff2d0" stroke-width="1.3" stroke-linecap="round" filter="url(#b05)"/></g>
<circle cx="525.5" cy="250.2" r="3.2" fill="#b82a00" filter="url(#b1)"/>
<circle cx="525.5" cy="250.2" r="2.1" fill="#5a0800" stroke="#ffb880" stroke-width="0.9"/>
<circle cx="525.5" cy="250.2" r="0.8" fill="#fff0d8"/>
</g>
<g clip-path="url(#clipd2)">
<rect x="574.5" y="205.5" width="88.5" height="89" fill="#060000"/>
<circle cx="618.75" cy="250.0" r="44.05" fill="url(#disc)"/>
<g filter="url(#rough2)"><path d="M633.4 226.8 C626 229.5 618 230.5 611.6 232.7 C605 236 601 243 600.7 250 C600.5 260 605 268 612 271.6 C618 274.5 626 273.5 631 269 C636 264 638.5 257 638.3 251 C638 247 636.5 246 637.5 242 C639 236 641.5 230 642.3 221.8" fill="none" stroke="#8e1000" stroke-width="8.5" filter="url(#b3)" opacity="0.55"/><path d="M633.4 226.8 C626 229.5 618 230.5 611.6 232.7 C605 236 601 243 600.7 250 C600.5 260 605 268 612 271.6 C618 274.5 626 273.5 631 269 C636 264 638.5 257 638.3 251 C638 247 636.5 246 637.5 242 C639 236 641.5 230 642.3 221.8" fill="none" stroke="#c22300" stroke-width="3.5" filter="url(#b2)" opacity="0.8"/><path d="M633.4 226.8 C626 229.5 618 230.5 611.6 232.7 C605 236 601 243 600.7 250 C600.5 260 605 268 612 271.6 C618 274.5 626 273.5 631 269 C636 264 638.5 257 638.3 251 C638 247 636.5 246 637.5 242 Z" fill="#380000" stroke="#380000" stroke-width="0.5" filter="url(#b07)"/><path d="M598 236 C594.5 244 594.5 256 598 265" fill="none" stroke="#c03000" stroke-width="1.8" stroke-linecap="round" filter="url(#b1)" opacity="0.7"/><path d="M633.4 226.8 C626 229.5 618 230.5 611.6 232.7 C605 236 601 243 600.7 250 C600.5 260 605 268 612 271.6 C618 274.5 626 273.5 631 269 C636 264 638.5 257 638.3 251 C638 247 636.5 246 637.5 242 C639 236 641.5 230 642.3 221.8" fill="none" stroke="#ee540e" stroke-width="2.6" filter="url(#b07)"/><path d="M633.4 226.8 C626 229.5 618 230.5 611.6 232.7 C605 236 601 243 600.7 250 C600.5 260 605 268 612 271.6 C618 274.5 626 273.5 631 269 C636 264 638.5 257 638.3 251 C638 247 636.5 246 637.5 242 C639 236 641.5 230 642.3 221.8" fill="none" stroke="#ffd090" stroke-width="1.4" filter="url(#b05)" opacity="0.7"/><path d="M630 228 C622 230.5 612 232 606 238 C600 245 600 256 604 263" fill="none" stroke="#fff2d0" stroke-width="1.2" stroke-linecap="round" filter="url(#b05)"/></g>
<circle cx="618.5" cy="250.2" r="3.2" fill="#b82a00" filter="url(#b1)"/>
<circle cx="618.5" cy="250.2" r="2.1" fill="#5a0800" stroke="#ffb880" stroke-width="0.9"/>
<circle cx="618.5" cy="250.2" r="0.8" fill="#fff0d8"/>
</g>
<g clip-path="url(#clipd3)">
<rect x="667" y="205.5" width="88.5" height="89" fill="#060000"/>
<circle cx="711.25" cy="250.0" r="44.05" fill="url(#disc)"/>
<g filter="url(#rough2)"><path d="M719.4 234.7 C713 235.5 709 237.5 706.5 241 C703.5 246 703 256 705 263 C707 270 713 275 720.4 275.5 C728 275.8 734 271 737.5 264 C740 259 743.5 255 743.2 251.5 C743 247 741.5 244 738.5 241 C734 236.5 727 234.5 719.4 234.7Z" fill="none" stroke="#8e1000" stroke-width="8.5" filter="url(#b3)" opacity="0.55"/><path d="M719.4 234.7 C713 235.5 709 237.5 706.5 241 C703.5 246 703 256 705 263 C707 270 713 275 720.4 275.5 C728 275.8 734 271 737.5 264 C740 259 743.5 255 743.2 251.5 C743 247 741.5 244 738.5 241 C734 236.5 727 234.5 719.4 234.7Z" fill="none" stroke="#c22300" stroke-width="3.5" filter="url(#b2)" opacity="0.8"/><path d="M719.4 234.7 C713 235.5 709 237.5 706.5 241 C703.5 246 703 256 705 263 C707 270 713 275 720.4 275.5 C728 275.8 734 271 737.5 264 C740 259 743.5 255 743.2 251.5 C743 247 741.5 244 738.5 241 C734 236.5 727 234.5 719.4 234.7Z" fill="#380000" stroke="#380000" stroke-width="0.5" filter="url(#b07)"/><path d="M699 240 C696 248 696 258 699 266" fill="none" stroke="#c03000" stroke-width="1.8" stroke-linecap="round" filter="url(#b1)" opacity="0.7"/><path d="M713 231 C722 229 736 231 744 240" fill="none" stroke="#c03000" stroke-width="1.8" stroke-linecap="round" filter="url(#b1)" opacity="0.7"/><path d="M719.4 234.7 C713 235.5 709 237.5 706.5 241 C703.5 246 703 256 705 263 C707 270 713 275 720.4 275.5 C728 275.8 734 271 737.5 264 C740 259 743.5 255 743.2 251.5 C743 247 741.5 244 738.5 241 C734 236.5 727 234.5 719.4 234.7Z" fill="none" stroke="#ee540e" stroke-width="2.5" filter="url(#b07)"/><path d="M719.4 234.7 C713 235.5 709 237.5 706.5 241 C703.5 246 703 256 705 263 C707 270 713 275 720.4 275.5 C728 275.8 734 271 737.5 264 C740 259 743.5 255 743.2 251.5 C743 247 741.5 244 738.5 241 C734 236.5 727 234.5 719.4 234.7Z" fill="none" stroke="#ffd090" stroke-width="1.4" filter="url(#b05)" opacity="1.0"/><path d="M705.5 264 C703 255 704 245 708.5 240 C714 235 726 234 734 238" fill="none" stroke="#fff2d0" stroke-width="1.4" stroke-linecap="round" filter="url(#b05)"/></g>
<circle cx="711.0" cy="250.2" r="3.2" fill="#b82a00" filter="url(#b1)"/>
<circle cx="711.0" cy="250.2" r="2.1" fill="#5a0800" stroke="#ffb880" stroke-width="0.9"/>
<circle cx="711.0" cy="250.2" r="0.8" fill="#fff0d8"/>
</g>
<text transform="translate(82.40,290.60) scale(1.0292,1)" font-size="12.6" text-anchor="start" fill="#8cc850" stroke="#8cc850" stroke-width="0.25">Carina</text>
<text transform="translate(178.50,283.30) scale(1.0477,1)" font-size="12.6" text-anchor="start" fill="#f7c600" stroke="#f7c600" stroke-width="0.25">6 mm</text>
<rect x="183.4" y="286.5" width="22.9" height="3.1" fill="#f7c600"/>
<text transform="translate(269.00,291.20)" font-size="12.6" text-anchor="start" fill="#8cc850" stroke="#8cc850" stroke-width="0.25">Mid-Trachea</text>
<text transform="translate(482.60,292.50) scale(1.0305,1)" font-size="12.6" text-anchor="start" fill="#8cc850" stroke="#8cc850" stroke-width="0.25">Main Bronchus</text>
<text transform="translate(581.90,284.80) scale(1.0350,1)" font-size="12.6" text-anchor="start" fill="#f7c600" stroke="#f7c600" stroke-width="0.25">6 mm</text>
<rect x="586.7" y="287.7" width="22.6" height="3.0" fill="#f7c600"/>
<text transform="translate(623.00,291.30) scale(1.0292,1)" font-size="12.6" text-anchor="start" fill="#8cc850" stroke="#8cc850" stroke-width="0.25">Carina</text>
<text transform="translate(669.40,291.30)" font-size="12.6" text-anchor="start" fill="#8cc850" stroke="#8cc850" stroke-width="0.25">Mid-Trachea</text>
<line x1="125.60" y1="293.30" x2="131.56" y2="358.72" stroke="#1c6c8c" stroke-width="1.4" />
<polygon points="132.00,363.60 128.83,357.46 134.01,356.99" fill="#1c6c8c"/>
<line x1="217.40" y1="293.30" x2="217.31" y2="334.10" stroke="#1c6c8c" stroke-width="1.4" />
<polygon points="217.30,339.00 214.71,332.59 219.91,332.61" fill="#1c6c8c"/>
<line x1="310.00" y1="293.30" x2="334.11" y2="358.80" stroke="#1c6c8c" stroke-width="1.4" />
<polygon points="335.80,363.40 331.15,358.29 336.03,356.50" fill="#1c6c8c"/>
<line x1="526.50" y1="294.50" x2="497.73" y2="350.64" stroke="#1c6c8c" stroke-width="1.4" />
<polygon points="495.50,355.00 496.10,348.12 500.73,350.49" fill="#1c6c8c"/>
<line x1="618.50" y1="294.50" x2="603.49" y2="360.22" stroke="#1c6c8c" stroke-width="1.4" />
<polygon points="602.40,365.00 601.29,358.18 606.36,359.34" fill="#1c6c8c"/>
<line x1="711.00" y1="294.50" x2="746.55" y2="371.55" stroke="#1c6c8c" stroke-width="1.4" />
<polygon points="748.60,376.00 743.56,371.28 748.28,369.10" fill="#1c6c8c"/>
</svg>
</body></html>
